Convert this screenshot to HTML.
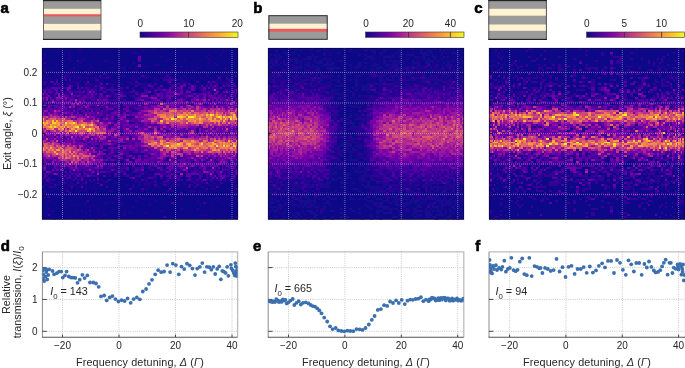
<!DOCTYPE html>
<html><head><meta charset="utf-8"><title>figure</title><style>
html,body{margin:0;padding:0;background:#fff}
body{width:685px;height:368px;overflow:hidden;position:relative}
svg.main{position:absolute;left:0;top:0;display:block;will-change:transform}
text{font-family:"Liberation Sans",sans-serif;fill:#262626}
.pl{font-size:15px;font-weight:bold;fill:#000;stroke:#000;stroke-width:0.6px}
.tk{font-size:10px}
.lb{font-size:10.8px}
</style></head><body>
<svg class="main" width="685" height="368" viewBox="0 0 685 368">
<text x="0.5" y="12.8" class="pl">a</text>
<text x="253.2" y="12.8" class="pl">b</text>
<text x="474.3" y="13.3" class="pl">c</text>
<text x="0.8" y="250.5" class="pl">d</text>
<text x="252.9" y="250.7" class="pl">e</text>
<text x="475.3" y="250.7" class="pl">f</text>
<rect x="43" y="0" width="58" height="40" fill="#9b9b9b"/><rect x="43" y="8.8" width="58" height="5.6" fill="#fff3d2"/><rect x="43" y="14.4" width="58" height="2" fill="#f2555a"/><rect x="43" y="23.9" width="58" height="6.5" fill="#fff3d2"/>
<rect x="43.5" y="-1" width="57.5" height="40.5" fill="none" stroke="#666" stroke-width="1"/>
<rect x="43" y="0" width="58" height="1.2" fill="#222"/><rect x="43" y="38.8" width="58" height="1.2" fill="#222"/>
<rect x="268.4" y="15.2" width="59.2" height="24.5" fill="#9b9b9b"/><rect x="268.4" y="23.7" width="59.2" height="5.2" fill="#fff3d2"/><rect x="268.4" y="28.9" width="59.2" height="2.7" fill="#f2555a"/>
<rect x="268.9" y="15.7" width="58.3" height="23.6" fill="none" stroke="#333" stroke-width="1"/>
<rect x="488.3" y="0" width="58.5" height="40" fill="#9b9b9b"/><rect x="488.3" y="8.8" width="58.5" height="6.9" fill="#fff3d2"/><rect x="488.3" y="24.5" width="58.5" height="6.3" fill="#fff3d2"/>
<rect x="488.8" y="-1" width="57.6" height="40.5" fill="none" stroke="#555" stroke-width="1"/>
<rect x="488.3" y="0" width="58.5" height="1.2" fill="#222"/><rect x="488.3" y="38.8" width="58.5" height="1.2" fill="#222"/>
<defs><linearGradient id="pg" x1="0" x2="1" y1="0" y2="0"><stop offset="0" stop-color="#0d0887"/><stop offset="0.1" stop-color="#41049d"/><stop offset="0.2" stop-color="#6a00a8"/><stop offset="0.3" stop-color="#8f0da4"/><stop offset="0.4" stop-color="#b12a90"/><stop offset="0.5" stop-color="#cc4778"/><stop offset="0.6" stop-color="#e16462"/><stop offset="0.7" stop-color="#f2844b"/><stop offset="0.8" stop-color="#fca636"/><stop offset="0.9" stop-color="#fcce25"/><stop offset="1" stop-color="#f0f921"/></linearGradient></defs>
<rect x="140" y="32" width="98" height="5.3" fill="url(#pg)" stroke="#333" stroke-width="0.6"/><rect x="188.2" y="32" width="0.8" height="5.3" fill="#333"/><text x="140.3" y="26.8" class="tk" text-anchor="middle">0</text><text x="188.8" y="26.8" class="tk" text-anchor="middle">10</text><text x="237.2" y="26.8" class="tk" text-anchor="middle">20</text>
<rect x="365.6" y="32" width="98.4" height="5.3" fill="url(#pg)" stroke="#333" stroke-width="0.6"/><rect x="408" y="32" width="0.8" height="5.3" fill="#333"/><rect x="449.9" y="32" width="0.8" height="5.3" fill="#333"/><text x="366" y="26.8" class="tk" text-anchor="middle">0</text><text x="408.2" y="26.8" class="tk" text-anchor="middle">20</text><text x="450.4" y="26.8" class="tk" text-anchor="middle">40</text>
<rect x="586.6" y="32" width="98" height="5.3" fill="url(#pg)" stroke="#333" stroke-width="0.6"/><rect x="623.9" y="32" width="0.8" height="5.3" fill="#333"/><rect x="661.3" y="32" width="0.8" height="5.3" fill="#333"/><text x="586.8" y="26.8" class="tk" text-anchor="middle">0</text><text x="624.3" y="26.8" class="tk" text-anchor="middle">5</text><text x="661.4" y="26.8" class="tk" text-anchor="middle">10</text>
<svg x="42" y="48" width="196" height="171.5" viewBox="0 0 196 88" preserveAspectRatio="none" shape-rendering="crispEdges">
<rect width="196" height="88" fill="#0d0887"/>
<filter id="bl11" x="-5%" y="-5%" width="110%" height="110%"><feGaussianBlur stdDeviation="0.35 0.3"/></filter>
<g transform="translate(0 .5)" fill="none" stroke-width="1" filter="url(#bl11)">
<path stroke="#270692" d="M15.6 0h2M37.1 0h1.9M108.5 0h3.1M184.4 0h1.4M37.1 1h1.9M99.3 1h3.1M181.1 1h1.7M90.1 2h6.2M132.4 2h3M2 3h1.9M21.5 3h1.9M27.3 3h2M50.7 3h2M96.3 3h3M166.1 3h2.2M178.1 3h1.5M27.3 4h2M117.7 4h2.9M163.8 4h2.3M189.6 4h1.4M194 4h2M0 5h2M25.4 5h3.9M41 5h1.9M126.6 5h2.8M140.8 5h2.8M166.1 5h2.2M185.8 5h1.9M191 5h1.6M17.6 6h1.9M21.5 6h1.9M39 6h2M60.6 6h5.6M123.6 6h3M37.1 7h1.9M69.1 7h2.8M90.1 7h3.1M166.1 7h2.2M172.2 7h2M13.7 8h1.9M111.6 8h6.1M174.2 8h2M23.4 9h2M48.8 9h1.9M93.2 9h3.1M102.4 9h3.2M108.5 9h3.1M126.6 9h5.8M149.1 9h2.6M156.6 9h2.5M2 10h1.9M31.2 10h2M46.8 10h2M69.1 10h2.8M78 10h6.1M154.2 10h2.4M2 11h1.9M7.8 11h2M27.3 11h2M31.2 11h2M35.1 11h2M44.9 11h1.9M50.7 11h2M56.6 11h1.7M81.1 11h3M93.2 11h3.1M129.4 11h3M143.6 11h2.7M149.1 11h2.6M182.8 11h1.6M189.6 11h1.4M2 12h1.9M9.8 12h1.9M13.7 12h1.9M29.3 12h1.9M48.8 12h1.9M58.3 12h2.3M74.9 12h3.1M87.1 12h3M93.2 12h3.1M99.3 12h3.1M114.7 12h3M120.6 12h3M129.4 12h3M138.2 12h2.6M151.7 12h2.5M161.4 12h2.4M172.2 12h2M181.1 12h1.7M3.9 13h2M13.7 13h3.9M23.4 13h5.9M31.2 13h2M39 13h2M46.8 13h3.9M96.3 13h3M117.7 13h2.9M123.6 13h5.8M156.6 13h2.5M163.8 13h4.5M179.6 13h3.2M189.6 13h1.4M0 14h2M11.7 14h2M23.4 14h5.9M31.2 14h2M35.1 14h3.9M52.7 14h1.9M58.3 14h2.3M63.5 14h5.6M78 14h6.1M90.1 14h3.1M102.4 14h6.1M140.8 14h2.8M163.8 14h2.3M174.2 14h3.9M184.4 14h1.4M194 14h2M2 15h1.9M5.9 15h1.9M9.8 15h1.9M17.6 15h3.9M23.4 15h2M27.3 15h2M31.2 15h9.8M42.9 15h3.9M48.8 15h5.8M58.3 15h5.2M66.2 15h2.9M74.9 15h3.1M87.1 15h3M93.2 15h6.1M102.4 15h3.2M111.6 15h3.1M117.7 15h8.9M129.4 15h3M138.2 15h2.6M149.1 15h2.6M156.6 15h4.8M168.3 15h2M178.1 15h1.5M187.7 15h1.9M0 16h2M3.9 16h2M7.8 16h2M11.7 16h2M17.6 16h1.9M21.5 16h1.9M37.1 16h1.9M44.9 16h1.9M48.8 16h1.9M69.1 16h2.8M90.1 16h6.2M111.6 16h6.1M135.4 16h5.4M146.3 16h2.8M151.7 16h2.5M161.4 16h2.4M170.3 16h1.9M174.2 16h5.4M184.4 16h1.4M187.7 16h1.9M192.6 16h1.4M0 17h2M3.9 17h2M17.6 17h1.9M25.4 17h13.6M41 17h1.9M46.8 17h2M52.7 17h7.9M71.9 17h3M84.1 17h6M111.6 17h3.1M123.6 17h3M138.2 17h8.1M163.8 17h2.3M168.3 17h2M174.2 17h5.4M181.1 17h1.7M184.4 17h3.3M189.6 17h1.4M0 18h2M5.9 18h1.9M9.8 18h1.9M13.7 18h1.9M19.5 18h2M23.4 18h7.8M33.2 18h1.9M44.9 18h3.9M50.7 18h2M54.6 18h2M66.2 18h5.7M74.9 18h6.2M87.1 18h9.2M99.3 18h6.3M123.6 18h11.8M143.6 18h2.7M151.7 18h2.5M156.6 18h2.5M163.8 18h4.5M172.2 18h2M179.6 18h3.2M185.8 18h1.9M189.6 18h1.4M0 19h2M5.9 19h5.8M13.7 19h7.8M33.2 19h1.9M39 19h2M42.9 19h7.8M54.6 19h2M58.3 19h5.2M69.1 19h2.8M84.1 19h3M99.3 19h6.3M114.7 19h3M126.6 19h2.8M146.3 19h2.8M154.2 19h2.4M166.1 19h2.2M176.2 19h1.9M182.8 19h1.6M187.7 19h3.3M194 19h2M0 20h2M5.9 20h1.9M29.3 20h1.9M37.1 20h1.9M46.8 20h2M52.7 20h1.9M56.6 20h1.7M66.2 20h2.9M81.1 20h3M90.1 20h3.1M99.3 20h6.3M117.7 20h5.9M132.4 20h3M143.6 20h2.7M159.1 20h2.3M163.8 20h2.3M168.3 20h2M172.2 20h2M176.2 20h1.9M181.1 20h3.3M187.7 20h8.3M9.8 21h1.9M19.5 21h2M23.4 21h2M29.3 21h5.8M41 21h3.9M60.6 21h2.9M78 21h3.1M105.6 21h2.9M129.4 21h3M140.8 21h2.8M146.3 21h2.8M156.6 21h2.5M163.8 21h2.3M168.3 21h2M176.2 21h1.9M179.6 21h3.2M185.8 21h5.2M3.9 22h2M11.7 22h2M19.5 22h2M25.4 22h1.9M31.2 22h2M42.9 22h2M52.7 22h1.9M54.6 22h2M56.6 22h1.7M63.5 22h2.7M81.1 22h6M96.3 22h6.1M108.5 22h3.1M120.6 22h3M135.4 22h2.8M140.8 22h2.8M159.1 22h2.3M168.3 22h2M172.2 22h2M179.6 22h1.5M187.7 22h1.9M54.6 23h2M63.5 23h8.4M81.1 23h9M96.3 23h3M60.6 24h2.9M69.1 24h2.8M74.9 24h3.1M87.1 24h3M105.6 24h2.9M66.2 25h2.9M71.9 25h3M90.1 25h3.1M84.1 26h3M74.9 27h3.1M78 28h3.1M78 29h3.1M71.9 56h3M81.1 56h3M87.1 56h3M93.2 56h3.1M74.9 57h3.1M78 57h3.1M69.1 58h2.8M81.1 58h3M78 59h6.1M63.5 60h2.7M78 60h3.1M84.1 60h6M96.3 60h3M3.9 61h2M7.8 61h2M9.8 61h1.9M60.6 61h2.9M69.1 61h5.8M90.1 61h3.1M102.4 61h3.2M108.5 61h3.1M3.9 62h2M5.9 62h1.9M7.8 62h2M23.4 62h2M52.7 62h1.9M58.3 62h2.3M60.6 62h8.5M81.1 62h3M90.1 62h3.1M105.6 62h2.9M111.6 62h3.1M114.7 62h3M123.6 62h3M135.4 62h2.8M146.3 62h2.8M0 63h2M9.8 63h1.9M11.7 63h2M15.6 63h2M17.6 63h1.9M19.5 63h2M21.5 63h1.9M33.2 63h1.9M37.1 63h1.9M39 63h2M42.9 63h2M44.9 63h1.9M46.8 63h2M52.7 63h1.9M56.6 63h1.7M69.1 63h2.8M96.3 63h9.3M111.6 63h6.1M117.7 63h2.9M120.6 63h3M138.2 63h2.6M146.3 63h2.8M154.2 63h2.4M172.2 63h2M181.1 63h1.7M182.8 63h1.6M184.4 63h1.4M187.7 63h1.9M189.6 63h1.4M0 64h2M3.9 64h2M7.8 64h2M15.6 64h2M19.5 64h5.9M27.3 64h2M31.2 64h2M46.8 64h2M50.7 64h2M56.6 64h4M63.5 64h5.6M84.1 64h6M96.3 64h3M102.4 64h6.1M123.6 64h3M132.4 64h3M140.8 64h2.8M161.4 64h2.4M172.2 64h4M181.1 64h1.7M187.7 64h1.9M191 64h1.6M7.8 65h2M13.7 65h3.9M33.2 65h1.9M39 65h2M54.6 65h3.7M66.2 65h2.9M74.9 65h9.2M87.1 65h3M105.6 65h6M120.6 65h3M129.4 65h3M151.7 65h2.5M166.1 65h2.2M170.3 65h1.9M179.6 65h1.5M3.9 66h2M11.7 66h2M17.6 66h1.9M23.4 66h2M29.3 66h3.9M37.1 66h1.9M41 66h1.9M44.9 66h1.9M56.6 66h1.7M96.3 66h3M102.4 66h3.2M111.6 66h3.1M123.6 66h3M129.4 66h3M143.6 66h2.7M149.1 66h7.5M166.1 66h4.2M172.2 66h2M176.2 66h1.9M182.8 66h3M187.7 66h3.3M192.6 66h3.4M0 67h2M7.8 67h2M11.7 67h2M15.6 67h2M21.5 67h5.8M29.3 67h1.9M37.1 67h1.9M41 67h3.9M52.7 67h1.9M58.3 67h2.3M63.5 67h2.7M78 67h3.1M90.1 67h6.2M102.4 67h3.2M111.6 67h3.1M126.6 67h5.8M149.1 67h5.1M156.6 67h2.5M166.1 67h2.2M170.3 67h5.9M185.8 67h1.9M191 67h3M0 68h3.9M15.6 68h3.9M27.3 68h2M31.2 68h2M35.1 68h2M39 68h2M44.9 68h3.9M60.6 68h2.9M71.9 68h3M93.2 68h12.4M108.5 68h3.1M129.4 68h3M151.7 68h4.9M168.3 68h2M176.2 68h3.4M181.1 68h3.3M185.8 68h1.9M189.6 68h1.4M5.9 69h5.8M15.6 69h2M23.4 69h2M27.3 69h3.9M39 69h3.9M52.7 69h1.9M56.6 69h1.7M60.6 69h2.9M71.9 69h3M96.3 69h3M102.4 69h6.1M111.6 69h3.1M117.7 69h11.7M132.4 69h3M140.8 69h2.8M154.2 69h9.6M170.3 69h5.9M179.6 69h3.2M189.6 69h4.4M2 70h5.8M13.7 70h3.9M21.5 70h1.9M25.4 70h9.7M39 70h2M42.9 70h2M50.7 70h2M84.1 70h3M90.1 70h3.1M96.3 70h3M102.4 70h6.1M123.6 70h3M129.4 70h8.8M140.8 70h2.8M149.1 70h2.6M156.6 70h2.5M166.1 70h4.2M172.2 70h2M176.2 70h1.9M191 70h1.6M194 70h2M5.9 71h1.9M9.8 71h3.9M21.5 71h1.9M27.3 71h2M35.1 71h3.9M46.8 71h2M50.7 71h2M56.6 71h1.7M90.1 71h3.1M105.6 71h2.9M111.6 71h6.1M129.4 71h3M159.1 71h4.7M170.3 71h1.9M176.2 71h1.9M19.5 72h2M23.4 72h2M29.3 72h1.9M42.9 72h2M48.8 72h1.9M52.7 72h1.9M74.9 72h3.1M102.4 72h3.2M168.3 72h5.9M185.8 72h1.9M191 72h1.6M2 73h1.9M17.6 73h1.9M21.5 73h3.9M37.1 73h1.9M41 73h3.9M66.2 73h5.7M99.3 73h3.1M123.6 73h3M129.4 73h3M146.3 73h7.9M156.6 73h2.5M161.4 73h2.4M187.7 73h3.3M192.6 73h1.4M3.9 74h2M19.5 74h2M35.1 74h2M42.9 74h2M50.7 74h3.9M87.1 74h6.1M105.6 74h2.9M120.6 74h3M149.1 74h2.6M156.6 74h4.8M168.3 74h2M191 74h5M3.9 75h3.9M13.7 75h3.9M27.3 75h2M78 75h3.1M108.5 75h3.1M126.6 75h2.8M138.2 75h2.6M143.6 75h2.7M149.1 75h2.6M159.1 75h2.3M184.4 75h1.4M37.1 76h1.9M44.9 76h1.9M48.8 76h1.9M78 76h3.1M96.3 76h3M135.4 76h2.8M174.2 76h2M187.7 76h1.9M21.5 77h1.9M56.6 77h1.7M71.9 77h6.1M99.3 77h3.1M108.5 77h3.1M138.2 77h2.6M172.2 77h2M176.2 77h1.9M184.4 77h1.4M192.6 77h1.4M5.9 78h1.9M27.3 78h2M93.2 78h3.1M111.6 78h3.1M154.2 78h2.4M176.2 78h1.9M3.9 79h2M19.5 79h2M42.9 79h2M60.6 79h5.6M69.1 79h2.8M78 79h3.1M179.6 79h1.5M189.6 79h1.4M29.3 80h1.9M33.2 80h1.9M50.7 80h2M78 80h3.1M105.6 80h2.9M156.6 80h2.5M168.3 80h2M185.8 80h5.2M21.5 81h1.9M46.8 81h2M90.1 81h3.1M5.9 82h1.9M54.6 82h2M138.2 82h2.6M154.2 82h2.4M168.3 82h2M181.1 82h1.7M7.8 83h3.9M39 83h2M46.8 83h2M117.7 83h2.9M3.9 84h2M19.5 84h2M33.2 84h1.9M42.9 84h2M56.6 84h1.7M81.1 84h3M87.1 84h3M102.4 84h3.2M46.8 85h2M60.6 85h2.9M81.1 85h3M159.1 85h7M27.3 86h2M52.7 86h1.9M156.6 86h2.5M178.1 86h1.5M11.7 87h2M41 87h1.9M52.7 87h1.9M172.2 87h2"/>
<path stroke="#6900a8" d="M96.3 4h3M96.3 5h3M96.3 8h3M126.6 17h2.8M63.5 18h2.7M27.3 19h2M138.2 19h2.6M149.1 19h2.6M172.2 19h2M9.8 20h1.9M58.3 20h2.3M138.2 20h2.6M149.1 20h2.6M161.4 20h2.4M166.1 20h2.2M120.6 21h3M126.6 21h2.8M149.1 21h2.6M2 22h1.9M13.7 22h1.9M41 22h1.9M50.7 22h2M126.6 22h2.8M129.4 22h3M138.2 22h2.6M143.6 22h2.7M146.3 22h2.8M181.1 22h1.7M191 22h1.6M48.8 23h1.9M58.3 23h2.3M114.7 23h3M151.7 23h2.5M161.4 23h2.4M172.2 23h2M78 24h3.1M96.3 26h3M81.1 29h3M108.5 29h3.1M135.4 29h2.8M151.7 29h2.5M178.1 29h1.5M182.8 29h1.6M191 29h1.6M0 32h2M7.8 32h2M9.8 32h1.9M25.4 33h1.9M27.3 33h2M35.1 34h2M37.1 34h1.9M39 34h2M29.3 36h1.9M96.3 36h3M63.5 38h2.7M69.1 38h2.8M74.9 39h3.1M81.1 39h3M90.1 39h3.1M102.4 39h3.2M69.1 40h2.8M71.9 40h3M81.1 40h3M87.1 40h3M81.1 41h3M123.6 41h3M81.1 42h3M129.4 42h3M132.4 42h3M151.7 42h2.5M166.1 42h2.2M174.2 42h2M187.7 42h1.9M192.6 42h1.4M138.2 43h2.6M172.2 43h2M174.2 43h2M179.6 43h1.5M189.6 43h1.4M81.1 44h3M9.8 45h1.9M23.4 45h2M27.3 45h2M15.6 46h2M17.6 46h1.9M21.5 46h1.9M37.1 46h1.9M39 46h2M74.9 46h3.1M81.1 46h3M23.4 47h2M25.4 47h1.9M58.3 47h2.3M63.5 47h2.7M69.1 47h2.8M74.9 47h3.1M27.3 48h2M78 48h3.1M93.2 48h3.1M35.1 49h2M93.2 49h3.1M96.3 49h3M46.8 51h2M191 54h1.6M194 54h2M56.6 55h1.7M78 56h3.1M96.3 56h3M143.6 56h2.7M159.1 56h2.3M2 57h1.9M69.1 57h2.8M176.2 57h1.9M13.7 58h1.9M58.3 58h2.3M99.3 58h3.1M19.5 59h2M21.5 59h1.9M84.1 59h3M29.3 60h1.9M0 61h2M84.1 61h3M2 62h1.9M13.7 62h1.9M19.5 62h2M69.1 62h2.8M143.6 62h2.7M161.4 62h2.4M179.6 62h1.5M194 62h2M5.9 63h1.9M48.8 63h1.9M50.7 63h2M54.6 63h2M123.6 63h3M166.1 63h2.2M170.3 63h1.9M192.6 63h1.4M194 63h2M37.1 64h1.9M114.7 64h3M149.1 64h2.6M154.2 64h2.4M21.5 65h1.9M35.1 65h2M117.7 65h2.9M132.4 65h3M143.6 65h5.5M172.2 65h2M181.1 65h1.7M191 65h1.6M90.1 66h3.1M132.4 66h3M170.3 66h1.9M174.2 66h2M161.4 67h2.4M126.6 72h2.8"/>
<path stroke="#40049d" d="M35.1 6h2M2 7h1.9M132.4 9h3M138.2 9h2.6M182.8 10h1.6M19.5 12h2M42.9 12h2M90.1 12h3.1M44.9 13h1.9M60.6 13h2.9M21.5 14h1.9M56.6 14h1.7M99.3 14h3.1M123.6 14h3M21.5 15h1.9M63.5 15h2.7M126.6 15h2.8M184.4 15h1.4M13.7 16h1.9M23.4 16h2M27.3 16h2M52.7 16h3.9M120.6 16h11.8M185.8 16h1.9M189.6 16h1.4M2 17h1.9M93.2 17h3.1M154.2 17h2.4M172.2 17h2M2 18h1.9M15.6 18h2M35.1 18h2M42.9 18h2M96.3 18h3M105.6 18h2.9M111.6 18h3.1M135.4 18h2.8M146.3 18h2.8M168.3 18h2M174.2 18h2M184.4 18h1.4M191 18h1.6M29.3 19h1.9M35.1 19h2M56.6 19h1.7M74.9 19h3.1M93.2 19h3.1M108.5 19h3.1M129.4 19h3M151.7 19h2.5M163.8 19h2.3M168.3 19h3.9M174.2 19h2M179.6 19h1.5M184.4 19h1.4M191 19h1.6M3.9 20h2M7.8 20h2M17.6 20h1.9M21.5 20h3.9M41 20h5.8M50.7 20h2M60.6 20h2.9M69.1 20h2.8M78 20h3.1M84.1 20h3M108.5 20h3.1M114.7 20h3M129.4 20h3M146.3 20h2.8M151.7 20h2.5M156.6 20h2.5M174.2 20h2M3.9 21h2M7.8 21h2M27.3 21h2M37.1 21h1.9M46.8 21h2M50.7 21h3.9M56.6 21h4M63.5 21h14.5M90.1 21h3.1M102.4 21h3.2M114.7 21h5.9M123.6 21h3M132.4 21h5.8M143.6 21h2.7M151.7 21h2.5M159.1 21h2.3M170.3 21h1.9M174.2 21h2M182.8 21h3M191 21h1.6M69.1 22h2.8M78 22h3.1M87.1 22h9.2M102.4 22h3.2M111.6 22h3.1M117.7 22h2.9M71.9 23h3M102.4 23h3.2M71.9 24h3M90.1 24h3.1M96.3 24h3M78 25h3.1M93.2 25h3.1M74.9 26h3.1M81.1 26h3M81.1 27h3M84.1 27h3M90.1 27h3.1M81.1 57h3M90.1 58h3.1M71.9 59h6.1M87.1 59h6.1M93.2 59h3.1M66.2 60h2.9M71.9 60h3M81.1 60h3M99.3 60h3.1M63.5 61h5.6M74.9 61h9.2M93.2 61h6.1M71.9 62h3M78 62h3.1M84.1 62h3M96.3 62h3M108.5 62h3.1M63.5 63h5.6M78 63h6.1M90.1 63h6.2M5.9 64h1.9M9.8 64h1.9M17.6 64h1.9M25.4 64h1.9M35.1 64h2M41 64h1.9M44.9 64h1.9M48.8 64h1.9M99.3 64h3.1M117.7 64h5.9M126.6 64h2.8M156.6 64h4.8M163.8 64h4.5M170.3 64h1.9M185.8 64h1.9M189.6 64h1.4M3.9 65h2M17.6 65h1.9M23.4 65h2M31.2 65h2M37.1 65h1.9M41 65h3.9M48.8 65h5.8M71.9 65h3M84.1 65h3M93.2 65h6.1M111.6 65h3.1M135.4 65h2.8M159.1 65h2.3M163.8 65h2.3M176.2 65h1.9M184.4 65h3.3M192.6 65h1.4M0 66h3.9M5.9 66h1.9M19.5 66h2M27.3 66h2M54.6 66h2M87.1 66h3M108.5 66h3.1M117.7 66h2.9M135.4 66h2.8M146.3 66h2.8M163.8 66h2.3M5.9 67h1.9M9.8 67h1.9M31.2 67h2M35.1 67h2M46.8 67h2M50.7 67h2M66.2 67h2.9M99.3 67h3.1M123.6 67h3M135.4 67h5.4M143.6 67h2.7M154.2 67h2.4M159.1 67h2.3M163.8 67h2.3M168.3 67h2M176.2 67h1.9M182.8 67h1.6M5.9 68h1.9M21.5 68h1.9M42.9 68h2M48.8 68h1.9M63.5 68h2.7M111.6 68h3.1M123.6 68h3M149.1 68h2.6M159.1 68h2.3M192.6 68h1.4M19.5 69h3.9M42.9 69h2M54.6 69h2M151.7 69h2.5M178.1 69h1.5M11.7 70h2M111.6 70h3.1M120.6 70h3M146.3 70h2.8M154.2 70h2.4M189.6 70h1.4M7.8 71h2M29.3 71h1.9M63.5 71h2.7M146.3 71h2.8M151.7 71h2.5M174.2 71h2M189.6 71h1.4M192.6 71h1.4M87.1 72h3M99.3 72h3.1M163.8 72h2.3M25.4 73h1.9M27.3 74h2M138.2 74h2.6M5.9 76h1.9M44.9 78h1.9M161.4 79h2.4M5.9 85h1.9M120.6 86h3M194 86h2"/>
<path stroke="#5502a2" d="M96.3 6h3M192.6 14h1.4M176.2 15h1.9M132.4 16h3M7.8 17h3.9M13.7 17h1.9M44.9 17h1.9M166.1 17h2.2M170.3 17h1.9M187.7 17h1.9M11.7 18h2M58.3 18h2.3M140.8 18h2.8M52.7 19h1.9M105.6 19h2.9M117.7 19h2.9M132.4 19h3M140.8 19h2.8M159.1 19h2.3M181.1 19h1.7M185.8 19h1.9M192.6 19h1.4M11.7 20h5.9M19.5 20h2M35.1 20h2M39 20h2M126.6 20h2.8M135.4 20h2.8M170.3 20h1.9M178.1 20h1.5M0 21h3.9M5.9 21h1.9M11.7 21h3.9M17.6 21h1.9M44.9 21h1.9M48.8 21h1.9M111.6 21h3.1M138.2 21h2.6M161.4 21h2.4M192.6 21h1.4M5.9 22h1.9M7.8 22h2M27.3 22h2M29.3 22h1.9M37.1 22h1.9M48.8 22h1.9M60.6 22h2.9M123.6 22h3M132.4 22h3M166.1 22h2.2M182.8 22h1.6M189.6 22h1.4M194 22h2M11.7 23h2M13.7 23h1.9M52.7 23h1.9M74.9 23h6.2M93.2 23h3.1M99.3 23h3.1M117.7 23h2.9M123.6 23h3M126.6 23h2.8M138.2 23h2.6M156.6 23h2.5M159.1 23h2.3M166.1 23h2.2M174.2 23h2M192.6 23h1.4M3.9 24h2M17.6 24h1.9M23.4 24h2M25.4 24h1.9M29.3 24h1.9M31.2 24h2M37.1 24h1.9M42.9 24h2M50.7 24h2M56.6 24h1.7M58.3 24h2.3M66.2 24h2.9M81.1 24h3M108.5 24h3.1M117.7 24h2.9M143.6 24h2.7M149.1 24h2.6M170.3 24h1.9M176.2 24h1.9M178.1 24h1.5M192.6 24h1.4M2 25h1.9M11.7 25h2M25.4 25h1.9M27.3 25h2M29.3 25h1.9M39 25h2M41 25h1.9M42.9 25h2M46.8 25h2M63.5 25h2.7M74.9 25h3.1M96.3 25h3M105.6 25h2.9M117.7 25h2.9M123.6 25h3M138.2 25h2.6M143.6 25h2.7M154.2 25h2.4M168.3 25h2M174.2 25h2M189.6 25h1.4M194 25h2M19.5 26h2M31.2 26h2M39 26h2M48.8 26h1.9M50.7 26h2M58.3 26h2.3M63.5 26h2.7M93.2 26h3.1M108.5 26h3.1M123.6 26h3M140.8 26h2.8M156.6 26h2.5M181.1 26h1.7M187.7 26h1.9M192.6 26h1.4M194 26h2M15.6 27h2M17.6 27h1.9M21.5 27h1.9M29.3 27h1.9M42.9 27h2M58.3 27h2.3M78 27h3.1M87.1 27h3M108.5 27h3.1M111.6 27h3.1M123.6 27h3M140.8 27h2.8M151.7 27h2.5M163.8 27h2.3M172.2 27h2M178.1 27h1.5M179.6 27h1.5M184.4 27h1.4M187.7 27h1.9M2 28h1.9M15.6 28h2M17.6 28h1.9M19.5 28h2M33.2 28h1.9M37.1 28h1.9M52.7 28h1.9M54.6 28h2M60.6 28h2.9M63.5 28h2.7M69.1 28h2.8M71.9 28h3M81.1 28h3M87.1 28h3M90.1 28h3.1M96.3 28h3M138.2 28h2.6M140.8 28h2.8M166.1 28h2.2M170.3 28h1.9M194 28h2M35.1 29h2M42.9 29h2M46.8 29h2M48.8 29h1.9M50.7 29h2M52.7 29h1.9M87.1 29h3M11.7 30h2M13.7 30h1.9M23.4 30h2M71.9 30h3M96.3 30h3M5.9 31h1.9M11.7 31h2M21.5 31h1.9M35.1 31h2M46.8 31h2M48.8 31h1.9M52.7 31h1.9M63.5 31h2.7M84.1 31h3M93.2 31h3.1M21.5 32h1.9M23.4 32h2M25.4 32h1.9M27.3 32h2M35.1 32h2M39 32h2M41 32h1.9M44.9 32h1.9M52.7 32h1.9M58.3 32h2.3M63.5 32h2.7M71.9 32h3M74.9 32h3.1M41 33h1.9M44.9 33h1.9M48.8 33h1.9M56.6 33h1.7M58.3 33h2.3M74.9 33h3.1M90.1 33h3.1M3.9 34h2M50.7 34h2M52.7 34h1.9M54.6 34h2M66.2 34h2.9M69.1 34h2.8M71.9 34h3M78 34h3.1M87.1 34h3M56.6 35h1.7M66.2 36h2.9M81.1 36h3M90.1 36h3.1M87.1 37h3M90.1 37h3.1M29.3 47h1.9M33.2 47h1.9M35.1 47h2M41 47h1.9M35.1 48h2M48.8 48h1.9M52.7 48h1.9M56.6 48h1.7M54.6 49h2M71.9 49h3M46.8 50h2M50.7 50h2M90.1 50h3.1M71.9 51h3M84.1 51h3M93.2 51h3.1M56.6 52h1.7M78 52h3.1M81.1 52h3M87.1 52h3M90.1 52h3.1M99.3 52h3.1M93.2 53h3.1M102.4 53h3.2M66.2 54h2.9M81.1 54h3M105.6 54h2.9M63.5 55h2.7M74.9 55h3.1M84.1 55h3M108.5 55h3.1M66.2 56h2.9M74.9 56h3.1M105.6 56h2.9M111.6 56h3.1M60.6 57h2.9M105.6 57h2.9M108.5 57h3.1M111.6 57h3.1M135.4 57h2.8M138.2 57h2.6M3.9 58h2M74.9 58h3.1M84.1 58h3M96.3 58h3M123.6 58h3M126.6 58h2.8M140.8 58h2.8M143.6 58h2.7M146.3 58h2.8M151.7 58h2.5M159.1 58h2.3M176.2 58h1.9M179.6 58h1.5M187.7 58h1.9M69.1 59h2.8M96.3 59h3M102.4 59h3.2M105.6 59h2.9M120.6 59h3M138.2 59h2.6M146.3 59h2.8M149.1 59h2.6M161.4 59h2.4M170.3 59h1.9M174.2 59h2M181.1 59h1.7M191 59h1.6M192.6 59h1.4M0 60h2M13.7 60h1.9M19.5 60h2M23.4 60h2M69.1 60h2.8M90.1 60h3.1M143.6 60h2.7M146.3 60h2.8M151.7 60h2.5M156.6 60h2.5M170.3 60h1.9M179.6 60h1.5M185.8 60h1.9M191 60h1.6M11.7 61h2M21.5 61h1.9M31.2 61h2M50.7 61h2M56.6 61h1.7M99.3 61h3.1M117.7 61h2.9M138.2 61h2.6M156.6 61h2.5M179.6 61h1.5M182.8 61h1.6M185.8 61h1.9M187.7 61h1.9M0 62h2M29.3 62h1.9M48.8 62h1.9M54.6 62h2M93.2 62h3.1M117.7 62h2.9M132.4 62h3M168.3 62h2M172.2 62h2M182.8 62h1.6M189.6 62h1.4M7.8 63h2M23.4 63h2M27.3 63h2M58.3 63h5.2M74.9 63h3.1M132.4 63h3M135.4 63h2.8M143.6 63h2.7M151.7 63h2.5M174.2 63h2M179.6 63h1.5M2 64h1.9M29.3 64h1.9M33.2 64h1.9M42.9 64h2M71.9 64h3M81.1 64h3M111.6 64h3.1M129.4 64h3M143.6 64h5.5M151.7 64h2.5M176.2 64h3.4M182.8 64h1.6M192.6 64h1.4M2 65h1.9M27.3 65h2M46.8 65h2M60.6 65h2.9M123.6 65h5.8M138.2 65h2.6M156.6 65h2.5M168.3 65h2M182.8 65h1.6M25.4 66h1.9M33.2 66h1.9M39 66h2M105.6 66h2.9M126.6 66h2.8M156.6 66h2.5M178.1 66h1.5M181.1 66h1.7M191 66h1.6M3.9 67h2M19.5 67h2M39 67h2M54.6 67h2M146.3 67h2.8M178.1 67h1.5M187.7 67h1.9M3.9 68h2M120.6 68h3M132.4 68h3M35.1 69h2M163.8 69h2.3M58.3 70h2.3M0 71h2M39 71h2M194 72h2M129.4 79h3"/>
<path stroke="#8e0da4" d="M96.3 9h3M99.3 24h3.1M102.4 24h3.2M13.7 34h1.9M42.9 36h2M9.8 43h1.9M154.2 45h2.4M111.6 46h3.1M23.4 49h2M120.6 52h3M84.1 57h3M11.7 64h2M179.6 66h1.5"/>
<path stroke="#7c06a6" d="M25.4 20h3.9M25.4 21h1.9M194 21h2M105.6 22h2.9M108.5 30h3.1M102.4 31h3.2M123.6 40h3M96.3 42h3M99.3 42h3.1M42.9 44h2M93.2 44h3.1M63.5 45h2.7M56.6 46h1.7M11.7 47h2M108.5 52h3.1M48.8 53h1.9M174.2 55h2M52.7 58h1.9M87.1 58h3M99.3 62h3.1M13.7 64h1.9M194 64h2M44.9 65h1.9M178.1 65h1.5"/>
<path stroke="#bd3785" d="M172.2 21h2M140.8 32h2.8M149.1 33h2.6M2 35h1.9M189.6 49h1.4M172.2 53h2M31.2 54h2"/>
<path stroke="#41049d" d="M0 22h2M9.8 22h1.9M17.6 22h1.9M23.4 22h2M33.2 22h1.9M35.1 22h2M39 22h2M44.9 22h1.9M161.4 22h2.4M163.8 22h2.3M176.2 22h1.9M185.8 22h1.9M2 23h1.9M7.8 23h2M21.5 23h1.9M23.4 23h2M27.3 23h2M33.2 23h1.9M37.1 23h1.9M39 23h2M46.8 23h2M50.7 23h2M56.6 23h1.7M111.6 23h3.1M120.6 23h3M129.4 23h3M140.8 23h2.8M143.6 23h2.7M149.1 23h2.6M154.2 23h2.4M163.8 23h2.3M168.3 23h2M178.1 23h1.5M179.6 23h1.5M184.4 23h1.4M187.7 23h1.9M189.6 23h1.4M194 23h2M0 24h2M2 24h1.9M9.8 24h1.9M11.7 24h2M33.2 24h1.9M44.9 24h1.9M46.8 24h2M111.6 24h3.1M120.6 24h3M135.4 24h2.8M140.8 24h2.8M156.6 24h2.5M163.8 24h2.3M172.2 24h2M181.1 24h1.7M191 24h1.6M31.2 25h2M35.1 25h2M37.1 25h1.9M44.9 25h1.9M48.8 25h1.9M50.7 25h2M52.7 25h1.9M58.3 25h2.3M60.6 25h2.9M99.3 25h3.1M102.4 25h3.2M120.6 25h3M132.4 25h3M149.1 25h2.6M156.6 25h2.5M159.1 25h2.3M166.1 25h2.2M178.1 25h1.5M181.1 25h1.7M182.8 25h1.6M56.6 26h1.7M66.2 26h2.9M69.1 26h2.8M71.9 26h3M102.4 26h3.2M126.6 26h2.8M163.8 26h2.3M168.3 26h2M176.2 26h1.9M60.6 27h2.9M66.2 27h2.9M71.9 27h3M93.2 27h3.1M99.3 27h3.1M84.1 28h3M93.2 28h3.1M99.3 28h3.1M63.5 29h2.7M66.2 29h2.9M71.9 29h3M84.1 29h3M90.1 29h3.1M58.3 30h2.3M60.6 30h2.9M66.2 30h2.9M69.1 30h2.8M74.9 30h3.1M90.1 30h3.1M93.2 30h3.1M42.9 31h2M50.7 31h2M54.6 31h2M60.6 31h2.9M74.9 31h3.1M54.6 32h2M56.6 32h1.7M60.6 32h2.9M78 32h3.1M81.1 32h3M87.1 32h3M52.7 33h1.9M60.6 33h2.9M63.5 33h2.7M50.7 49h2M56.6 51h1.7M58.3 52h2.3M63.5 52h2.7M66.2 52h2.9M71.9 52h3M84.1 52h3M96.3 52h3M66.2 53h2.9M71.9 53h3M74.9 53h3.1M81.1 53h3M84.1 53h3M90.1 53h3.1M96.3 53h3M69.1 54h2.8M84.1 54h3M102.4 54h3.2M66.2 55h2.9M69.1 55h2.8M78 55h3.1M90.1 55h3.1M99.3 55h3.1M63.5 56h2.7M84.1 56h3M102.4 56h3.2M66.2 57h2.9M71.9 57h3M99.3 57h3.1M0 58h2M105.6 58h2.9M111.6 58h3.1M2 59h1.9M7.8 59h2M66.2 59h2.9M99.3 59h3.1M108.5 59h3.1M111.6 59h3.1M114.7 59h3M5.9 60h1.9M15.6 60h2M60.6 60h2.9M105.6 60h2.9M108.5 60h3.1M114.7 60h3M117.7 60h2.9M123.6 60h3M132.4 60h3M154.2 60h2.4M163.8 60h2.3M166.1 60h2.2M176.2 60h1.9M182.8 60h1.6M189.6 60h1.4M5.9 61h1.9M13.7 61h1.9M15.6 61h2M17.6 61h1.9M23.4 61h2M105.6 61h2.9M132.4 61h3M135.4 61h2.8M140.8 61h2.8M146.3 61h2.8M151.7 61h2.5M159.1 61h2.3M163.8 61h2.3M172.2 61h2M189.6 61h1.4M192.6 61h1.4M11.7 62h2M15.6 62h2M27.3 62h2M33.2 62h1.9M37.1 62h1.9M39 62h2M41 62h1.9M42.9 62h2M50.7 62h2M120.6 62h3M129.4 62h3M138.2 62h2.6M151.7 62h2.5M154.2 62h2.4M159.1 62h2.3M166.1 62h2.2M170.3 62h1.9M174.2 62h2M176.2 62h1.9M181.1 62h1.7M184.4 62h1.4M185.8 62h1.9M192.6 62h1.4M31.2 63h2M35.1 63h2M41 63h1.9M126.6 63h2.8M149.1 63h2.6M156.6 63h2.5M168.3 63h2M176.2 63h1.9M185.8 63h1.9M191 63h1.6"/>
<path stroke="#0e0887" d="M15.6 22h2M21.5 22h1.9M170.3 22h1.9M178.1 22h1.5M192.6 22h1.4M96.3 27h3M74.9 28h3.1M81.1 55h3M69.1 56h2.8M102.4 60h3.2M111.6 61h3.1M21.5 62h1.9"/>
<path stroke="#8d0ca4" d="M46.8 22h2M17.6 34h1.9M105.6 37h2.9M3.9 43h2M44.9 43h1.9M166.1 45h2.2M174.2 45h2M187.7 45h1.9M7.8 47h2M25.4 49h1.9M7.8 56h2M42.9 59h2M46.8 59h2M2 61h1.9M17.6 62h1.9M140.8 62h2.8M161.4 63h2.4M163.8 63h2.3M178.1 63h1.5"/>
<path stroke="#7b06a6" d="M174.2 22h2M184.4 22h1.4M135.4 23h2.8M63.5 24h2.7M99.3 26h3.1M159.1 30h2.3M161.4 30h2.4M166.1 30h2.2M178.1 30h1.5M189.6 30h1.4M99.3 33h3.1M99.3 34h3.1M41 35h1.9M117.7 40h2.9M149.1 44h2.6M29.3 49h1.9M31.2 49h2M54.6 55h2M71.9 55h3M87.1 55h3M132.4 55h3M90.1 56h3.1M46.8 57h2M93.2 57h3.1M96.3 57h3M54.6 58h2M93.2 58h3.1M29.3 59h1.9M52.7 59h1.9M42.9 60h2M44.9 60h1.9M114.7 61h3M9.8 62h1.9M126.6 62h2.8M3.9 63h2"/>
<path stroke="#9d199c" d="M0 23h2M29.3 23h1.9M132.4 23h3M156.6 31h2.5M181.1 31h1.7M189.6 31h1.4M192.6 31h1.4M27.3 35h2M114.7 36h3M58.3 39h2.3M114.7 51h3M2 55h1.9M13.7 55h1.9M31.2 62h2"/>
<path stroke="#6800a8" d="M3.9 23h2M19.5 23h2M44.9 23h1.9M19.5 24h2M21.5 24h1.9M35.1 24h2M41 24h1.9M48.8 24h1.9M114.7 24h3M123.6 24h3M126.6 24h2.8M129.4 24h3M154.2 24h2.4M161.4 24h2.4M166.1 24h2.2M187.7 24h1.9M7.8 25h2M19.5 25h2M21.5 25h1.9M56.6 25h1.7M170.3 25h1.9M176.2 25h1.9M179.6 25h1.5M185.8 25h1.9M7.8 26h2M13.7 26h1.9M15.6 26h2M23.4 26h2M27.3 26h2M29.3 26h1.9M37.1 26h1.9M41 26h1.9M111.6 26h3.1M149.1 26h2.6M151.7 26h2.5M170.3 26h1.9M178.1 26h1.5M179.6 26h1.5M182.8 26h1.6M185.8 26h1.9M0 27h2M5.9 27h1.9M11.7 27h2M23.4 27h2M46.8 27h2M56.6 27h1.7M102.4 27h3.2M105.6 27h2.9M129.4 27h3M135.4 27h2.8M156.6 27h2.5M182.8 27h1.6M25.4 28h1.9M39 28h2M123.6 28h3M126.6 28h2.8M132.4 28h3M184.4 28h1.4M185.8 28h1.9M189.6 28h1.4M5.9 29h1.9M13.7 29h1.9M29.3 29h1.9M58.3 29h2.3M60.6 29h2.9M74.9 29h3.1M15.6 30h2M17.6 30h1.9M19.5 30h2M29.3 30h1.9M39 30h2M84.1 30h3M3.9 31h2M7.8 31h2M15.6 31h2M17.6 31h1.9M19.5 31h2M23.4 31h2M37.1 31h1.9M44.9 31h1.9M56.6 31h1.7M66.2 31h2.9M69.1 31h2.8M81.1 31h3M42.9 33h2M50.7 33h2M69.1 33h2.8M81.1 33h3M56.6 34h1.7M58.3 34h2.3M63.5 34h2.7M90.1 34h3.1M93.2 34h3.1M63.5 35h2.7M69.1 36h2.8M81.1 37h3M96.3 37h3M84.1 38h3M33.2 46h1.9M42.9 47h2M46.8 47h2M37.1 48h1.9M46.8 48h2M63.5 48h2.7M41 49h1.9M52.7 49h1.9M58.3 49h2.3M60.6 49h2.9M69.1 49h2.8M58.3 50h2.3M74.9 50h3.1M78 50h3.1M84.1 50h3M50.7 51h2M52.7 51h1.9M66.2 51h2.9M69.1 51h2.8M74.9 51h3.1M60.6 52h2.9M69.1 52h2.8M93.2 52h3.1M69.1 53h2.8M78 53h3.1M99.3 53h3.1M96.3 55h3M102.4 55h3.2M111.6 55h3.1M108.5 56h3.1M120.6 56h3M63.5 57h2.7M102.4 57h3.2M140.8 57h2.8M2 58h1.9M102.4 58h3.2M108.5 58h3.1M117.7 58h2.9M129.4 58h3M138.2 58h2.6M154.2 58h2.4M163.8 58h2.3M168.3 58h2M170.3 58h1.9M182.8 58h1.6M191 58h1.6M3.9 59h2M9.8 59h1.9M117.7 59h2.9M129.4 59h3M135.4 59h2.8M163.8 59h2.3M166.1 59h2.2M2 60h1.9M11.7 60h2M111.6 60h3.1M129.4 60h3M135.4 60h2.8M140.8 60h2.8M161.4 60h2.4M168.3 60h2M174.2 60h2M184.4 60h1.4M187.7 60h1.9M192.6 60h1.4M27.3 61h2M29.3 61h1.9M35.1 61h2M58.3 61h2.3M123.6 61h3M126.6 61h2.8M129.4 61h3M161.4 61h2.4M176.2 61h1.9M191 61h1.6M35.1 62h2M44.9 62h1.9"/>
<path stroke="#280692" d="M5.9 23h1.9M25.4 23h1.9M35.1 23h2M41 23h1.9M42.9 23h2M146.3 23h2.8M176.2 23h1.9M181.1 23h1.7M185.8 23h1.9M191 23h1.6M52.7 24h1.9M54.6 24h2M132.4 24h3M138.2 24h2.6M151.7 24h2.5M159.1 24h2.3M174.2 24h2M184.4 24h1.4M185.8 24h1.9M189.6 24h1.4M114.7 25h3M105.6 26h2.9M69.1 27h2.8M66.2 28h2.9M69.1 29h2.8M93.2 29h3.1M78 30h3.1M81.1 30h3M87.1 30h3M87.1 53h3M74.9 54h3.1M87.1 54h3M93.2 54h3.1M96.3 54h3M93.2 55h3.1M99.3 56h3.1M66.2 58h2.9M0 59h2M63.5 59h2.7M7.8 60h2M9.8 60h1.9M19.5 61h2M154.2 61h2.4M166.1 61h2.2M168.3 61h2M181.1 61h1.7M184.4 61h1.4M194 61h2M149.1 62h2.6M163.8 62h2.3M178.1 62h1.5M187.7 62h1.9M191 62h1.6"/>
<path stroke="#0f0888" d="M9.8 23h1.9M17.6 23h1.9M31.2 23h2M179.6 24h1.5M194 24h2M54.6 25h2M78 31h3.1M71.9 54h3M90.1 54h3.1M99.3 54h3.1M3.9 60h2M120.6 61h3M149.1 61h2.6M174.2 61h2M178.1 61h1.5"/>
<path stroke="#8c0ca4" d="M15.6 23h2M15.6 24h2M108.5 25h3.1M111.6 25h3.1M111.6 30h3.1M37.1 35h1.9M60.6 39h2.9M27.3 44h2M138.2 52h2.6M78 54h3.1M166.1 55h2.2M5.9 56h1.9M23.4 58h2M138.2 60h2.6M46.8 62h2"/>
<path stroke="#0e0888" d="M170.3 23h1.9M182.8 23h1.6M25.4 62h1.9M156.6 62h2.5"/>
<path stroke="#7a06a6" d="M5.9 24h1.9M146.3 24h2.8M168.3 24h2M182.8 24h1.6M126.6 25h2.8M151.7 25h2.5M161.4 25h2.4M172.2 25h2M0 26h2M9.8 26h1.9M60.6 26h2.9M114.7 26h3M135.4 26h2.8M138.2 26h2.6M159.1 26h2.3M174.2 26h2M189.6 26h1.4M41 27h1.9M63.5 27h2.7M117.7 27h2.9M132.4 27h3M138.2 27h2.6M149.1 27h2.6M161.4 27h2.4M170.3 27h1.9M176.2 27h1.9M189.6 27h1.4M44.9 28h1.9M46.8 28h2M56.6 28h1.7M19.5 29h2M37.1 29h1.9M126.6 29h2.8M129.4 29h3M170.3 29h1.9M184.4 29h1.4M44.9 30h1.9M102.4 30h3.2M48.8 32h1.9M84.1 32h3M13.7 33h1.9M21.5 33h1.9M46.8 33h2M71.9 33h3M74.9 34h3.1M81.1 34h3M84.1 34h3M96.3 34h3M42.9 35h2M46.8 35h2M60.6 38h2.9M102.4 38h3.2M108.5 40h3.1M96.3 41h3M151.7 41h2.5M166.1 41h2.2M176.2 41h1.9M182.8 41h1.6M192.6 41h1.4M84.1 42h3M114.7 42h3M84.1 43h3M154.2 44h2.4M181.1 44h1.7M185.8 44h1.9M7.8 45h2M69.1 45h2.8M78 45h3.1M81.1 45h3M84.1 45h3M42.9 46h2M17.6 47h1.9M7.8 48h2M25.4 48h1.9M44.9 48h1.9M50.7 48h2M48.8 49h1.9M63.5 49h2.7M41 50h1.9M58.3 51h2.3M87.1 51h3M90.1 51h3.1M52.7 53h1.9M60.6 54h2.9M146.3 56h2.8M156.6 56h2.5M184.4 56h1.4M191 56h1.6M117.7 57h2.9M15.6 58h2M5.9 59h1.9M60.6 59h2.9M123.6 59h3M154.2 59h2.4M159.1 59h2.3M176.2 59h1.9M178.1 59h1.5M17.6 60h1.9M126.6 60h2.8M172.2 60h2M52.7 61h1.9M54.6 61h2"/>
<path stroke="#280693" d="M7.8 24h2M27.3 24h2M39 24h2M129.4 25h3M87.1 31h3M63.5 53h2.7"/>
<path stroke="#100888" d="M13.7 24h1.9M33.2 25h1.9M184.4 25h1.4M52.7 26h1.9M132.4 26h3M58.3 31h2.3M71.9 31h3M46.8 32h2M54.6 50h2M60.6 51h2.9M63.5 51h2.7M74.9 52h3.1M60.6 53h2.9M63.5 54h2.7M63.5 58h2.7M120.6 60h3M194 60h2"/>
<path stroke="#9c189d" d="M0 25h2M154.2 26h2.4M161.4 26h2.4M184.4 26h1.4M182.8 32h1.6M184.4 32h1.4M187.7 32h1.9M54.6 33h2M11.7 34h2M96.3 45h3M149.1 45h2.6M99.3 48h3.1M0 55h2"/>
<path stroke="#8b0ca4" d="M3.9 25h2M13.7 25h1.9M15.6 25h2M17.6 25h1.9M23.4 25h2M3.9 26h2M54.6 26h2M166.1 26h2.2M19.5 27h2M21.5 28h1.9M29.3 28h1.9M31.2 28h2M0 29h2M2 29h1.9M31.2 29h2M41 29h1.9M44.9 29h1.9M96.3 29h3M21.5 30h1.9M31.2 30h2M63.5 30h2.7M143.6 30h2.7M170.3 30h1.9M0 33h2M5.9 33h1.9M39 35h2M81.1 35h3M63.5 36h2.7M56.6 44h1.7M132.4 44h3M0 45h2M37.1 45h1.9M81.1 51h3M0 54h2M114.7 56h3M11.7 57h2M54.6 57h2M114.7 58h3M31.2 59h2M58.3 60h2.3M149.1 60h2.6M159.1 60h2.3M33.2 61h1.9"/>
<path stroke="#42049d" d="M5.9 25h1.9M2 26h1.9M17.6 26h1.9M21.5 26h1.9M35.1 26h2M44.9 26h1.9M2 27h1.9M7.8 27h2M13.7 27h1.9M35.1 27h2M39 27h2M50.7 27h2M52.7 27h1.9M54.6 27h2M114.7 27h3M146.3 27h2.8M154.2 27h2.4M159.1 27h2.3M166.1 27h2.2M174.2 27h2M185.8 27h1.9M192.6 27h1.4M0 28h2M5.9 28h1.9M13.7 28h1.9M23.4 28h2M48.8 28h1.9M50.7 28h2M105.6 28h2.9M108.5 28h3.1M192.6 28h1.4M3.9 29h2M9.8 29h1.9M17.6 29h1.9M21.5 29h1.9M25.4 29h1.9M33.2 29h1.9M39 29h2M3.9 30h2M7.8 30h2M25.4 30h1.9M35.1 30h2M37.1 30h1.9M41 30h1.9M46.8 30h2M52.7 30h1.9M54.6 30h2M9.8 31h1.9M13.7 31h1.9M27.3 31h2M29.3 31h1.9M31.2 31h2M39 31h2M33.2 32h1.9M87.1 33h3M48.8 34h1.9M54.6 35h2M60.6 35h2.9M66.2 35h2.9M74.9 35h3.1M71.9 36h3M84.1 36h3M37.1 47h1.9M42.9 48h2M54.6 48h2M69.1 50h2.8M54.6 51h2M96.3 51h3M54.6 52h2M114.7 57h3M120.6 57h3M129.4 57h3M132.4 57h3M60.6 58h2.9M120.6 58h3M156.6 58h2.5M172.2 58h2M194 58h2M11.7 59h2M151.7 59h2.5M156.6 59h2.5M168.3 59h2M179.6 59h1.5M182.8 59h1.6M187.7 59h1.9M194 59h2M37.1 61h1.9M48.8 61h1.9"/>
<path stroke="#110889" d="M9.8 25h1.9M5.9 26h1.9M25.4 26h1.9M42.9 26h2M191 26h1.6M48.8 27h1.9M120.6 27h3M27.3 29h2M41 48h1.9M56.6 49h1.7M78 51h3.1M185.8 59h1.9M189.6 59h1.4"/>
<path stroke="#290693" d="M135.4 25h2.8M140.8 25h2.8M146.3 25h2.8M163.8 25h2.3M187.7 25h1.9M191 25h1.6M192.6 25h1.4M46.8 26h2M117.7 26h2.9M120.6 26h3M129.4 26h3M146.3 26h2.8M172.2 26h2M58.3 28h2.3M56.6 29h1.7M33.2 30h1.9M48.8 30h1.9M50.7 30h2M56.6 30h1.7M33.2 31h1.9M41 31h1.9M90.1 31h3.1M37.1 32h1.9M42.9 32h2M50.7 32h2M66.2 32h2.9M69.1 32h2.8M90.1 32h3.1M66.2 33h2.9M78 33h3.1M84.1 33h3M60.6 34h2.9M46.8 49h2M52.7 50h1.9M56.6 50h1.7M60.6 50h2.9M63.5 50h2.7M66.2 50h2.9M105.6 55h2.9M126.6 59h2.8M132.4 59h3M143.6 59h2.7M172.2 59h2M184.4 59h1.4M178.1 60h1.5M181.1 60h1.7M25.4 61h1.9"/>
<path stroke="#2a0693" d="M11.7 26h2M31.2 27h2M44.9 27h1.9M126.6 27h2.8M168.3 27h2M181.1 27h1.7M194 27h2M3.9 28h2M9.8 28h1.9M11.7 28h2M27.3 28h2M41 28h1.9M42.9 28h2M15.6 29h2M23.4 29h2M99.3 29h3.1M0 30h2M9.8 30h1.9M25.4 31h1.9M29.3 32h1.9M39 33h2M71.9 35h3M87.1 35h3M39 47h2M44.9 49h1.9M48.8 50h1.9M71.9 50h3M60.6 55h2.9M135.4 58h2.8M174.2 58h2M192.6 58h1.4M56.6 60h1.7"/>
<path stroke="#ab2593" d="M33.2 26h1.9M54.6 29h2M27.3 30h2M23.4 36h2M111.6 44h3.1M2 47h1.9"/>
<path stroke="#110888" d="M143.6 26h2.7"/>
<path stroke="#120889" d="M3.9 27h2M7.8 28h2M2 30h1.9M58.3 35h2.3M84.1 35h3M60.6 56h2.9M123.6 57h3M149.1 58h2.6M161.4 58h2.4M185.8 58h1.9"/>
<path stroke="#ab2594" d="M9.8 27h1.9M35.1 28h2M120.6 32h3M170.3 54h1.9M3.9 55h2M48.8 55h1.9M21.5 60h1.9"/>
<path stroke="#7a05a6" d="M25.4 27h1.9M27.3 27h2M129.4 28h3M143.6 28h2.7M151.7 28h2.5M154.2 28h2.4M168.3 28h2M191 28h1.6M7.8 29h2M11.7 29h2M5.9 30h1.9M0 31h2M17.6 32h1.9M31.2 32h2M29.3 33h1.9M35.1 33h2M46.8 34h2M50.7 35h2M69.1 35h2.8M78 35h3.1M96.3 35h3M60.6 36h2.9M84.1 39h3M146.3 42h2.8M156.6 42h2.5M161.4 42h2.4M176.2 42h1.9M181.1 42h1.7M159.1 43h2.3M166.1 43h2.2M194 43h2M35.1 46h2M27.3 47h2M52.7 47h1.9M71.9 47h3M33.2 48h1.9M39 48h2M60.6 48h2.9M81.1 48h3M37.1 49h1.9M39 49h2M42.9 49h2M81.1 50h3M87.1 50h3M93.2 50h3.1M58.3 53h2.3M58.3 54h2.3M111.6 54h3.1M129.4 56h3M178.1 57h1.5M181.1 57h1.7M166.1 58h2.2M184.4 58h1.4M13.7 59h1.9M25.4 60h1.9"/>
<path stroke="#9b179d" d="M33.2 27h1.9M37.1 27h1.9M143.6 27h2.7M191 27h1.6M172.2 28h2M102.4 32h3.2M33.2 35h1.9M84.1 37h3M140.8 40h2.8M143.6 40h2.7M0 43h2M2 43h1.9M161.4 45h2.4M172.2 45h2M181.1 45h1.7M182.8 45h1.6M191 45h1.6M194 45h2M66.2 49h2.9M42.9 52h2M56.6 53h1.7M117.7 53h2.9M117.7 56h2.9M132.4 58h3M178.1 58h1.5M181.1 58h1.7M189.6 58h1.4M41 59h1.9"/>
<path stroke="#9b189d" d="M102.4 28h3.2M42.9 30h2M41 57h1.9M140.8 59h2.8"/>
<path stroke="#43049d" d="M111.6 28h3.1M178.1 28h1.5M179.6 28h1.5M181.1 28h1.7M182.8 28h1.6M19.5 32h2M44.9 34h1.9M69.1 37h2.8M93.2 37h3.1M27.3 46h2M84.1 49h3M39 61h2"/>
<path stroke="#5602a3" d="M114.7 28h3M135.4 28h2.8M105.6 29h2.9M99.3 30h3.1M96.3 31h3M31.2 33h2M93.2 33h3.1M52.7 35h1.9M56.6 36h1.7M93.2 36h3.1M60.6 37h2.9M66.2 37h2.9M74.9 37h3.1M78 37h3.1M71.9 38h3M78 38h3.1M81.1 38h3M93.2 38h3.1M99.3 38h3.1M78 39h3.1M87.1 39h3M93.2 39h3.1M96.3 39h3M90.1 40h3.1M99.3 40h3.1M102.4 40h3.2M138.2 42h2.6M140.8 42h2.8M168.3 42h2M178.1 42h1.5M179.6 42h1.5M185.8 42h1.9M191 42h1.6M151.7 43h2.5M161.4 43h2.4M176.2 43h1.9M178.1 43h1.5M184.4 43h1.4M192.6 43h1.4M19.5 46h2M48.8 47h1.9M50.7 47h2M84.1 47h3M66.2 48h2.9M74.9 48h3.1M87.1 49h3M44.9 50h1.9M96.3 50h3M99.3 51h3.1M105.6 53h2.9M58.3 55h2.3M114.7 55h3M11.7 56h2M126.6 56h2.8M146.3 57h2.8M154.2 57h2.4M161.4 57h2.4M170.3 57h1.9M174.2 57h2M182.8 57h1.6M184.4 57h1.4M189.6 57h1.4M191 57h1.6M17.6 59h1.9M58.3 59h2.3M27.3 60h2M41 61h1.9M46.8 61h2"/>
<path stroke="#d9596a" d="M117.7 28h2.9M138.2 37h2.6M138.2 38h2.6M5.9 39h1.9M23.4 41h2M39 56h2"/>
<path stroke="#8a0ba4" d="M120.6 28h3M13.7 32h1.9M11.7 33h2M74.9 38h3.1M151.7 44h2.5M159.1 44h2.3M170.3 44h1.9M33.2 45h1.9M25.4 46h1.9M29.3 46h1.9M31.2 46h2M151.7 57h2.5M159.1 57h2.3M187.7 57h1.9M194 57h2"/>
<path stroke="#13088a" d="M146.3 28h2.8M149.1 28h2.6M15.6 59h2"/>
<path stroke="#aa2494" d="M156.6 28h2.5M187.7 28h1.9M170.3 31h1.9M172.2 31h2M174.2 31h2M187.7 31h1.9M114.7 32h3M102.4 34h3.2M25.4 36h1.9M41 36h1.9M168.3 43h2M99.3 44h3.1M135.4 45h2.8M11.7 48h2M48.8 51h1.9M120.6 53h3M146.3 54h2.8M15.6 55h2M19.5 57h2M168.3 57h2"/>
<path stroke="#8b0ba4" d="M159.1 28h2.3M99.3 32h3.1M29.3 34h1.9M99.3 35h3.1M78 36h3.1M44.9 37h1.9M63.5 39h2.7M187.7 39h1.9M192.6 39h1.4M93.2 42h3.1M3.9 44h2M5.9 44h1.9M146.3 44h2.8M60.6 46h2.9M31.2 47h2M50.7 53h2M108.5 54h3.1M117.7 54h2.9"/>
<path stroke="#2b0694" d="M161.4 28h2.4M163.8 28h2.3M174.2 28h2M176.2 28h1.9M2 31h1.9M33.2 33h1.9M74.9 36h3.1M87.1 36h3M71.9 37h3M90.1 38h3.1M44.9 47h1.9M58.3 48h2.3M74.9 49h3.1M78 49h3.1M81.1 49h3M143.6 57h2.7M5.9 58h1.9"/>
<path stroke="#2c0694" d="M102.4 29h3.2M96.3 38h3M23.4 46h2M69.1 48h2.8M52.7 52h1.9M123.6 56h3M163.8 57h2.3M172.2 57h2"/>
<path stroke="#5702a3" d="M111.6 29h3.1M132.4 29h3M138.2 29h2.6M156.6 29h2.5M159.1 29h2.3M176.2 29h1.9M179.6 29h1.5M181.1 29h1.7M96.3 32h3M66.2 39h2.9M96.3 40h3M108.5 41h3.1M117.7 42h2.9M135.4 43h2.8M140.8 43h2.8M15.6 45h2M13.7 46h1.9M69.1 46h2.8M87.1 47h3M90.1 47h3.1M108.5 53h3.1M58.3 56h2.3M140.8 56h2.8M151.7 56h2.5M154.2 56h2.4M161.4 56h2.4M11.7 58h2"/>
<path stroke="#a92395" d="M114.7 29h3M143.6 29h2.7M99.3 37h3.1M105.6 40h2.9M182.8 40h1.6M84.1 41h3M111.6 41h3.1M19.5 42h2M120.6 44h3M159.1 45h2.3M176.2 45h1.9M41 46h1.9M96.3 46h3M66.2 47h2.9M187.7 53h1.9M132.4 54h3M182.8 56h1.6M185.8 56h1.9M17.6 57h1.9M25.4 58h1.9"/>
<path stroke="#46049e" d="M117.7 29h2.9M99.3 31h3.1M17.6 33h1.9M52.7 36h1.9M58.3 37h2.3M140.8 41h2.8M146.3 41h2.8M161.4 41h2.4M90.1 42h3.1M31.2 45h2M66.2 46h2.9M194 56h2"/>
<path stroke="#5802a3" d="M120.6 29h3M15.6 33h2M31.2 34h2M99.3 41h3.1M129.4 41h3M149.1 41h2.6M159.1 41h2.3M163.8 41h2.3M178.1 41h1.5M181.1 41h1.7M189.6 41h1.4M71.9 42h3M71.9 43h3M123.6 43h3M87.1 44h3M166.1 44h2.2M172.2 44h2M189.6 44h1.4M192.6 44h1.4M194 44h2M44.9 46h1.9M33.2 49h1.9M114.7 54h3M181.1 56h1.7M189.6 56h1.4M37.1 60h1.9M46.8 60h2M48.8 60h1.9"/>
<path stroke="#b6308b" d="M123.6 29h3M111.6 31h3.1M105.6 32h2.9M39 36h2M105.6 48h2.9M176.2 54h1.9M192.6 54h1.4M21.5 57h1.9"/>
<path stroke="#45049e" d="M140.8 29h2.8M149.1 29h2.6M105.6 39h2.9M74.9 41h3.1M90.1 41h3.1M105.6 41h2.9M120.6 41h3M78 43h3.1M81.1 43h3M84.1 44h3M11.7 45h2M25.4 45h1.9M74.9 45h3.1M71.9 46h3M3.9 57h2"/>
<path stroke="#b7308b" d="M146.3 29h2.8M114.7 31h3M129.4 31h3M129.4 39h3M39 44h2M84.1 46h3M105.6 46h2.9M5.9 49h1.9M35.1 53h2M23.4 57h2"/>
<path stroke="#8a0ba5" d="M154.2 29h2.4M174.2 29h2M192.6 29h1.4M3.9 32h2M19.5 33h2M23.4 33h2M96.3 33h3M17.6 35h1.9M48.8 35h1.9M54.6 36h2M71.9 39h3M93.2 40h3.1M111.6 40h3.1M71.9 41h3M102.4 41h3.2M126.6 41h2.8M135.4 41h2.8M156.6 41h2.5M174.2 41h2M74.9 42h3.1M172.2 42h2M182.8 42h1.6M194 42h2M74.9 43h3.1M129.4 43h3M156.6 43h2.5M181.1 43h1.7M191 43h1.6M178.1 44h1.5M191 44h1.6M13.7 45h1.9M17.6 45h1.9M71.9 45h3M166.1 46h2.2M174.2 46h2M23.4 50h2M102.4 52h3.2M54.6 54h2M117.7 55h2.9M123.6 55h3M132.4 56h3M163.8 56h2.3M187.7 56h1.9M23.4 59h2"/>
<path stroke="#44049e" d="M161.4 29h2.4M163.8 29h2.3M166.1 29h2.2M168.3 29h2M187.7 29h1.9M189.6 29h1.4M5.9 32h1.9M78 40h3.1M84.1 40h3M78 41h3.1M87.1 41h3M126.6 42h2.8M135.4 42h2.8M143.6 43h2.7M163.8 43h2.3M170.3 43h1.9M19.5 45h2M21.5 47h1.9M60.6 47h2.9M81.1 47h3M29.3 48h1.9M87.1 48h3M90.1 48h3.1M42.9 50h2M138.2 56h2.6M52.7 60h1.9"/>
<path stroke="#2e0595" d="M172.2 29h2M185.8 29h1.9M123.6 42h3M21.5 45h1.9M54.6 47h2"/>
<path stroke="#9a169e" d="M194 29h2M138.2 30h2.6M146.3 30h2.8M156.6 30h2.5M179.6 30h1.5M185.8 30h1.9M2 32h1.9M50.7 36h2M102.4 37h3.2M74.9 40h3.1M69.1 41h2.8M117.7 41h2.9M143.6 41h2.7M179.6 41h1.5M66.2 42h2.9M69.1 42h2.8M87.1 42h3M120.6 42h3M146.3 43h2.8M17.6 44h1.9M66.2 44h2.9M74.9 44h3.1M163.8 44h2.3M174.2 44h2M11.7 46h2M52.7 46h1.9M78 46h3.1M56.6 47h1.7M78 47h3.1M99.3 50h3.1M50.7 52h2M35.1 54h2M120.6 55h3M156.6 55h2.5M172.2 55h2M3.9 56h2M149.1 56h2.6M58.3 57h2.3M56.6 58h1.7M33.2 60h1.9"/>
<path stroke="#48039f" d="M105.6 30h2.9M7.8 33h2M27.3 34h2M15.6 44h2M69.1 44h2.8M35.1 45h2M66.2 45h2.9M96.3 48h3M135.4 55h2.8"/>
<path stroke="#7d07a6" d="M114.7 30h3M41 45h1.9M105.6 51h2.9M52.7 55h1.9M192.6 55h1.4M35.1 59h2M48.8 59h1.9"/>
<path stroke="#9a179d" d="M117.7 30h2.9M15.6 32h2M42.9 34h2M93.2 35h3.1M102.4 36h3.2M135.4 40h2.8M138.2 40h2.6M170.3 42h1.9M184.4 42h1.4M187.7 43h1.9M126.6 44h2.8M138.2 47h2.6M33.2 50h1.9M179.6 57h1.5M33.2 59h1.9M54.6 60h2"/>
<path stroke="#6e01a8" d="M120.6 30h3M132.4 40h3M2 46h1.9M17.6 48h1.9M126.6 54h2.8"/>
<path stroke="#b52e8c" d="M123.6 30h3M58.3 38h2.3M161.4 40h2.4M163.8 40h2.3M170.3 40h1.9M44.9 45h1.9M60.6 45h2.9M7.8 49h2M102.4 50h3.2M129.4 54h3"/>
<path stroke="#39059a" d="M126.6 30h2.8M21.5 34h1.9"/>
<path stroke="#6d01a8" d="M129.4 30h3M132.4 30h3M46.8 36h2M63.5 40h2.7M129.4 44h3M19.5 48h2M35.1 50h2M41 51h1.9M123.6 54h3M161.4 55h2.4M168.3 55h2M170.3 55h1.9M176.2 55h1.9M179.6 55h1.5M185.8 55h1.9M13.7 57h1.9"/>
<path stroke="#4b03a0" d="M135.4 30h2.8M163.8 55h2.3"/>
<path stroke="#5b01a4" d="M140.8 30h2.8M151.7 30h2.5M163.8 30h2.3M176.2 30h1.9M48.8 36h1.9M93.2 46h3.1M146.3 55h2.8M151.7 55h2.5"/>
<path stroke="#a82295" d="M149.1 30h2.6M174.2 30h2M151.7 32h2.5M156.6 32h2.5M192.6 33h1.4M120.6 40h3M129.4 40h3M58.3 41h2.3M114.7 43h3M0 44h2M23.4 44h2M138.2 44h2.6M48.8 46h1.9M58.3 46h2.3M21.5 48h1.9M27.3 49h2M178.1 55h1.5M191 55h1.6"/>
<path stroke="#c13b82" d="M154.2 30h2.4M126.6 31h2.8M132.4 31h3M23.4 35h2M140.8 38h2.8M9.8 48h1.9M172.2 48h2M174.2 48h2M111.6 50h3.1M46.8 54h2M48.8 56h1.9M44.9 58h1.9"/>
<path stroke="#6c01a8" d="M168.3 30h2M181.1 30h1.7M184.4 30h1.4M192.6 30h1.4M2 33h1.9M102.4 42h3.2M93.2 43h3.1M19.5 44h2M21.5 44h1.9M39 45h2M5.9 46h1.9M54.6 46h2M99.3 49h3.1M149.1 55h2.6M19.5 58h2"/>
<path stroke="#360598" d="M172.2 30h2"/>
<path stroke="#49039f" d="M182.8 30h1.6M187.7 30h1.9M194 30h2M25.4 34h1.9M135.4 44h2.8M140.8 55h2.8"/>
<path stroke="#5b02a4" d="M191 30h1.6M66.2 41h2.9M143.6 55h2.7"/>
<path stroke="#6f02a7" d="M105.6 31h2.9M44.9 36h1.9M149.1 40h2.6M154.2 40h2.4M166.1 40h2.2M174.2 40h2M178.1 40h1.5M185.8 40h1.9M191 40h1.6M29.3 44h1.9M178.1 45h1.5M189.6 45h1.4M189.6 46h1.4M39 51h2"/>
<path stroke="#7303a7" d="M108.5 31h3.1M138.2 53h2.6"/>
<path stroke="#7905a6" d="M117.7 31h2.9M37.1 58h1.9"/>
<path stroke="#cb4679" d="M120.6 31h3M114.7 35h3M21.5 37h1.9M114.7 38h3M60.6 41h2.9M102.4 44h3.2M163.8 45h2.3M181.1 46h1.7M135.4 52h2.8M135.4 54h2.8M31.2 56h2M33.2 58h1.9"/>
<path stroke="#ac2693" d="M123.6 31h3M37.1 36h1.9M132.4 38h3M33.2 51h1.9M42.9 53h2M35.1 58h2"/>
<path stroke="#910fa3" d="M135.4 31h2.8M0 34h2M19.5 49h2M102.4 49h3.2M191 53h1.6M161.4 54h2.4"/>
<path stroke="#9e1a9b" d="M138.2 31h2.6M3.9 36h2M37.1 44h1.9M99.3 47h3.1M27.3 50h2M37.1 53h1.9M178.1 54h1.5"/>
<path stroke="#c03a82" d="M140.8 31h2.8M154.2 31h2.4M48.8 37h1.9M44.9 52h1.9"/>
<path stroke="#8309a5" d="M143.6 31h2.7M25.4 35h1.9M111.6 38h3.1M2 48h1.9M156.6 54h2.5M159.1 54h2.3M163.8 54h2.3"/>
<path stroke="#b62f8c" d="M146.3 31h2.8M161.4 31h2.4M168.3 31h2M7.8 34h2M52.7 41h1.9M111.6 42h3.1M19.5 43h2M39 50h2"/>
<path stroke="#910ea3" d="M149.1 31h2.6M154.2 54h2.4"/>
<path stroke="#8209a5" d="M151.7 31h2.5M159.1 31h2.3M149.1 53h2.6"/>
<path stroke="#900ea3" d="M163.8 31h2.3M178.1 31h1.5M185.8 31h1.9M163.8 32h2.3M41 37h1.9M54.6 38h2M120.6 39h3M151.7 54h2.5"/>
<path stroke="#7403a7" d="M166.1 31h2.2M184.4 31h1.4M191 31h1.6M114.7 44h3M52.7 45h1.9M149.1 54h2.6"/>
<path stroke="#ca4579" d="M176.2 31h1.9M194 31h2"/>
<path stroke="#c03a83" d="M179.6 31h1.5M37.1 37h1.9M46.8 38h2M129.4 38h3M15.6 43h2M56.6 45h1.7M31.2 50h2M138.2 54h2.6M50.7 57h2"/>
<path stroke="#6500a7" d="M182.8 31h1.6M60.6 44h2.9M41 52h1.9"/>
<path stroke="#b7318a" d="M11.7 32h2M135.4 38h2.8M60.6 42h2.9M149.1 42h2.6M105.6 44h2.9M0 47h2M29.3 52h1.9M29.3 56h1.9"/>
<path stroke="#130889" d="M93.2 32h3.1"/>
<path stroke="#af2891" d="M108.5 32h3.1M105.6 34h2.9M15.6 35h2M35.1 37h2M170.3 38h1.9M174.2 38h2M174.2 39h2M58.3 40h2.3M2 53h1.9M33.2 56h1.9"/>
<path stroke="#ce4a76" d="M111.6 32h3.1M174.2 32h2M185.8 32h1.9M182.8 33h1.6M33.2 41h1.9M135.4 47h2.8M120.6 48h3M123.6 51h3M161.4 52h2.4M7.8 53h2"/>
<path stroke="#bf3984" d="M117.7 32h2.9M185.8 36h1.9M52.7 39h1.9M3.9 52h2"/>
<path stroke="#870aa5" d="M123.6 32h3M52.7 38h1.9M41 44h1.9"/>
<path stroke="#e56b5d" d="M126.6 32h2.8M132.4 32h3M126.6 33h2.8M123.6 35h3M111.6 43h3.1M154.2 50h2.4M161.4 50h2.4M2 52h1.9M23.4 54h2M29.3 54h1.9"/>
<path stroke="#eb7655" d="M129.4 32h3M27.3 37h2M19.5 40h2M151.7 50h2.5M159.1 50h2.3M176.2 50h1.9"/>
<path stroke="#be3785" d="M135.4 32h2.8M138.2 33h2.6"/>
<path stroke="#cf4b75" d="M138.2 32h2.6M3.9 35h2M5.9 50h1.9M123.6 52h3M181.1 52h1.7M174.2 53h2"/>
<path stroke="#d6556d" d="M143.6 32h2.7M143.6 33h2.7M108.5 45h3.1M129.4 47h3M161.4 49h2.4M189.6 52h1.4M192.6 52h1.4M9.8 53h1.9M185.8 53h1.9M189.6 53h1.4M192.6 53h1.4"/>
<path stroke="#b32d8e" d="M146.3 32h2.8M185.8 52h1.9"/>
<path stroke="#ea7456" d="M149.1 32h2.6M174.2 33h2M29.3 37h1.9M174.2 52h2M159.1 53h2.3"/>
<path stroke="#b32c8e" d="M154.2 32h2.4M176.2 32h1.9M178.1 32h1.5M179.6 32h1.5M181.1 32h1.7M184.4 33h1.4M194 33h2M120.6 38h3M111.6 45h3.1M163.8 52h2.3M166.1 52h2.2M163.8 53h2.3"/>
<path stroke="#bc3686" d="M159.1 32h2.3M161.4 32h2.4M168.3 32h2M194 32h2M166.1 33h2.2M172.2 33h2M105.6 45h2.9M151.7 53h2.5M154.2 53h2.4M3.9 54h2"/>
<path stroke="#c6407e" d="M166.1 32h2.2M178.1 33h1.5M185.8 33h1.9M132.4 34h3M168.3 52h2M29.3 55h1.9"/>
<path stroke="#d6546e" d="M170.3 32h1.9M170.3 33h1.9M176.2 33h1.9M46.8 40h2M33.2 54h1.9"/>
<path stroke="#a72296" d="M172.2 32h2M191 32h1.6M13.7 41h1.9"/>
<path stroke="#900ea4" d="M189.6 32h1.4"/>
<path stroke="#d5546e" d="M192.6 32h1.4M123.6 34h3M11.7 37h2M27.3 51h2M156.6 52h2.5M33.2 55h1.9"/>
<path stroke="#5a02a4" d="M3.9 33h2M69.1 43h2.8M50.7 46h2M2 56h1.9"/>
<path stroke="#6b00a8" d="M9.8 33h1.9M21.5 35h1.9M105.6 38h2.9M105.6 42h2.9M117.7 43h2.9M7.8 44h2M9.8 44h1.9M140.8 44h2.8M143.6 44h2.7M2 45h1.9M7.8 46h2M17.6 49h1.9M42.9 51h2M46.8 52h2M111.6 53h3.1M126.6 53h2.8M179.6 53h1.5M0 56h2M9.8 57h1.9"/>
<path stroke="#2b0693" d="M37.1 33h1.9M90.1 35h3.1"/>
<path stroke="#6301a6" d="M102.4 33h3.2M140.8 54h2.8"/>
<path stroke="#9613a0" d="M105.6 33h2.9M105.6 35h2.9M146.3 39h2.8M151.7 39h2.5M3.9 42h2M178.1 46h1.5M179.6 46h1.5M184.4 46h1.4M194 46h2M182.8 47h1.6M192.6 47h1.4M21.5 51h1.9"/>
<path stroke="#b42d8d" d="M108.5 33h3.1M58.3 42h2.3M17.6 50h1.9M182.8 53h1.6M184.4 53h1.4M42.9 56h2"/>
<path stroke="#e16561" d="M111.6 33h3.1M172.2 38h2M182.8 38h1.6M192.6 38h1.4M3.9 41h2"/>
<path stroke="#c5407e" d="M114.7 33h3M120.6 37h3M102.4 46h3.2M159.1 52h2.3"/>
<path stroke="#c7427c" d="M117.7 33h2.9M0 35h2M2 37h1.9M21.5 54h1.9"/>
<path stroke="#d7566c" d="M120.6 33h3M140.8 36h2.8M163.8 50h2.3"/>
<path stroke="#d04d74" d="M123.6 33h3M163.8 36h2.3M25.4 54h1.9"/>
<path stroke="#d04c74" d="M129.4 33h3M126.6 47h2.8M140.8 49h2.8M172.2 50h2M189.6 50h1.4M194 50h2M11.7 51h2"/>
<path stroke="#be3884" d="M132.4 33h3M2 36h1.9M21.5 42h1.9M25.4 53h1.9M27.3 54h2"/>
<path stroke="#d7566d" d="M135.4 33h2.8M135.4 36h2.8M37.1 43h1.9M56.6 43h1.7M151.7 49h2.5M3.9 50h2"/>
<path stroke="#f0804e" d="M140.8 33h2.8M156.6 49h2.5M178.1 49h1.5M184.4 49h1.4"/>
<path stroke="#ea7556" d="M146.3 33h2.8M5.9 37h1.9M41 38h1.9M48.8 38h1.9M163.8 49h2.3M166.1 49h2.2M174.2 49h2M182.8 49h1.6M185.8 49h1.9M23.4 56h2"/>
<path stroke="#dd5f66" d="M151.7 33h2.5M154.2 33h2.4M7.8 36h2M126.6 36h2.8M17.6 42h1.9M176.2 49h1.9M179.6 49h1.5M192.6 49h1.4M194 49h2M166.1 53h2.2M168.3 53h2M17.6 54h1.9"/>
<path stroke="#c6417d" d="M156.6 33h2.5M132.4 46h3M21.5 52h1.9M179.6 52h1.5M182.8 52h1.6M170.3 53h1.9M178.1 53h1.5"/>
<path stroke="#c6407d" d="M159.1 33h2.3M132.4 47h3"/>
<path stroke="#d6556e" d="M161.4 33h2.4M108.5 47h3.1M9.8 49h1.9"/>
<path stroke="#e4695e" d="M163.8 33h2.3M129.4 34h3M7.8 37h2M15.6 40h2M184.4 52h1.4M187.7 52h1.9M191 52h1.6"/>
<path stroke="#dd5e66" d="M168.3 33h2M9.8 36h1.9"/>
<path stroke="#e97457" d="M179.6 33h1.5M187.7 33h1.9M189.6 33h1.4M114.7 50h3"/>
<path stroke="#9c189c" d="M181.1 33h1.7M111.6 34h3.1M5.9 35h1.9M50.7 37h2M60.6 40h2.9M35.1 43h2M33.2 44h1.9M156.6 53h2.5M161.4 53h2.4"/>
<path stroke="#e4695f" d="M191 33h1.6M126.6 34h2.8M108.5 48h3.1M120.6 49h3"/>
<path stroke="#7404a7" d="M2 34h1.9M54.6 39h2"/>
<path stroke="#8108a5" d="M5.9 34h1.9M17.6 43h1.9M35.1 44h2"/>
<path stroke="#8008a6" d="M9.8 34h1.9M117.7 39h2.9M63.5 42h2.7M117.7 44h2.9M146.3 45h2.8M9.8 56h1.9"/>
<path stroke="#6001a5" d="M15.6 34h2M114.7 39h3M27.3 43h2M0 46h2M39 59h2"/>
<path stroke="#5d01a5" d="M19.5 34h2"/>
<path stroke="#4a03a0" d="M23.4 34h2"/>
<path stroke="#6a00a8" d="M33.2 34h1.9M99.3 36h3.1M132.4 41h3M138.2 41h2.6M185.8 41h1.9M87.1 43h3M90.1 43h3.1M126.6 43h2.8M182.8 44h1.6M187.7 44h1.9M5.9 45h1.9M9.8 46h1.9M48.8 52h1.9M126.6 55h2.8M56.6 56h1.7M170.3 56h1.9M172.2 56h2M176.2 56h1.9M178.1 56h1.5M179.6 56h1.5M192.6 56h1.4M5.9 57h1.9M56.6 57h1.7"/>
<path stroke="#2d0694" d="M41 34h1.9M143.6 42h2.7M154.2 42h2.4M159.1 42h2.3M182.8 43h1.6"/>
<path stroke="#9412a1" d="M108.5 34h3.1"/>
<path stroke="#e66e5b" d="M114.7 34h3M17.6 38h1.9M3.9 39h2M54.6 43h2M184.4 48h1.4M191 48h1.6"/>
<path stroke="#ee7c51" d="M117.7 34h2.9M3.9 40h2M7.8 41h2"/>
<path stroke="#ef7e4f" d="M120.6 34h3M166.1 34h2.2M178.1 34h1.5M192.6 34h1.4"/>
<path stroke="#ef7f4f" d="M135.4 34h2.8"/>
<path stroke="#f79640" d="M138.2 34h2.6M13.7 40h1.9M48.8 41h1.9M31.2 55h2"/>
<path stroke="#e97357" d="M140.8 34h2.8M149.1 34h2.6M182.8 34h1.6M126.6 48h2.8"/>
<path stroke="#fcae32" d="M143.6 34h2.7"/>
<path stroke="#e3685f" d="M146.3 34h2.8M154.2 34h2.4M156.6 34h2.5M161.4 34h2.4M176.2 34h1.9M11.7 36h2M54.6 41h2M58.3 43h2.3M7.8 50h2M108.5 50h3.1M35.1 55h2"/>
<path stroke="#fcae33" d="M151.7 34h2.5"/>
<path stroke="#f48948" d="M159.1 34h2.3M117.7 35h2.9M117.7 48h2.9"/>
<path stroke="#fcbc2d" d="M163.8 34h2.3M191 34h1.6M123.6 48h3"/>
<path stroke="#f0f921" d="M168.3 34h2M149.1 35h2.6M129.4 36h3M187.7 36h1.9M35.1 40h2M41 40h1.9M46.8 41h2M123.6 50h3"/>
<path stroke="#fcc927" d="M170.3 34h1.9"/>
<path stroke="#dc5d67" d="M172.2 34h2M42.9 38h2M126.6 50h2.8M5.9 53h1.9"/>
<path stroke="#f79541" d="M174.2 34h2M9.8 40h1.9"/>
<path stroke="#b22b8f" d="M179.6 34h1.5M184.4 34h1.4M7.8 35h2M9.8 35h1.9M31.2 37h2M15.6 42h2M11.7 49h2M21.5 56h1.9"/>
<path stroke="#ce4976" d="M181.1 34h1.7M189.6 34h1.4M138.2 46h2.6"/>
<path stroke="#bb3587" d="M185.8 34h1.9M111.6 37h3.1M33.2 43h1.9M48.8 43h1.9M48.8 44h1.9M50.7 44h2M11.7 55h2M44.9 56h1.9"/>
<path stroke="#d5536f" d="M187.7 34h1.9M54.6 37h2M31.2 42h2M114.7 45h3M19.5 50h2M149.1 52h2.6M15.6 54h2M31.2 57h2"/>
<path stroke="#a62196" d="M194 34h2M11.7 41h2M146.3 53h2.8"/>
<path stroke="#c43e7f" d="M11.7 35h2M174.2 51h2M143.6 52h2.7"/>
<path stroke="#b02990" d="M13.7 35h1.9M29.3 57h1.9"/>
<path stroke="#ad2792" d="M19.5 35h2M135.4 39h2.8M58.3 44h2.3M117.7 51h2.9"/>
<path stroke="#b52f8c" d="M29.3 35h1.9M31.2 35h2M126.6 38h2.8M13.7 43h1.9M37.1 50h1.9M37.1 51h1.9M31.2 52h2M120.6 54h3M138.2 55h2.6"/>
<path stroke="#5e01a5" d="M35.1 35h2"/>
<path stroke="#b62f8b" d="M44.9 35h1.9"/>
<path stroke="#7f07a6" d="M102.4 35h3.2M56.6 38h1.7M7.8 43h2M102.4 43h3.2M105.6 43h2.9M31.2 44h2M96.3 44h3M156.6 45h2.5M46.8 53h2"/>
<path stroke="#9f1b9b" d="M108.5 35h3.1M126.6 46h2.8"/>
<path stroke="#ce4a75" d="M111.6 35h3.1M35.1 57h2"/>
<path stroke="#f48c46" d="M120.6 35h3M3.9 37h2M138.2 50h2.6M126.6 51h2.8M27.3 53h2"/>
<path stroke="#f1824c" d="M126.6 35h2.8"/>
<path stroke="#f58e45" d="M129.4 35h3M192.6 36h1.4"/>
<path stroke="#a01c9a" d="M132.4 35h3M114.7 37h3M56.6 39h1.7M129.4 52h3M41 58h1.9"/>
<path stroke="#f7df23" d="M135.4 35h2.8"/>
<path stroke="#fbd025" d="M138.2 35h2.6M181.1 35h1.7"/>
<path stroke="#f99b3d" d="M140.8 35h2.8M192.6 35h1.4M25.4 40h1.9M132.4 51h3M13.7 52h1.9"/>
<path stroke="#d8586b" d="M143.6 35h2.7M159.1 35h2.3M170.3 35h1.9M194 35h2M5.9 51h1.9M27.3 56h2"/>
<path stroke="#f3ee22" d="M146.3 35h2.8M176.2 35h1.9"/>
<path stroke="#fca636" d="M151.7 35h2.5M168.3 35h2M174.2 35h2M7.8 51h2"/>
<path stroke="#e66d5c" d="M154.2 35h2.4M189.6 35h1.4M21.5 53h1.9"/>
<path stroke="#f58f44" d="M156.6 35h2.5M163.8 35h2.3M184.4 35h1.4M0 51h2"/>
<path stroke="#d14e73" d="M161.4 35h2.4M42.9 40h2M17.6 53h1.9"/>
<path stroke="#ec7854" d="M166.1 35h2.2M182.8 35h1.6"/>
<path stroke="#e06264" d="M172.2 35h2M179.6 35h1.5"/>
<path stroke="#fcc22a" d="M178.1 35h1.5"/>
<path stroke="#fcb430" d="M185.8 35h1.9M187.7 35h1.9M191 35h1.6"/>
<path stroke="#fca537" d="M0 36h2M168.3 36h2M172.2 36h2M19.5 41h2"/>
<path stroke="#c7417d" d="M5.9 36h1.9M154.2 49h2.4M194 53h2"/>
<path stroke="#bb3487" d="M13.7 36h1.9M146.3 52h2.8M143.6 61h2.7"/>
<path stroke="#cc4877" d="M15.6 36h2"/>
<path stroke="#c23d81" d="M17.6 36h1.9M191 38h1.6M33.2 53h1.9"/>
<path stroke="#da5a6a" d="M19.5 36h2M149.1 38h2.6M163.8 47h2.3M3.9 49h2"/>
<path stroke="#f2844b" d="M21.5 36h1.9M33.2 39h1.9M27.3 40h2M166.1 48h2.2M185.8 48h1.9M192.6 48h1.4"/>
<path stroke="#a82395" d="M27.3 36h2M52.7 37h1.9M108.5 38h3.1M168.3 41h2M96.3 43h3M11.7 44h2M42.9 45h2M185.8 45h1.9M90.1 46h3.1M9.8 47h1.9"/>
<path stroke="#8108a6" d="M31.2 36h2M42.9 37h2M21.5 49h1.9M48.8 58h1.9"/>
<path stroke="#6401a6" d="M33.2 36h1.9M138.2 45h2.6"/>
<path stroke="#ae2792" d="M35.1 36h2M117.7 36h2.9M140.8 39h2.8M184.4 47h1.4M15.6 49h2M31.2 51h2"/>
<path stroke="#43049e" d="M58.3 36h2.3M63.5 37h2.7M99.3 39h3.1M189.6 42h1.4M71.9 48h3M84.1 48h3M90.1 49h3.1M54.6 53h2M0 57h2M149.1 57h2.6M156.6 57h2.5M166.1 57h2.2M185.8 57h1.9M192.6 57h1.4M7.8 58h2M42.9 61h2M44.9 61h1.9"/>
<path stroke="#cb4579" d="M105.6 36h2.9M140.8 37h2.8M179.6 47h1.5"/>
<path stroke="#cd4977" d="M108.5 36h3.1M184.4 41h1.4M71.9 44h3M191 51h1.6"/>
<path stroke="#da5a69" d="M111.6 36h3.1M161.4 37h2.4M163.8 37h2.3M7.8 38h2"/>
<path stroke="#e87159" d="M120.6 36h3M29.3 42h1.9"/>
<path stroke="#fba139" d="M123.6 36h3"/>
<path stroke="#fba437" d="M132.4 36h3M146.3 50h2.8"/>
<path stroke="#f58d46" d="M138.2 36h2.6M149.1 50h2.6M156.6 50h2.5"/>
<path stroke="#fcb231" d="M143.6 36h2.7M184.4 50h1.4"/>
<path stroke="#f58d45" d="M146.3 36h2.8M149.1 36h2.6M159.1 36h2.3M170.3 50h1.9M185.8 50h1.9"/>
<path stroke="#eb7755" d="M151.7 36h2.5M161.4 36h2.4"/>
<path stroke="#f1824d" d="M154.2 36h2.4"/>
<path stroke="#fcc12b" d="M156.6 36h2.5M194 36h2"/>
<path stroke="#f8993e" d="M166.1 36h2.2M191 36h1.6M44.9 41h1.9"/>
<path stroke="#d8576c" d="M170.3 36h1.9M174.2 36h2M176.2 36h1.9M179.6 36h1.5"/>
<path stroke="#fcb331" d="M178.1 36h1.5"/>
<path stroke="#e56c5c" d="M181.1 36h1.7M189.6 36h1.4M25.4 37h1.9"/>
<path stroke="#f8de24" d="M182.8 36h1.6"/>
<path stroke="#eb7754" d="M184.4 36h1.4M37.1 39h1.9M129.4 51h3"/>
<path stroke="#f0814d" d="M0 37h2M123.6 38h3M37.1 41h1.9M129.4 49h3M132.4 49h3M19.5 52h2"/>
<path stroke="#fccb26" d="M9.8 37h1.9M48.8 39h1.9"/>
<path stroke="#fcbb2d" d="M13.7 37h1.9"/>
<path stroke="#db5c68" d="M15.6 37h2M11.7 42h2M146.3 47h2.8M120.6 51h3M151.7 51h2.5M35.1 52h2M23.4 55h2M29.3 58h1.9"/>
<path stroke="#cc4778" d="M17.6 37h1.9M163.8 39h2.3M42.9 42h2M3.9 46h2M117.7 46h2.9M156.6 46h2.5M13.7 47h1.9M102.4 48h3.2M29.3 51h1.9M154.2 55h2.4"/>
<path stroke="#e77059" d="M19.5 37h2M176.2 38h1.9M143.6 48h2.7"/>
<path stroke="#d14f72" d="M23.4 37h2M0 53h2"/>
<path stroke="#ba3488" d="M33.2 37h1.9M50.7 43h2M143.6 46h2.7M166.1 51h2.2M37.1 55h1.9"/>
<path stroke="#df6165" d="M39 37h2M25.4 56h1.9"/>
<path stroke="#9411a1" d="M46.8 37h2M132.4 39h3M21.5 41h1.9"/>
<path stroke="#5902a3" d="M56.6 37h1.7M108.5 39h3.1M114.7 40h3M108.5 42h3.1M3.9 45h2M15.6 47h2M23.4 48h2M174.2 54h2M39 60h2"/>
<path stroke="#db5b69" d="M108.5 37h3.1M27.3 41h2M182.8 54h1.6"/>
<path stroke="#fcb92e" d="M117.7 37h2.9M44.9 42h1.9"/>
<path stroke="#de6065" d="M123.6 37h3M35.1 42h2M140.8 50h2.8M143.6 50h2.7M179.6 50h1.5M182.8 50h1.6M42.9 55h2"/>
<path stroke="#df6164" d="M126.6 37h2.8M41 41h1.9M9.8 51h1.9M23.4 53h2"/>
<path stroke="#df6264" d="M129.4 37h3M23.4 42h2M39 43h2"/>
<path stroke="#d9586b" d="M132.4 37h3"/>
<path stroke="#ec7953" d="M135.4 37h2.8M29.3 40h1.9M168.3 48h2M176.2 48h1.9M182.8 48h1.6M3.9 51h2"/>
<path stroke="#c13c81" d="M143.6 37h2.7M170.3 47h1.9M138.2 51h2.6"/>
<path stroke="#f2854a" d="M146.3 37h2.8M9.8 39h1.9M13.7 39h1.9M172.2 47h2M151.7 48h2.5M120.6 50h3"/>
<path stroke="#ed7a52" d="M149.1 37h2.6M151.7 38h2.5M31.2 39h2M176.2 47h1.9M108.5 49h3.1"/>
<path stroke="#f99d3b" d="M151.7 37h2.5M27.3 42h2"/>
<path stroke="#e16462" d="M154.2 37h2.4M154.2 38h2.4M174.2 47h2M154.2 48h2.4"/>
<path stroke="#f69143" d="M156.6 37h2.5M143.6 38h2.7M11.7 39h2M29.3 39h1.9M159.1 48h2.3"/>
<path stroke="#ed7b52" d="M159.1 37h2.3M5.9 38h1.9M159.1 38h2.3M19.5 39h2"/>
<path stroke="#e16562" d="M166.1 37h2.2"/>
<path stroke="#f69243" d="M168.3 37h2M172.2 37h2M2 38h1.9M156.6 38h2.5"/>
<path stroke="#fa9e3b" d="M170.3 37h1.9M176.2 37h1.9M23.4 39h2"/>
<path stroke="#f3864a" d="M174.2 37h2M0 40h2M140.8 51h2.8"/>
<path stroke="#da5b69" d="M178.1 37h1.5M50.7 39h2M60.6 43h2.9M27.3 52h2M117.7 52h2.9M5.9 55h1.9"/>
<path stroke="#b93289" d="M179.6 37h1.5M194 37h2M161.4 38h2.4M163.8 38h2.3M168.3 38h2M178.1 39h1.5M184.4 39h1.4M194 39h2M159.1 46h2.3M161.4 46h2.4M17.6 56h1.9"/>
<path stroke="#fcaa34" d="M181.1 37h1.7M3.9 38h2M143.6 51h2.7"/>
<path stroke="#d35071" d="M182.8 37h1.6M48.8 42h1.9M25.4 50h1.9M129.4 53h3M15.6 56h2"/>
<path stroke="#cb4678" d="M184.4 37h1.4M189.6 37h1.4"/>
<path stroke="#a31e98" d="M185.8 37h1.9M192.6 37h1.4M178.1 38h1.5M184.4 38h1.4M189.6 38h1.4M170.3 39h1.9M172.2 39h2M181.1 39h1.7M189.6 39h1.4M191 39h1.6M42.9 43h2M156.6 47h2.5M159.1 47h2.3M11.7 50h2M41 53h1.9M27.3 57h2"/>
<path stroke="#c23c81" d="M187.7 37h1.9M17.6 39h1.9M154.2 39h2.4M2 42h1.9M29.3 43h1.9M29.3 45h1.9M163.8 46h2.3M176.2 46h1.9M182.8 46h1.6M185.8 46h1.9M5.9 48h1.9M37.1 52h1.9M39 55h2M46.8 55h2M129.4 55h3"/>
<path stroke="#d35171" d="M191 37h1.6M181.1 38h1.7M168.3 39h2M176.2 39h1.9M172.2 46h2M154.2 47h2.4M11.7 54h2M37.1 54h1.9"/>
<path stroke="#f6e323" d="M0 38h2"/>
<path stroke="#fbd325" d="M9.8 38h1.9M11.7 38h2M33.2 40h1.9"/>
<path stroke="#f99c3c" d="M13.7 38h1.9M15.6 38h2M31.2 40h2M117.7 47h2.9M185.8 47h1.9M178.1 48h1.5"/>
<path stroke="#e06263" d="M19.5 38h2M120.6 47h3M7.8 52h2M41 55h1.9"/>
<path stroke="#c9447b" d="M21.5 38h1.9M111.6 47h3.1"/>
<path stroke="#f3ed22" d="M23.4 38h2"/>
<path stroke="#f1814d" d="M25.4 38h1.9M166.1 50h2.2M178.1 50h1.5"/>
<path stroke="#f8983f" d="M27.3 38h2M17.6 40h1.9M143.6 49h2.7"/>
<path stroke="#fba238" d="M29.3 38h1.9M41 39h1.9"/>
<path stroke="#f1f621" d="M31.2 38h2"/>
<path stroke="#f38848" d="M33.2 38h1.9M179.6 51h1.5"/>
<path stroke="#af2991" d="M35.1 38h2M7.8 42h2M19.5 51h2"/>
<path stroke="#d24f72" d="M37.1 38h1.9M56.6 42h1.7M181.1 47h1.7M187.7 47h1.9"/>
<path stroke="#d14d73" d="M39 38h2M23.4 40h2"/>
<path stroke="#c23d80" d="M44.9 38h1.9"/>
<path stroke="#b12a90" d="M50.7 38h2M54.6 44h2M135.4 48h2.8M143.6 53h2.7M2 54h1.9"/>
<path stroke="#a92494" d="M66.2 38h2.9"/>
<path stroke="#14078a" d="M87.1 38h3"/>
<path stroke="#e26660" d="M117.7 38h2.9M159.1 51h2.3"/>
<path stroke="#b8328a" d="M146.3 38h2.8M0 41h2M191 46h1.6M192.6 46h1.4M168.3 47h2"/>
<path stroke="#cc4678" d="M166.1 38h2.2M168.3 46h2"/>
<path stroke="#ed7b51" d="M179.6 38h1.5M185.8 38h1.9"/>
<path stroke="#b93389" d="M187.7 38h1.9M194 38h2"/>
<path stroke="#e66d5b" d="M0 39h2"/>
<path stroke="#fca735" d="M2 39h1.9"/>
<path stroke="#fca835" d="M7.8 39h2M111.6 48h3.1"/>
<path stroke="#fca935" d="M15.6 39h2"/>
<path stroke="#e7705a" d="M21.5 39h1.9M25.4 39h1.9M27.3 39h2M44.9 39h1.9M146.3 48h2.8"/>
<path stroke="#ec7853" d="M35.1 39h2"/>
<path stroke="#fcce25" d="M39 39h2"/>
<path stroke="#f38948" d="M42.9 39h2M105.6 49h2.9"/>
<path stroke="#f99a3d" d="M46.8 39h2M15.6 52h2"/>
<path stroke="#2d0695" d="M69.1 39h2.8M56.6 59h1.7"/>
<path stroke="#380599" d="M111.6 39h3.1"/>
<path stroke="#6800a7" d="M123.6 39h3"/>
<path stroke="#850aa5" d="M126.6 39h2.8"/>
<path stroke="#b8318a" d="M138.2 39h2.6M189.6 47h1.4M163.8 48h2.3"/>
<path stroke="#a21d99" d="M143.6 39h2.7M0 42h2M120.6 46h3M187.7 46h1.9M191 47h1.6M132.4 52h3"/>
<path stroke="#ae2892" d="M149.1 39h2.6"/>
<path stroke="#7002a7" d="M156.6 39h2.5M63.5 41h2.7M5.9 43h1.9M63.5 44h2.7M120.6 45h3M151.7 45h2.5"/>
<path stroke="#a21e99" d="M159.1 39h2.3M161.4 39h2.4M37.1 56h1.9"/>
<path stroke="#9713a0" d="M166.1 39h2.2"/>
<path stroke="#97149f" d="M179.6 39h1.5M182.8 39h1.6M185.8 39h1.9M2 41h1.9M25.4 41h1.9M166.1 47h2.2"/>
<path stroke="#e26561" d="M2 40h1.9M5.9 41h1.9M151.7 47h2.5M140.8 48h2.8"/>
<path stroke="#fa9f3a" d="M5.9 40h1.9"/>
<path stroke="#fad724" d="M7.8 40h2"/>
<path stroke="#f9d824" d="M11.7 40h2"/>
<path stroke="#fcc02b" d="M21.5 40h1.9M192.6 50h1.4"/>
<path stroke="#d25071" d="M37.1 40h1.9M41 42h1.9M105.6 47h2.9M114.7 49h3"/>
<path stroke="#e76f5a" d="M39 40h2M161.4 47h2.4M35.1 56h2"/>
<path stroke="#c8427c" d="M44.9 40h1.9M52.7 42h1.9M187.7 50h1.9"/>
<path stroke="#e26661" d="M48.8 40h1.9M25.4 43h1.9M117.7 45h2.9M3.9 53h2"/>
<path stroke="#c9447a" d="M50.7 40h2M56.6 41h1.7M123.6 46h3M11.7 52h2M17.6 55h1.9"/>
<path stroke="#e3695f" d="M52.7 40h1.9"/>
<path stroke="#e76e5b" d="M54.6 40h2"/>
<path stroke="#7704a7" d="M56.6 40h1.7"/>
<path stroke="#320597" d="M66.2 40h2.9M156.6 44h2.5"/>
<path stroke="#5c01a4" d="M126.6 40h2.8M93.2 45h3.1M21.5 58h1.9M42.9 58h2"/>
<path stroke="#7e07a6" d="M146.3 40h2.8M151.7 40h2.5M168.3 40h2M176.2 40h1.9M179.6 40h1.5M187.7 40h1.9M192.6 40h1.4M108.5 43h3.1M123.6 44h3M168.3 45h2M192.6 45h1.4M46.8 56h2M15.6 57h2M52.7 57h1.9M50.7 58h2M37.1 59h1.9M44.9 59h1.9"/>
<path stroke="#3d049b" d="M156.6 40h2.5"/>
<path stroke="#5f01a5" d="M159.1 40h2.3M181.1 40h1.7M189.6 40h1.4M194 40h2M170.3 45h1.9M179.6 45h1.5M184.4 45h1.4M52.7 56h1.9"/>
<path stroke="#4f03a1" d="M172.2 40h2M184.4 40h1.4"/>
<path stroke="#faa03a" d="M9.8 41h1.9M29.3 41h1.9M117.7 49h2.9M187.7 51h1.9"/>
<path stroke="#f48b47" d="M15.6 41h2M187.7 49h1.9M132.4 50h3M170.3 52h1.9M176.2 52h1.9"/>
<path stroke="#ea7655" d="M17.6 41h1.9M111.6 49h3.1"/>
<path stroke="#f79540" d="M31.2 41h2M151.7 52h2.5"/>
<path stroke="#f8973f" d="M35.1 41h2M181.1 49h1.7"/>
<path stroke="#e56c5d" d="M39 41h2M2 50h1.9"/>
<path stroke="#f89a3e" d="M42.9 41h2"/>
<path stroke="#f38749" d="M50.7 41h2M138.2 48h2.6M154.2 51h2.4"/>
<path stroke="#300596" d="M93.2 41h3.1M87.1 46h3M44.9 51h1.9M166.1 56h2.2M168.3 56h2M174.2 56h2M54.6 59h2M35.1 60h2"/>
<path stroke="#2f0595" d="M114.7 41h3M78 42h3.1M132.4 43h3M78 44h3.1"/>
<path stroke="#310596" d="M154.2 41h2.4M194 41h2M176.2 44h1.9M179.6 44h1.5M87.1 45h3M25.4 59h1.9"/>
<path stroke="#46039e" d="M170.3 41h1.9M172.2 41h2M187.7 41h1.9M191 41h1.6M168.3 44h2M184.4 44h1.4M105.6 52h2.9"/>
<path stroke="#7102a7" d="M5.9 42h1.9"/>
<path stroke="#ba3388" d="M9.8 42h1.9M149.1 46h2.6M21.5 50h1.9"/>
<path stroke="#9a169d" d="M13.7 42h1.9M163.8 42h2.3M66.2 43h2.9M25.4 44h1.9M31.2 48h2M56.6 54h1.7M181.1 55h1.7M184.4 55h1.4M9.8 58h1.9"/>
<path stroke="#ca457a" d="M25.4 42h1.9M41 43h1.9M135.4 51h2.8M9.8 54h1.9"/>
<path stroke="#f0f821" d="M33.2 42h1.9"/>
<path stroke="#c8437b" d="M37.1 42h1.9M15.6 50h2M17.6 52h1.9M13.7 53h1.9"/>
<path stroke="#ca447a" d="M39 42h2"/>
<path stroke="#fcab34" d="M46.8 42h2"/>
<path stroke="#f69044" d="M50.7 42h2"/>
<path stroke="#c53f7f" d="M54.6 42h2M25.4 55h1.9"/>
<path stroke="#7f08a6" d="M11.7 43h2"/>
<path stroke="#7604a7" d="M21.5 43h1.9"/>
<path stroke="#ac2593" d="M23.4 43h2M0 50h2M7.8 54h2"/>
<path stroke="#c33e80" d="M31.2 43h2M149.1 43h2.6M114.7 46h3M146.3 46h2.8M114.7 48h3"/>
<path stroke="#dc5c68" d="M46.8 43h2M25.4 52h1.9"/>
<path stroke="#c33d80" d="M52.7 43h1.9M108.5 46h3.1M140.8 52h2.8"/>
<path stroke="#6201a6" d="M63.5 43h2.7M46.8 45h2M111.6 52h3.1M27.3 58h2"/>
<path stroke="#d35170" d="M99.3 43h3.1M111.6 51h3.1M149.1 51h2.6M50.7 55h2"/>
<path stroke="#47039f" d="M120.6 43h3M161.4 44h2.4M46.8 46h2M63.5 46h2.7M93.2 47h3.1M102.4 51h3.2M7.8 57h2M17.6 58h1.9M41 60h1.9"/>
<path stroke="#15078b" d="M154.2 43h2.4"/>
<path stroke="#15078a" d="M185.8 43h1.9"/>
<path stroke="#340598" d="M2 44h1.9M52.7 54h1.9"/>
<path stroke="#5902a4" d="M13.7 44h1.9M90.1 44h3.1M90.1 45h3.1"/>
<path stroke="#a41f98" d="M44.9 44h1.9M151.7 46h2.5M154.2 46h2.4M21.5 55h1.9"/>
<path stroke="#99169e" d="M46.8 44h2"/>
<path stroke="#8208a5" d="M52.7 44h1.9M54.6 45h2M3.9 47h2M44.9 53h1.9"/>
<path stroke="#860aa5" d="M108.5 44h3.1M126.6 45h2.8"/>
<path stroke="#5302a2" d="M48.8 45h1.9M140.8 45h2.8"/>
<path stroke="#6501a7" d="M50.7 45h2"/>
<path stroke="#8f0da4" d="M58.3 45h2.3M13.7 48h1.9M143.6 54h2.7M50.7 56h2"/>
<path stroke="#9310a2" d="M99.3 45h3.1"/>
<path stroke="#cc4878" d="M102.4 45h3.2"/>
<path stroke="#9512a1" d="M123.6 45h3M25.4 57h1.9"/>
<path stroke="#8409a5" d="M129.4 45h3M166.1 54h2.2M168.3 54h2M172.2 54h2M179.6 54h1.5M184.4 54h1.4M187.7 54h1.9M39 57h2"/>
<path stroke="#ab2494" d="M132.4 45h3"/>
<path stroke="#5202a2" d="M143.6 45h2.7M5.9 47h1.9M48.8 54h1.9"/>
<path stroke="#a01b9a" d="M99.3 46h3.1"/>
<path stroke="#b42e8d" d="M129.4 46h3M5.9 54h1.9M41 54h1.9"/>
<path stroke="#dd5e67" d="M135.4 46h2.8M15.6 51h2M23.4 52h2M27.3 55h2"/>
<path stroke="#c43f7f" d="M140.8 46h2.8M0 49h2M194 51h2"/>
<path stroke="#b83289" d="M170.3 46h1.9M132.4 53h3M126.6 57h2.8"/>
<path stroke="#2f0596" d="M19.5 47h2"/>
<path stroke="#3a059a" d="M96.3 47h3"/>
<path stroke="#bc3587" d="M102.4 47h3.2"/>
<path stroke="#b7318b" d="M114.7 47h3"/>
<path stroke="#9f1b9a" d="M123.6 47h3M39 52h2"/>
<path stroke="#ee7d50" d="M140.8 47h2.8M163.8 51h2.3M172.2 51h2M178.1 51h1.5M182.8 51h1.6M184.4 51h1.4M189.6 51h1.4"/>
<path stroke="#e87158" d="M143.6 47h2.7M161.4 51h2.4"/>
<path stroke="#f69342" d="M149.1 47h2.6"/>
<path stroke="#d95a6a" d="M178.1 47h1.5M156.6 48h2.5M19.5 55h2"/>
<path stroke="#f2854b" d="M194 47h2"/>
<path stroke="#cf4c74" d="M0 48h2"/>
<path stroke="#a52097" d="M3.9 48h2M140.8 53h2.8"/>
<path stroke="#3f049c" d="M15.6 48h2"/>
<path stroke="#e36760" d="M129.4 48h3M185.8 51h1.9"/>
<path stroke="#d4526f" d="M132.4 48h3"/>
<path stroke="#f2864a" d="M149.1 48h2.6"/>
<path stroke="#e16362" d="M161.4 48h2.4"/>
<path stroke="#fcc429" d="M170.3 48h1.9"/>
<path stroke="#e06363" d="M179.6 48h1.5M13.7 50h1.9M2 51h1.9"/>
<path stroke="#f99b3c" d="M181.1 48h1.7"/>
<path stroke="#ad2692" d="M187.7 48h1.9M39 58h2"/>
<path stroke="#fcc32a" d="M189.6 48h1.4"/>
<path stroke="#d9596b" d="M194 48h2"/>
<path stroke="#db5b68" d="M2 49h1.9"/>
<path stroke="#b02991" d="M13.7 49h1.9M146.3 51h2.8M9.8 55h1.9M44.9 57h1.9"/>
<path stroke="#de5f66" d="M123.6 49h3M176.2 53h1.9"/>
<path stroke="#e46b5d" d="M126.6 49h2.8"/>
<path stroke="#f8dc24" d="M135.4 49h2.8"/>
<path stroke="#f8983e" d="M138.2 49h2.6"/>
<path stroke="#fcbf2b" d="M146.3 49h2.8"/>
<path stroke="#e46a5d" d="M149.1 49h2.6"/>
<path stroke="#f8db24" d="M159.1 49h2.3"/>
<path stroke="#e46a5e" d="M168.3 49h2M181.1 53h1.7"/>
<path stroke="#fba338" d="M170.3 49h1.9M172.2 49h2M191 49h1.6M135.4 50h2.8"/>
<path stroke="#cd4877" d="M9.8 50h1.9M156.6 51h2.5M27.3 59h2"/>
<path stroke="#9c199c" d="M29.3 50h1.9"/>
<path stroke="#9210a2" d="M105.6 50h2.9M114.7 52h3"/>
<path stroke="#c9437b" d="M117.7 50h2.9M23.4 51h2M15.6 53h2"/>
<path stroke="#fcaf32" d="M129.4 50h3"/>
<path stroke="#fca437" d="M168.3 50h2M11.7 53h2"/>
<path stroke="#f4ec22" d="M174.2 50h2"/>
<path stroke="#f8dd24" d="M181.1 50h1.7M191 50h1.6"/>
<path stroke="#b42d8e" d="M13.7 51h1.9M194 52h2"/>
<path stroke="#e87258" d="M17.6 51h1.9M168.3 51h2M170.3 51h1.9M181.1 51h1.7M31.2 53h2"/>
<path stroke="#cf4c75" d="M25.4 51h1.9"/>
<path stroke="#6600a7" d="M35.1 51h2"/>
<path stroke="#7504a7" d="M108.5 51h3.1"/>
<path stroke="#dc5d68" d="M176.2 51h1.9"/>
<path stroke="#f79441" d="M192.6 51h1.4"/>
<path stroke="#f48b46" d="M0 52h2"/>
<path stroke="#eb7854" d="M5.9 52h1.9"/>
<path stroke="#f2834b" d="M9.8 52h1.9"/>
<path stroke="#bd3686" d="M33.2 52h1.9"/>
<path stroke="#c8437c" d="M126.6 52h2.8"/>
<path stroke="#dc5e67" d="M154.2 52h2.4"/>
<path stroke="#f79740" d="M172.2 52h2"/>
<path stroke="#bd3786" d="M178.1 52h1.5M37.1 57h1.9"/>
<path stroke="#f1834c" d="M19.5 53h2"/>
<path stroke="#a82296" d="M29.3 53h1.9"/>
<path stroke="#a72196" d="M39 53h2M33.2 57h1.9"/>
<path stroke="#5d01a4" d="M114.7 53h3M182.8 55h1.6M187.7 55h1.9M189.6 55h1.4"/>
<path stroke="#c03b82" d="M123.6 53h3M159.1 55h2.3"/>
<path stroke="#98149f" d="M135.4 53h2.8"/>
<path stroke="#fcac33" d="M13.7 54h1.9"/>
<path stroke="#de5f65" d="M19.5 54h2"/>
<path stroke="#d14e72" d="M39 54h2"/>
<path stroke="#a62197" d="M42.9 54h2M42.9 57h2"/>
<path stroke="#890ba5" d="M44.9 54h1.9M7.8 55h2"/>
<path stroke="#4c03a0" d="M50.7 54h2M194 55h2"/>
<path stroke="#920fa2" d="M181.1 54h1.7M185.8 54h1.9M189.6 54h1.4M48.8 57h1.9"/>
<path stroke="#d4536f" d="M44.9 55h1.9"/>
<path stroke="#7705a7" d="M13.7 56h1.9"/>
<path stroke="#d45270" d="M19.5 56h2"/>
<path stroke="#bf3983" d="M41 56h1.9"/>
<path stroke="#4a039f" d="M54.6 56h2M50.7 59h2"/>
<path stroke="#16078b" d="M135.4 56h2.8"/>
<path stroke="#9d199b" d="M31.2 58h2"/>
<path stroke="#9e199b" d="M46.8 58h2"/>
<path stroke="#17078b" d="M31.2 60h2"/>
<path stroke="#18078c" d="M50.7 60h2"/>
<path stroke="#ad2693" d="M170.3 61h1.9"/>
<path stroke="#9f1a9b" d="M54.6 64h2M138.2 64h2.6M168.3 64h2"/>
</g></svg>
<path d="M62.5 48V219.5M119 48V219.5M175.5 48V219.5M232 48V219.5M42 72.4H238M42 103H238M42 133.4H238M42 164H238M42 194.4H238" stroke="#d0d0e4" stroke-width="0.9" stroke-dasharray="1 1" fill="none" opacity="0.55"/>
<rect x="42.3" y="48.3" width="195.4" height="170.9" fill="none" stroke="#0a0640" stroke-width="0.8"/>
<path d="M42 72.4h3.5M42 103h3.5M42 133.4h3.5M42 164h3.5M42 194.4h3.5" stroke="#111" stroke-width="0.9" fill="none"/>
<svg x="268" y="48" width="196" height="171.5" viewBox="0 0 196 88" preserveAspectRatio="none" shape-rendering="crispEdges">
<rect width="196" height="88" fill="#0d0887"/>
<filter id="bl22" x="-5%" y="-5%" width="110%" height="110%"><feGaussianBlur stdDeviation="0.35 0.3"/></filter>
<g transform="translate(0 .5)" fill="none" stroke-width="1" filter="url(#bl22)">
<path stroke="#230690" d="M8.6 0h1.7M96.1 0h3M57.7 1h2.9M143.5 2h2.8M178.9 2h1.9M188.4 2h1.9M111.4 3h3.1M0 4h1.9M43.8 4h2.1M177 4h1.9M184.6 4h1.9M33.9 5h2.5M57.7 5h2.9M105.2 5h3M114.5 5h3.1M120.6 5h3M149 5h2.6M3.5 6h3.4M12 6h1.7M21.4 6h2.2M57.7 6h2.9M69 6h2.9M132.2 6h3M149 6h2.6M169.4 6h1.9M182.7 6h3.8M190.3 6h1.9M36.4 7h2.7M105.2 7h3M126.6 7h2.9M135.2 7h2.9M163.8 7h1.8M167.5 7h1.9M180.8 7h1.9M0 8h1.9M6.9 8h3.4M19.5 8h4.1M120.6 8h3M163.8 8h3.7M190.3 8h1.9M0 9h1.9M18.3 9h1.2M29.6 9h2.2M33.9 9h2.5M43.8 9h2.1M143.5 9h2.8M154.1 9h2.5M171.3 9h1.9M177 9h1.9M192.2 9h1.9M3.5 10h1.7M10.3 10h1.7M17.1 10h2.4M21.4 10h2.2M25.5 10h1.9M36.4 10h2.7M41.6 10h4.3M96.1 10h3M105.2 10h3M140.9 10h2.6M149 10h2.6M154.1 10h2.5M165.6 10h1.9M184.6 10h1.9M188.4 10h1.9M0 11h1.9M12 11h1.7M17.1 11h2.4M23.6 11h1.9M57.7 11h2.9M105.2 11h3M120.6 11h6M132.2 11h3M149 11h2.6M156.6 11h2.8M165.6 11h1.9M173.2 11h1.9M182.7 11h1.9M186.5 11h1.9M190.3 11h1.9M5.2 12h3.4M12 12h5.1M23.6 12h1.9M31.8 12h2.1M36.4 12h5.2M48.1 12h2.1M96.1 12h3M123.6 12h5.9M138.1 12h2.8M146.3 12h2.7M151.6 12h5M165.6 12h5.7M178.9 12h1.9M184.6 12h1.9M188.4 12h1.9M194.1 12h1.9M1.9 13h3.3M12 13h1.7M29.6 13h2.2M39.1 13h2.5M99.1 13h3.2M111.4 13h9.2M143.5 13h2.8M149 13h5.1M163.8 13h1.8M167.5 13h3.8M182.7 13h1.9M0 14h1.9M17.1 14h1.2M23.6 14h3.8M41.6 14h2.2M45.9 14h2.2M60.6 14h2.7M120.6 14h3M129.5 14h8.6M140.9 14h2.6M149 14h2.6M163.8 14h1.8M173.2 14h1.9M180.8 14h1.9M184.6 14h1.9M188.4 14h3.8M10.3 15h1.7M13.7 15h1.7M27.4 15h2.2M31.8 15h2.1M39.1 15h2.5M86.9 15h3.2M105.2 15h3M132.2 15h5.9M140.9 15h2.6M161.8 15h2M165.6 15h1.9M171.3 15h3.8M178.9 15h1.9M10.3 16h5.1M48.1 16h2.1M66.1 16h2.9M74.8 16h3.1M99.1 16h3.2M114.5 16h3.1M149 16h5.1M167.5 16h1.9M175.1 16h1.9M178.9 16h1.9M182.7 16h1.9M190.3 16h1.9M0 17h1.9M6.9 17h1.7M8.6 17h1.7M10.3 17h1.7M19.5 17h1.9M23.6 17h1.9M27.4 17h2.2M36.4 17h2.7M45.9 17h2.2M48.1 17h2.1M57.7 17h2.9M74.8 17h3.1M105.2 17h3M123.6 17h3M129.5 17h2.7M132.2 17h3M135.2 17h2.9M143.5 17h2.8M149 17h2.6M161.8 17h2M171.3 17h1.9M180.8 17h1.9M5.2 18h1.7M15.4 18h1.7M18.3 18h1.2M23.6 18h1.9M25.5 18h1.9M33.9 18h2.5M43.8 18h2.1M45.9 18h2.2M50.2 18h2.2M54.9 18h11.2M71.9 18h2.9M90.1 18h3M126.6 18h2.9M135.2 18h2.9M140.9 18h2.6M143.5 18h2.8M151.6 18h2.5M154.1 18h2.5M163.8 18h1.8M169.4 18h1.9M177 18h1.9M180.8 18h1.9M192.2 18h1.9M52.4 19h2.5M105.2 19h3M114.5 19h3.1M60.6 20h2.7M108.2 20h3.2M60.6 22h2.7M66.1 22h2.9M83.8 22h3.1M63.3 23h2.8M74.8 23h3.1M60.6 24h2.7M93.1 24h3M99.1 24h3.2M74.8 25h3.1M93.1 25h3M69 26h2.9M83.8 26h3.1M96.1 26h3M71.9 27h2.9M74.8 28h3.1M54.9 29h2.8M63.3 29h2.8M83.8 29h3.1M96.1 29h3M69 30h2.9M80.9 30h2.9M66.1 31h2.9M90.1 31h3M74.8 32h3.1M93.1 33h3M69 35h2.9M74.8 36h3.1M69 38h2.9M74.8 39h3.1M90.1 39h3M74.8 40h3.1M80.9 40h2.9M71.9 41h2.9M77.9 41h3M83.8 41h6.3M93.1 41h3M69 42h2.9M74.8 42h3.1M93.1 42h3M69 43h2.9M69 45h2.9M77.9 45h3M90.1 45h3M93.1 45h3M69 46h2.9M80.9 46h2.9M93.1 46h3M71.9 47h2.9M83.8 47h3.1M90.1 47h3M77.9 48h3M93.1 48h3M90.1 49h6M66.1 50h2.9M93.1 50h3M93.1 51h3M77.9 52h3M83.8 53h9.3M66.1 54h2.9M96.1 54h3M69 55h2.9M86.9 55h3.2M93.1 55h6M90.1 56h3M63.3 57h2.8M66.1 57h2.9M63.3 58h2.8M83.8 58h3.1M63.3 59h2.8M69 59h8.9M80.9 59h2.9M86.9 59h6.2M60.6 60h2.7M63.3 60h2.8M71.9 60h2.9M96.1 60h3M102.3 61h2.9M74.8 62h3.1M102.3 62h2.9M93.1 63h3M102.3 63h2.9M99.1 64h3.2M57.7 65h2.9M60.6 66h2.7M90.1 66h3M96.1 66h3M105.2 66h3M108.2 66h3.2M54.9 67h2.8M96.1 67h3M108.2 67h3.2M111.4 67h3.1M48.1 68h2.1M52.4 68h2.5M105.2 68h3M0 69h1.9M13.7 69h1.7M18.3 69h1.2M23.6 69h1.9M29.6 69h2.2M39.1 69h2.5M43.8 69h2.1M48.1 69h2.1M54.9 69h2.8M77.9 69h3M111.4 69h3.1M114.5 69h3.1M123.6 69h3M135.2 69h2.9M138.1 69h2.8M146.3 69h2.7M149 69h2.6M151.6 69h2.5M167.5 69h1.9M171.3 69h1.9M182.7 69h1.9M192.2 69h1.9M10.3 70h1.7M21.4 70h2.2M31.8 70h2.1M41.6 70h2.2M45.9 70h2.2M138.1 70h2.8M143.5 70h2.8M161.8 70h2M167.5 70h1.9M169.4 70h1.9M188.4 70h1.9M1.9 71h1.6M8.6 71h1.7M15.4 71h1.7M21.4 71h4.1M45.9 71h2.2M50.2 71h2.2M60.6 71h2.7M111.4 71h3.1M123.6 71h8.6M135.2 71h11.1M151.6 71h2.5M159.4 71h2.4M163.8 71h1.8M173.2 71h1.9M178.9 71h1.9M186.5 71h3.8M3.5 72h1.7M13.7 72h1.7M25.5 72h1.9M31.8 72h2.1M39.1 72h4.7M57.7 72h2.9M129.5 72h5.7M146.3 72h2.7M175.1 72h1.9M180.8 72h3.8M5.2 73h1.7M8.6 73h5.1M17.1 73h1.2M23.6 73h1.9M33.9 73h2.5M39.1 73h2.5M48.1 73h4.3M102.3 73h5.9M126.6 73h2.9M132.2 73h3M143.5 73h2.8M149 73h2.6M161.8 73h2M167.5 73h1.9M173.2 73h1.9M188.4 73h1.9M192.2 73h1.9M10.3 74h1.7M13.7 74h1.7M21.4 74h2.2M36.4 74h2.7M48.1 74h2.1M54.9 74h2.8M105.2 74h3M114.5 74h3.1M159.4 74h2.4M171.3 74h1.9M178.9 74h7.6M3.5 75h1.7M8.6 75h1.7M21.4 75h2.2M27.4 75h2.2M31.8 75h2.1M66.1 75h5.8M117.6 75h3M126.6 75h2.9M138.1 75h2.8M146.3 75h2.7M165.6 75h1.9M186.5 75h1.9M17.1 76h1.2M33.9 76h2.5M114.5 76h9.1M149 76h7.6M163.8 76h1.8M175.1 76h3.8M188.4 76h1.9M5.2 77h3.4M12 77h1.7M23.6 77h1.9M29.6 77h2.2M146.3 77h7.8M169.4 77h1.9M177 77h1.9M192.2 77h1.9M1.9 78h1.6M15.4 78h1.7M123.6 78h3M154.1 78h2.5M177 78h1.9M192.2 78h3.8M10.3 79h1.7M18.3 79h1.2M23.6 79h1.9M33.9 79h2.5M54.9 79h2.8M132.2 79h3M154.1 79h2.5M171.3 79h1.9M13.7 80h3.4M50.2 80h2.2M108.2 80h3.2M132.2 80h3M161.8 80h2M169.4 80h1.9M177 80h1.9M180.8 80h1.9M184.6 80h1.9M23.6 81h3.8M41.6 81h2.2M50.2 81h2.2M108.2 81h3.2M10.3 82h1.7M48.1 82h2.1M52.4 82h2.5M123.6 82h3M135.2 82h2.9M1.9 83h1.6M135.2 83h2.9M154.1 83h2.5M175.1 83h1.9M6.9 84h1.7M10.3 84h3.4M23.6 84h1.9M31.8 84h2.1M129.5 84h2.7M161.8 84h2M173.2 84h1.9M19.5 85h1.9M36.4 85h2.7M190.3 85h1.9M149 86h2.6M156.6 86h2.8M31.8 87h2.1M93.1 87h3M111.4 87h3.1M167.5 87h3.8M190.3 87h1.9"/>
<path stroke="#18078c" d="M21.4 0h2.2M27.4 0h2.2M41.6 0h4.3M54.9 0h2.8M74.8 0h3.1M80.9 0h2.9M99.1 0h3.2M132.2 0h3M143.5 0h2.8M151.6 0h5M163.8 0h5.6M171.3 0h1.9M178.9 0h3.8M184.6 0h1.9M194.1 0h1.9M6.9 1h3.4M17.1 1h1.2M19.5 1h1.9M25.5 1h1.9M31.8 1h2.1M48.1 1h4.3M80.9 1h2.9M96.1 1h3M102.3 1h5.9M114.5 1h3.1M129.5 1h2.7M151.6 1h2.5M159.4 1h4.4M171.3 1h1.9M175.1 1h1.9M190.3 1h1.9M15.4 2h4.1M23.6 2h3.8M54.9 2h2.8M69 2h2.9M105.2 2h3M111.4 2h3.1M126.6 2h2.9M132.2 2h3M151.6 2h7.8M161.8 2h2M173.2 2h1.9M177 2h1.9M182.7 2h5.7M194.1 2h1.9M1.9 3h1.6M5.2 3h3.4M10.3 3h1.7M18.3 3h1.2M21.4 3h2.2M25.5 3h1.9M29.6 3h2.2M43.8 3h2.1M54.9 3h2.8M60.6 3h2.7M90.1 3h3M96.1 3h3M123.6 3h3M129.5 3h5.7M138.1 3h8.2M154.1 3h7.7M163.8 3h1.8M167.5 3h1.9M173.2 3h1.9M190.3 3h1.9M6.9 4h1.7M10.3 4h3.4M19.5 4h1.9M39.1 4h4.7M45.9 4h4.3M74.8 4h3.1M99.1 4h6.1M114.5 4h12.1M129.5 4h2.7M146.3 4h5.3M154.1 4h2.5M163.8 4h3.7M175.1 4h1.9M178.9 4h1.9M194.1 4h1.9M1.9 5h3.3M6.9 5h5.1M18.3 5h1.2M23.6 5h6M36.4 5h7.4M45.9 5h2.2M54.9 5h2.8M60.6 5h2.7M96.1 5h3M102.3 5h2.9M138.1 5h2.8M154.1 5h2.5M159.4 5h2.4M165.6 5h1.9M173.2 5h1.9M188.4 5h1.9M192.2 5h1.9M8.6 6h1.7M15.4 6h1.7M25.5 6h4.1M31.8 6h2.1M45.9 6h2.2M50.2 6h4.7M60.6 6h2.7M71.9 6h2.9M114.5 6h3.1M120.6 6h11.6M143.5 6h2.8M156.6 6h9M178.9 6h1.9M194.1 6h1.9M0 7h6.9M8.6 7h1.7M12 7h1.7M27.4 7h2.2M31.8 7h2.1M39.1 7h2.5M48.1 7h6.8M57.7 7h2.9M63.3 7h2.8M90.1 7h3M96.1 7h3M114.5 7h3.1M123.6 7h3M129.5 7h2.7M143.5 7h8.1M156.6 7h5.2M175.1 7h1.9M178.9 7h1.9M190.3 7h1.9M194.1 7h1.9M3.5 8h3.4M10.3 8h1.7M15.4 8h4.1M23.6 8h1.9M31.8 8h2.1M36.4 8h5.2M43.8 8h2.1M54.9 8h11.2M80.9 8h2.9M90.1 8h3M105.2 8h6.2M117.6 8h3M123.6 8h3M143.5 8h2.8M149 8h2.6M167.5 8h3.8M173.2 8h1.9M177 8h1.9M180.8 8h3.8M186.5 8h1.9M1.9 9h1.6M6.9 9h3.4M12 9h3.4M23.6 9h1.9M27.4 9h2.2M31.8 9h2.1M39.1 9h4.7M45.9 9h4.3M52.4 9h2.5M86.9 9h6.2M96.1 9h3M102.3 9h2.9M111.4 9h3.1M117.6 9h3M123.6 9h5.9M140.9 9h2.6M146.3 9h5.3M159.4 9h4.4M169.4 9h1.9M175.1 9h1.9M178.9 9h1.9M184.6 9h1.9M194.1 9h1.9M1.9 10h1.6M5.2 10h1.7M13.7 10h1.7M19.5 10h1.9M23.6 10h1.9M29.6 10h4.3M48.1 10h4.3M57.7 10h14.2M74.8 10h3.1M80.9 10h2.9M86.9 10h3.2M108.2 10h6.3M120.6 10h17.5M146.3 10h2.7M151.6 10h2.5M161.8 10h2M167.5 10h1.9M175.1 10h1.9M178.9 10h1.9M190.3 10h3.8M6.9 11h1.7M15.4 11h1.7M19.5 11h4.1M27.4 11h2.2M36.4 11h5.2M45.9 11h4.3M60.6 11h5.5M102.3 11h2.9M108.2 11h3.2M114.5 11h6.1M129.5 11h2.7M140.9 11h2.6M159.4 11h2.4M163.8 11h1.8M169.4 11h3.8M180.8 11h1.9M184.6 11h1.9M188.4 11h1.9M194.1 11h1.9M1.9 12h3.3M8.6 12h3.4M17.1 12h1.2M21.4 12h2.2M25.5 12h1.9M41.6 12h4.3M50.2 12h2.2M60.6 12h2.7M66.1 12h2.9M80.9 12h2.9M102.3 12h5.9M111.4 12h3.1M120.6 12h3M129.5 12h2.7M140.9 12h5.4M156.6 12h2.8M161.8 12h3.8M171.3 12h1.9M182.7 12h1.9M186.5 12h1.9M190.3 12h1.9M0 13h1.9M6.9 13h1.7M13.7 13h1.7M18.3 13h1.2M21.4 13h2.2M27.4 13h2.2M33.9 13h5.2M48.1 13h2.1M80.9 13h2.9M93.1 13h3M102.3 13h2.9M108.2 13h3.2M120.6 13h3M126.6 13h2.9M138.1 13h2.8M154.1 13h5.3M161.8 13h2M171.3 13h3.8M177 13h3.8M5.2 14h3.4M15.4 14h1.7M21.4 14h2.2M29.6 14h2.2M36.4 14h5.2M48.1 14h2.1M52.4 14h2.5M63.3 14h2.8M69 14h2.9M86.9 14h6.2M108.2 14h3.2M114.5 14h3.1M126.6 14h2.9M138.1 14h2.8M165.6 14h5.7M175.1 14h1.9M178.9 14h1.9M186.5 14h1.9M194.1 14h1.9M0 15h3.5M5.2 15h1.7M8.6 15h1.7M12 15h1.7M15.4 15h1.7M18.3 15h3.1M23.6 15h1.9M29.6 15h2.2M36.4 15h2.7M41.6 15h2.2M52.4 15h2.5M57.7 15h5.6M74.8 15h3.1M99.1 15h3.2M111.4 15h3.1M117.6 15h3M123.6 15h3M129.5 15h2.7M149 15h2.6M156.6 15h5.2M177 15h1.9M182.7 15h1.9M186.5 15h1.9M190.3 15h3.8M1.9 16h1.6M15.4 16h1.7M31.8 16h2.1M41.6 16h2.2M45.9 16h2.2M50.2 16h4.7M63.3 16h2.8M69 16h2.9M80.9 16h2.9M86.9 16h3.2M123.6 16h3M140.9 16h8.1M154.1 16h2.5M161.8 16h5.7M177 16h1.9M184.6 16h1.9M192.2 16h1.9M3.5 17h1.7M25.5 17h1.9M29.6 17h2.2M31.8 17h2.1M43.8 17h2.1M60.6 17h2.7M69 17h2.9M86.9 17h3.2M111.4 17h6.2M126.6 17h2.9M151.6 17h2.5M154.1 17h2.5M165.6 17h1.9M167.5 17h1.9M169.4 17h1.9M173.2 17h1.9M188.4 17h1.9M192.2 17h1.9M8.6 18h1.7M39.1 18h2.5M52.4 18h2.5M86.9 18h3.2M99.1 18h3.2M105.2 18h9.3M123.6 18h3M129.5 18h2.7M132.2 18h3M149 18h2.6M156.6 18h2.8M159.4 18h2.4M171.3 18h1.9M175.1 18h1.9M184.6 18h1.9M186.5 18h1.9M190.3 18h1.9M57.7 19h2.9M66.1 19h8.7M86.9 19h3.2M93.1 19h9.2M111.4 19h3.1M57.7 20h2.9M83.8 20h3.1M93.1 20h12.1M63.3 21h8.6M77.9 21h3M86.9 21h3.2M93.1 21h9.2M63.3 22h2.8M74.8 22h3.1M80.9 22h2.9M99.1 22h3.2M57.7 23h2.9M60.6 23h2.7M66.1 23h8.7M83.8 23h3.1M74.8 24h6.1M83.8 24h3.1M90.1 24h3M69 25h5.8M80.9 25h2.9M99.1 25h3.2M63.3 26h2.8M74.8 26h6.1M86.9 26h9.2M66.1 27h2.9M77.9 27h5.9M90.1 27h12.2M63.3 28h2.8M69 28h2.9M86.9 28h9.2M66.1 29h8.7M77.9 29h5.9M93.1 29h3M83.8 30h9.3M71.9 31h2.9M96.1 31h3M80.9 32h2.9M93.1 32h3M69 34h2.9M80.9 34h2.9M86.9 34h3.2M66.1 35h2.9M80.9 35h2.9M77.9 36h3M86.9 36h6.2M71.9 37h6M80.9 37h2.9M93.1 37h3M74.8 38h6.1M83.8 38h3.1M90.1 38h6M83.8 39h3.1M71.9 40h2.9M83.8 40h9.3M69 41h2.9M80.9 41h2.9M83.8 42h6.3M71.9 43h2.9M83.8 43h3.1M90.1 43h3M93.1 43h3M69 44h2.9M80.9 44h2.9M86.9 44h3.2M74.8 45h3.1M83.8 46h6.3M77.9 47h5.9M74.8 48h3.1M83.8 48h3.1M71.9 49h9M69 50h14.8M86.9 50h6.2M74.8 51h6.1M83.8 51h3.1M90.1 51h3M66.1 52h2.9M69 52h5.8M83.8 52h6.3M66.1 53h2.9M71.9 53h6M80.9 53h2.9M96.1 53h3M71.9 54h2.9M93.1 54h3M66.1 55h2.9M71.9 55h2.9M80.9 55h2.9M90.1 55h3M69 56h2.9M80.9 56h2.9M93.1 56h6M77.9 57h12.2M66.1 58h2.9M74.8 58h3.1M90.1 58h6M99.1 58h3.2M77.9 59h3M69 60h2.9M93.1 60h3M66.1 61h2.9M71.9 61h2.9M83.8 61h3.1M90.1 61h3M96.1 61h6.2M60.6 62h5.5M86.9 62h3.2M96.1 62h3M66.1 63h2.9M74.8 63h3.1M86.9 63h6.2M96.1 63h3M60.6 64h8.4M74.8 64h9M96.1 64h3M60.6 65h2.7M77.9 65h3M93.1 65h9.2M63.3 66h2.8M69 66h5.8M77.9 66h5.9M93.1 66h3M102.3 66h2.9M57.7 67h2.9M63.3 67h5.7M74.8 67h3.1M90.1 67h6M102.3 67h5.9M50.2 68h2.2M60.6 68h2.7M71.9 68h2.9M93.1 68h9.2M111.4 68h3.1M1.9 69h1.6M8.6 69h1.7M10.3 69h1.7M21.4 69h2.2M52.4 69h2.5M57.7 69h5.6M71.9 69h6M83.8 69h3.1M108.2 69h3.2M132.2 69h3M143.5 69h2.8M159.4 69h2.4M161.8 69h2M169.4 69h1.9M178.9 69h1.9M180.8 69h1.9M188.4 69h1.9M0 70h1.9M8.6 70h1.7M15.4 70h1.7M18.3 70h1.2M19.5 70h1.9M23.6 70h1.9M25.5 70h1.9M29.6 70h2.2M33.9 70h2.5M39.1 70h2.5M50.2 70h2.2M54.9 70h5.7M93.1 70h3M99.1 70h3.2M114.5 70h9.1M129.5 70h2.7M132.2 70h3M140.9 70h2.6M146.3 70h2.7M156.6 70h2.8M159.4 70h2.4M177 70h1.9M178.9 70h1.9M182.7 70h1.9M186.5 70h1.9M190.3 70h1.9M194.1 70h1.9M0 71h1.9M3.5 71h3.4M10.3 71h3.4M18.3 71h3.1M27.4 71h4.4M39.1 71h2.5M43.8 71h2.1M48.1 71h2.1M54.9 71h5.7M71.9 71h6M96.1 71h15.3M114.5 71h3.1M132.2 71h3M146.3 71h2.7M154.1 71h2.5M161.8 71h2M167.5 71h5.7M175.1 71h3.8M182.7 71h1.9M190.3 71h1.9M0 72h3.5M5.2 72h5.1M12 72h1.7M15.4 72h4.1M27.4 72h4.4M83.8 72h6.3M102.3 72h12.2M123.6 72h5.9M140.9 72h2.6M163.8 72h1.8M173.2 72h1.9M178.9 72h1.9M184.6 72h1.9M1.9 73h3.3M6.9 73h1.7M15.4 73h1.7M18.3 73h5.3M27.4 73h2.2M43.8 73h2.1M66.1 73h2.9M90.1 73h3M108.2 73h3.2M123.6 73h3M140.9 73h2.6M159.4 73h2.4M165.6 73h1.9M169.4 73h1.9M177 73h1.9M184.6 73h1.9M190.3 73h1.9M0 74h5.2M15.4 74h1.7M19.5 74h1.9M33.9 74h2.5M39.1 74h2.5M50.2 74h4.7M57.7 74h8.4M69 74h5.8M93.1 74h3M99.1 74h6.1M108.2 74h6.3M123.6 74h3M129.5 74h5.7M138.1 74h8.2M156.6 74h2.8M161.8 74h3.8M167.5 74h1.9M175.1 74h3.8M186.5 74h3.8M192.2 74h3.8M1.9 75h1.6M5.2 75h3.4M12 75h1.7M18.3 75h3.1M23.6 75h1.9M29.6 75h2.2M36.4 75h5.2M43.8 75h2.1M48.1 75h2.1M52.4 75h2.5M63.3 75h2.8M83.8 75h3.1M90.1 75h6M105.2 75h3M111.4 75h3.1M132.2 75h3M143.5 75h2.8M154.1 75h2.5M161.8 75h3.8M169.4 75h1.9M173.2 75h5.7M180.8 75h1.9M188.4 75h1.9M192.2 75h1.9M8.6 76h1.7M15.4 76h1.7M18.3 76h1.2M25.5 76h1.9M29.6 76h4.3M36.4 76h5.2M48.1 76h2.1M57.7 76h5.6M80.9 76h2.9M105.2 76h3M123.6 76h5.9M132.2 76h3M138.1 76h2.8M143.5 76h2.8M165.6 76h5.7M182.7 76h1.9M190.3 76h5.7M1.9 77h1.6M13.7 77h1.7M18.3 77h1.2M25.5 77h1.9M31.8 77h2.1M39.1 77h2.5M45.9 77h2.2M50.2 77h2.2M60.6 77h8.4M80.9 77h6M90.1 77h3M96.1 77h3M108.2 77h6.3M117.6 77h3M126.6 77h2.9M132.2 77h8.7M143.5 77h2.8M154.1 77h2.5M159.4 77h2.4M165.6 77h1.9M171.3 77h1.9M175.1 77h1.9M180.8 77h3.8M186.5 77h1.9M3.5 78h1.7M6.9 78h5.1M21.4 78h4.1M29.6 78h14.2M45.9 78h2.2M57.7 78h2.9M74.8 78h3.1M99.1 78h6.1M114.5 78h6.1M126.6 78h2.9M132.2 78h3M140.9 78h10.7M156.6 78h2.8M167.5 78h9.5M178.9 78h3.8M184.6 78h7.6M1.9 79h5M19.5 79h4.1M31.8 79h2.1M36.4 79h5.2M45.9 79h2.2M57.7 79h2.9M105.2 79h9.3M126.6 79h2.9M135.2 79h8.3M146.3 79h2.7M151.6 79h2.5M161.8 79h3.8M173.2 79h1.9M177 79h7.6M186.5 79h3.8M192.2 79h1.9M0 80h1.9M10.3 80h3.4M17.1 80h1.2M23.6 80h1.9M27.4 80h2.2M31.8 80h2.1M36.4 80h2.7M43.8 80h2.1M60.6 80h2.7M96.1 80h3M105.2 80h3M111.4 80h3.1M126.6 80h5.6M135.2 80h5.7M149 80h2.6M159.4 80h2.4M163.8 80h1.8M173.2 80h1.9M178.9 80h1.9M186.5 80h1.9M190.3 80h1.9M194.1 80h1.9M1.9 81h6.7M10.3 81h5.1M29.6 81h2.2M33.9 81h2.5M39.1 81h2.5M45.9 81h4.3M54.9 81h2.8M99.1 81h3.2M111.4 81h6.2M135.2 81h2.9M149 81h5.1M163.8 81h1.8M167.5 81h3.8M173.2 81h1.9M182.7 81h3.8M188.4 81h3.8M3.5 82h1.7M8.6 82h1.7M12 82h1.7M17.1 82h1.2M19.5 82h1.9M25.5 82h1.9M54.9 82h2.8M71.9 82h2.9M80.9 82h2.9M90.1 82h3M102.3 82h2.9M114.5 82h9.1M126.6 82h2.9M138.1 82h2.8M156.6 82h2.8M161.8 82h2M169.4 82h1.9M173.2 82h1.9M180.8 82h1.9M184.6 82h3.8M190.3 82h5.7M0 83h1.9M5.2 83h5.1M17.1 83h1.2M19.5 83h1.9M33.9 83h2.5M39.1 83h4.7M60.6 83h5.5M83.8 83h3.1M108.2 83h6.3M120.6 83h3M129.5 83h2.7M146.3 83h5.3M156.6 83h5.2M163.8 83h1.8M169.4 83h3.8M177 83h1.9M180.8 83h3.8M192.2 83h1.9M0 84h1.9M15.4 84h1.7M21.4 84h2.2M27.4 84h4.4M41.6 84h6.5M52.4 84h2.5M71.9 84h2.9M90.1 84h3M108.2 84h3.2M114.5 84h9.1M132.2 84h3M146.3 84h2.7M156.6 84h5.2M171.3 84h1.9M177 84h1.9M182.7 84h3.8M190.3 84h1.9M194.1 84h1.9M0 85h1.9M13.7 85h1.7M23.6 85h3.8M29.6 85h2.2M45.9 85h4.3M74.8 85h3.1M102.3 85h2.9M129.5 85h2.7M143.5 85h2.8M149 85h5.1M156.6 85h7.2M167.5 85h9.5M180.8 85h1.9M192.2 85h3.8M6.9 86h1.7M15.4 86h1.7M21.4 86h2.2M25.5 86h4.1M31.8 86h2.1M45.9 86h2.2M54.9 86h2.8M63.3 86h2.8M71.9 86h2.9M77.9 86h3M102.3 86h2.9M108.2 86h3.2M123.6 86h5.9M146.3 86h2.7M159.4 86h2.4M163.8 86h3.7M178.9 86h3.8M188.4 86h1.9M18.3 87h1.2M39.1 87h2.5M45.9 87h2.2M50.2 87h4.7M63.3 87h2.8M102.3 87h2.9M123.6 87h5.9M165.6 87h1.9M178.9 87h1.9M184.6 87h1.9M188.4 87h1.9"/>
<path stroke="#2f0595" d="M21.4 5h2.2M1.9 6h1.6M6.9 7h1.7M15.4 7h1.7M18.3 7h1.2M126.6 8h2.9M178.9 8h1.9M25.5 9h1.9M151.6 9h2.5M165.6 9h1.9M180.8 9h3.8M27.4 10h2.2M156.6 10h2.8M173.2 10h1.9M13.7 11h1.7M25.5 11h1.9M50.2 11h2.2M138.1 11h2.8M143.5 11h2.8M175.1 11h1.9M175.1 12h3.8M5.2 13h1.7M19.5 13h1.9M43.8 13h2.1M52.4 13h2.5M105.2 13h3M135.2 13h2.9M140.9 13h2.6M180.8 13h1.9M186.5 13h1.9M1.9 14h1.6M8.6 14h1.7M12 14h1.7M18.3 14h3.1M27.4 14h2.2M33.9 14h2.5M54.9 14h5.7M102.3 14h2.9M111.4 14h3.1M123.6 14h3M161.8 14h2M192.2 14h1.9M6.9 15h1.7M43.8 15h2.1M48.1 15h2.1M54.9 15h2.8M146.3 15h2.7M163.8 15h1.8M194.1 15h1.9M0 16h1.9M3.5 16h1.7M8.6 16h1.7M17.1 16h4.3M27.4 16h2.2M33.9 16h2.5M39.1 16h2.5M111.4 16h3.1M117.6 16h6M129.5 16h2.7M135.2 16h5.7M156.6 16h5.2M169.4 16h5.7M180.8 16h1.9M186.5 16h1.9M194.1 16h1.9M41.6 17h2.2M102.3 18h2.9M54.9 19h2.8M60.6 19h2.7M5.2 20h1.7M6.9 20h1.7M13.7 20h1.7M18.3 20h1.2M25.5 20h1.9M27.4 20h2.2M54.9 20h2.8M105.2 20h3M123.6 20h3M129.5 20h2.7M138.1 20h2.8M149 20h2.6M167.5 20h1.9M173.2 20h1.9M3.5 21h1.7M13.7 21h1.7M15.4 21h1.7M19.5 21h1.9M33.9 21h2.5M39.1 21h2.5M43.8 21h2.1M151.6 21h2.5M156.6 21h2.8M167.5 21h1.9M171.3 21h1.9M177 21h1.9M182.7 21h1.9M43.8 22h2.1M52.4 22h2.5M54.9 24h2.8M63.3 24h2.8M96.1 24h3M102.3 24h2.9M63.3 25h2.8M105.2 25h3M99.1 26h3.2M63.3 27h2.8M66.1 28h2.9M66.1 30h2.9M69 32h2.9M66.1 34h2.9M90.1 35h3M93.1 36h3M80.9 38h2.9M69 39h2.9M96.1 39h3M69 40h2.9M90.1 41h3M90.1 42h3M96.1 42h3M71.9 45h2.9M80.9 45h2.9M86.9 48h3.2M80.9 49h2.9M63.3 51h2.8M69 51h2.9M69 53h2.9M99.1 53h3.2M69 54h2.9M90.1 54h3M99.1 54h3.2M99.1 55h3.2M60.6 57h2.7M69 57h2.9M96.1 57h3M71.9 58h2.9M90.1 60h3M99.1 60h3.2M60.6 61h2.7M60.6 63h2.7M108.2 63h3.2M50.2 64h2.2M52.4 64h2.5M114.5 64h3.1M5.2 65h1.7M8.6 65h1.7M13.7 65h1.7M15.4 65h1.7M18.3 65h1.2M21.4 65h2.2M36.4 65h2.7M48.1 65h2.1M102.3 65h5.9M126.6 65h2.9M143.5 65h2.8M151.6 65h2.5M159.4 65h2.4M169.4 65h1.9M175.1 65h1.9M180.8 65h1.9M182.7 65h1.9M186.5 65h1.9M17.1 66h1.2M19.5 66h1.9M36.4 66h2.7M45.9 66h2.2M48.1 66h2.1M123.6 66h3M140.9 66h2.6M143.5 66h2.8M149 66h2.6M156.6 66h2.8M159.4 66h2.4M167.5 66h1.9M50.2 69h2.2M99.1 69h3.2M1.9 70h1.6M3.5 70h1.7M6.9 70h1.7M12 70h1.7M17.1 70h1.2M27.4 70h2.2M52.4 70h2.5M123.6 70h3M126.6 70h2.9M135.2 70h2.9M149 70h2.6M154.1 70h2.5M180.8 70h1.9M184.6 70h1.9M17.1 71h1.2M25.5 71h1.9M31.8 71h2.1M41.6 71h2.2M52.4 71h2.5M156.6 71h2.8M165.6 71h1.9M180.8 71h1.9M184.6 71h1.9M23.6 72h1.9M50.2 72h2.2M120.6 72h3M135.2 72h2.9M161.8 72h2M169.4 72h1.9M177 72h1.9M192.2 72h1.9M13.7 73h1.7M111.4 73h6.2M120.6 73h3M129.5 73h2.7M138.1 73h2.8M156.6 73h2.8M182.7 73h1.9M5.2 74h1.7M12 74h1.7M18.3 74h1.2M45.9 74h2.2M74.8 74h3.1M146.3 74h7.8M173.2 74h1.9M15.4 75h1.7M33.9 75h2.5M129.5 75h2.7M149 75h2.6M3.5 76h1.7M12 76h1.7M45.9 76h2.2M161.8 76h2M184.6 76h1.9M3.5 77h1.7M19.5 77h1.9M54.9 77h2.8M129.5 77h2.7M156.6 77h2.8M161.8 77h3.8M194.1 77h1.9M43.8 78h2.1M17.1 79h1.2M120.6 79h3M25.5 80h1.9M41.6 80h2.2M175.1 80h1.9M117.6 81h3M165.6 81h1.9M146.3 82h2.7M48.1 83h2.1M52.4 83h2.5M138.1 83h2.8M151.6 83h2.5M132.2 85h3"/>
<path stroke="#3a059a" d="M6.9 6h1.7M159.4 8h2.4M138.1 10h2.8M180.8 10h1.9M149 12h2.6M8.6 13h3.4M41.6 13h2.2M175.1 13h1.9M3.5 14h1.7M10.3 14h1.7M105.2 14h3M154.1 14h2.5M25.5 15h1.9M50.2 15h2.2M151.6 15h5M167.5 15h1.9M188.4 15h1.9M5.2 16h1.7M21.4 16h2.2M36.4 16h2.7M43.8 16h2.1M132.2 16h3M5.2 17h1.7M13.7 17h1.7M50.2 17h2.2M156.6 17h2.8M175.1 17h1.9M182.7 17h1.9M186.5 17h1.9M194.1 17h1.9M5.2 22h1.7M10.3 22h1.7M13.7 22h1.7M17.1 22h1.2M57.7 22h2.9M138.1 22h2.8M140.9 22h2.6M173.2 22h1.9M177 22h1.9M182.7 22h1.9M184.6 22h1.9M194.1 22h1.9M3.5 23h1.7M36.4 23h2.7M114.5 23h3.1M117.6 23h3M135.2 23h2.9M163.8 23h1.8M167.5 23h1.9M184.6 23h1.9M192.2 23h1.9M194.1 23h1.9M52.4 24h2.5M105.2 27h3M99.1 28h3.2M102.3 30h2.9M60.6 32h2.7M66.1 32h2.9M90.1 32h3M66.1 33h2.9M93.1 34h3M71.9 36h2.9M99.1 36h3.2M63.3 38h2.8M71.9 42h2.9M90.1 46h3M99.1 51h3.2M74.8 52h3.1M102.3 55h2.9M66.1 56h2.9M117.6 57h3M57.7 58h2.9M99.1 59h3.2M54.9 61h2.8M99.1 62h3.2M111.4 62h3.1M33.9 63h2.5M117.6 63h3M129.5 63h2.7M3.5 64h1.7M12 64h1.7M13.7 64h1.7M23.6 64h1.9M27.4 64h2.2M33.9 64h2.5M39.1 64h2.5M138.1 64h2.8M156.6 64h2.8M159.4 64h2.4M161.8 64h2M13.7 70h1.7M36.4 70h2.7M43.8 70h2.1M6.9 71h1.7M33.9 71h5.2M19.5 72h1.9M33.9 72h2.5M48.1 72h2.1M117.6 72h3M149 72h2.6M156.6 72h2.8M25.5 73h1.9M36.4 73h2.7M175.1 73h1.9M6.9 74h1.7M29.6 74h2.2M117.6 74h3M190.3 74h1.9M45.9 75h2.2M50.2 75h2.2M23.6 76h1.9M99.1 76h3.2M159.4 76h2.4M27.4 77h2.2M165.6 79h1.9M159.4 81h2.4"/>
<path stroke="#44049e" d="M156.6 9h2.8M143.5 10h2.8M126.6 11h2.9M45.9 15h2.2M143.5 15h2.8M114.5 18h3.1M182.7 18h1.9M102.3 19h2.9M102.3 21h5.9M8.6 24h1.7M17.1 24h1.2M21.4 24h2.2M27.4 24h2.2M29.6 24h2.2M31.8 24h2.1M140.9 24h2.6M161.8 24h2M175.1 24h1.9M178.9 24h1.9M186.5 24h1.9M194.1 24h1.9M60.6 25h2.7M108.2 31h3.2M96.1 32h3M93.1 40h3M63.3 42h2.8M63.3 43h2.8M90.1 44h3M99.1 47h3.2M48.1 56h2.1M105.2 57h3M108.2 59h3.2M111.4 61h3.1M17.1 62h1.2M21.4 62h2.2M120.6 62h3M126.6 62h2.9M143.5 62h2.8M149 62h2.6M159.4 62h2.4M165.6 62h1.9M171.3 62h1.9M175.1 62h1.9M178.9 62h1.9M19.5 63h1.9M132.2 63h3M138.1 63h2.8M154.1 63h2.5M159.4 63h2.4M161.8 63h2M173.2 63h1.9M57.7 64h2.9M57.7 66h2.9M50.2 67h2.2M52.4 67h2.5M1.9 68h1.6M45.9 68h2.2M108.2 68h3.2M114.5 68h3.1M143.5 68h2.8M156.6 69h2.8M177 69h1.9M194.1 69h1.9M48.1 70h2.1M120.6 71h3M10.3 72h1.7M140.9 75h2.6M167.5 75h1.9"/>
<path stroke="#2e0595" d="M1.9 17h1.6M12 17h1.7M15.4 17h1.7M17.1 17h1.2M21.4 17h2.2M33.9 17h2.5M177 17h1.9M178.9 17h1.9M6.9 18h1.7M12 18h1.7M19.5 18h1.9M31.8 18h2.1M48.1 18h2.1M117.6 18h3M120.6 18h3M138.1 18h2.8M161.8 18h2M165.6 18h1.9M188.4 18h1.9M194.1 18h1.9M3.5 19h1.7M8.6 19h1.7M12 19h1.7M33.9 19h2.5M43.8 19h2.1M129.5 19h2.7M151.6 19h2.5M163.8 19h1.8M173.2 19h1.9M177 19h1.9M184.6 19h1.9M188.4 19h1.9M50.2 20h2.2M54.9 21h2.8M105.2 22h3M108.2 22h3.2M102.3 25h2.9M31.8 26h2.1M60.6 26h2.7M177 26h1.9M102.3 27h2.9M52.4 28h2.5M63.3 30h2.8M99.1 30h3.2M63.3 31h2.8M96.1 34h3M66.1 36h2.9M66.1 43h2.9M93.1 44h3M66.1 51h2.9M99.1 56h3.2M108.2 57h3.2M60.6 58h2.7M102.3 60h2.9M57.7 63h2.9M105.2 64h3M52.4 65h2.5M54.9 66h2.8M0 67h1.9M5.2 67h1.7M10.3 67h1.7M33.9 67h2.5M48.1 67h2.1M114.5 67h3.1M126.6 67h2.9M138.1 67h2.8M159.4 67h2.4M175.1 67h1.9M177 67h1.9M178.9 67h1.9M0 68h1.9M12 68h1.7M19.5 68h1.9M29.6 68h2.2M41.6 68h2.2M123.6 68h3M138.1 68h2.8M140.9 68h2.6M146.3 68h2.7M149 68h2.6M159.4 68h2.4M161.8 68h2M167.5 68h1.9M169.4 68h1.9M177 68h1.9M178.9 68h1.9M180.8 68h1.9M190.3 68h1.9M192.2 68h1.9M3.5 69h1.7M6.9 69h1.7M17.1 69h1.2M25.5 69h1.9M36.4 69h2.7M117.6 69h3M129.5 69h2.7M163.8 69h1.8M165.6 69h1.9M184.6 69h1.9M190.3 69h1.9"/>
<path stroke="#4d03a0" d="M159.4 17h2.4M41.6 26h2.2M43.8 26h2.1M129.5 26h2.7M69 37h2.9M93.1 39h3M60.6 49h2.7M60.6 50h2.7M10.3 58h1.7M171.3 58h1.9M177 58h1.9M178.9 58h1.9M180.8 58h1.9M13.7 61h1.7M18.3 61h1.2M29.6 61h2.2M154.1 61h2.5M159.4 61h2.4M161.8 61h2M163.8 61h1.8M167.5 61h1.9M169.4 61h1.9M173.2 61h1.9M177 61h1.9M178.9 61h1.9M180.8 61h1.9"/>
<path stroke="#5e01a5" d="M184.6 17h1.9M117.6 28h3M120.6 28h3M15.4 30h1.7M23.6 30h1.9M151.6 30h2.5M192.2 30h1.9M108.2 55h3.2"/>
<path stroke="#39059a" d="M13.7 18h1.7M17.1 18h1.2M27.4 18h2.2M29.6 18h2.2M36.4 18h2.7M41.6 18h2.2M146.3 18h2.7M167.5 18h1.9M178.9 18h1.9M6.9 19h1.7M10.3 19h1.7M149 19h2.6M180.8 19h1.9M15.4 20h1.7M19.5 20h1.9M31.8 20h2.1M52.4 20h2.5M140.9 20h2.6M146.3 20h2.7M178.9 20h1.9M188.4 20h1.9M36.4 21h2.7M41.6 21h2.2M117.6 21h3M120.6 21h3M126.6 21h2.9M135.2 21h2.9M138.1 21h2.8M140.9 21h2.6M146.3 21h2.7M161.8 21h2M165.6 21h1.9M169.4 21h1.9M178.9 21h1.9M188.4 21h1.9M114.5 22h3.1M111.4 23h3.1M57.7 25h2.9M105.2 26h3M57.7 27h2.9M108.2 30h3.2M63.3 32h2.8M66.1 42h2.9M96.1 43h3M96.1 44h3M66.1 46h2.9M66.1 48h2.9M96.1 48h3M66.1 49h2.9M63.3 55h2.8M60.6 56h2.7M102.3 58h2.9M60.6 59h2.7M105.2 60h3M105.2 62h3M111.4 63h3.1M54.9 64h2.8M12 65h1.7M23.6 65h1.9M33.9 65h2.5M108.2 65h3.2M114.5 65h3.1M129.5 65h2.7M135.2 65h2.9M161.8 65h2M171.3 65h1.9M188.4 65h1.9M0 66h1.9M1.9 66h1.6M3.5 66h1.7M8.6 66h1.7M23.6 66h1.9M27.4 66h2.2M29.6 66h2.2M31.8 66h2.1M114.5 66h3.1M138.1 66h2.8M146.3 66h2.7M161.8 66h2M171.3 66h1.9M175.1 66h1.9M184.6 66h1.9M15.4 67h1.7M117.6 67h3M143.5 67h2.8M146.3 67h2.7M163.8 67h1.8M167.5 67h1.9M169.4 67h1.9M188.4 67h1.9M13.7 68h1.7M25.5 68h1.9M33.9 68h2.5M39.1 68h2.5M117.6 68h3M132.2 68h3M154.1 68h2.5M184.6 68h1.9M12 69h1.7M19.5 69h1.9M31.8 69h2.1M33.9 69h2.5M140.9 69h2.6M173.2 69h1.9"/>
<path stroke="#5d01a5" d="M0 19h1.9M52.4 32h2.5M60.6 43h2.7M102.3 48h2.9M105.2 49h3M45.9 56h2.2M5.2 59h1.7M8.6 59h1.7M167.5 59h1.9M173.2 59h1.9M178.9 59h1.9M186.5 59h1.9"/>
<path stroke="#0e0887" d="M1.9 19h1.6M17.1 19h1.2M36.4 19h2.7M178.9 19h1.9M186.5 19h1.9M190.3 19h1.9M43.8 68h2.1M151.6 68h2.5M171.3 68h1.9"/>
<path stroke="#43049e" d="M5.2 19h1.7M13.7 19h1.7M18.3 19h1.2M25.5 19h1.9M126.6 19h2.9M146.3 19h2.7M175.1 19h1.9M0 20h1.9M8.6 20h1.7M132.2 20h3M154.1 20h2.5M161.8 20h2M180.8 20h1.9M190.3 20h1.9M194.1 20h1.9M0 21h1.9M12 21h1.7M27.4 21h2.2M45.9 21h2.2M143.5 21h2.8M159.4 21h2.4M190.3 21h1.9M12 22h1.7M41.6 22h2.2M149 22h2.6M156.6 22h2.8M161.8 22h2M167.5 22h1.9M169.4 22h1.9M192.2 22h1.9M6.9 23h1.7M15.4 23h1.7M23.6 23h1.9M149 23h2.6M156.6 23h2.8M159.4 23h2.4M165.6 23h1.9M177 23h1.9M50.2 24h2.2M54.9 25h2.8M57.7 26h2.9M105.2 28h3M60.6 30h2.7M99.1 34h3.2M66.1 38h2.9M66.1 40h2.9M96.1 40h3M66.1 41h2.9M96.1 46h3M66.1 47h2.9M63.3 50h2.8M96.1 50h3M60.6 55h2.7M102.3 56h2.9M27.4 59h2.2M57.7 59h2.9M102.3 59h2.9M105.2 59h3M52.4 62h2.5M108.2 62h3.2M19.5 64h1.9M25.5 64h1.9M29.6 64h2.2M111.4 64h3.1M151.6 64h2.5M163.8 64h1.8M167.5 64h1.9M171.3 64h1.9M178.9 64h1.9M182.7 64h1.9M188.4 64h1.9M17.1 65h1.2M27.4 65h2.2M132.2 65h3M149 65h2.6M178.9 65h1.9M192.2 65h1.9M10.3 66h1.7M12 66h1.7M15.4 66h1.7M117.6 66h3M126.6 66h2.9M165.6 66h1.9M178.9 66h1.9M182.7 66h1.9M120.6 67h3M154.1 67h2.5M156.6 67h2.8M171.3 67h1.9M192.2 67h1.9M194.1 67h1.9"/>
<path stroke="#19078c" d="M15.4 19h1.7M21.4 19h2.2M23.6 19h1.9M27.4 19h2.2M41.6 19h2.2M45.9 19h2.2M117.6 19h3M123.6 19h3M132.2 19h3M138.1 19h2.8M140.9 19h2.6M143.5 19h2.8M154.1 19h2.5M159.4 19h2.4M161.8 19h2M171.3 19h1.9M1.9 20h1.6M10.3 20h1.7M12 20h1.7M17.1 20h1.2M23.6 20h1.9M29.6 20h2.2M135.2 20h2.9M143.5 20h2.8M163.8 20h1.8M165.6 20h1.9M169.4 20h1.9M177 20h1.9M54.9 22h2.8M102.3 26h2.9M60.6 27h2.7M96.1 36h3M96.1 37h3M66.1 44h2.9M96.1 49h3M111.4 65h3.1M120.6 66h3M6.9 67h1.7M8.6 67h1.7M12 67h1.7M17.1 67h1.2M25.5 67h1.9M36.4 67h2.7M43.8 67h2.1M123.6 67h3M132.2 67h3M149 67h2.6M173.2 67h1.9M190.3 67h1.9M5.2 68h1.7M10.3 68h1.7M21.4 68h2.2M27.4 68h2.2M129.5 68h2.7M165.6 68h1.9M186.5 68h1.9M194.1 68h1.9"/>
<path stroke="#240691" d="M19.5 19h1.9M29.6 19h2.2M39.1 19h2.5M120.6 19h3M135.2 19h2.9M156.6 19h2.8M165.6 19h1.9M167.5 19h1.9M169.4 19h1.9M182.7 19h1.9M194.1 19h1.9M3.5 20h1.7M21.4 20h2.2M36.4 20h2.7M39.1 20h2.5M41.6 20h2.2M43.8 20h2.1M48.1 20h2.1M120.6 20h3M126.6 20h2.9M151.6 20h2.5M159.4 20h2.4M171.3 20h1.9M186.5 20h1.9M1.9 21h1.6M5.2 21h1.7M8.6 21h1.7M31.8 21h2.1M48.1 21h2.1M52.4 21h2.5M111.4 21h3.1M123.6 21h3M129.5 21h2.7M132.2 21h3M173.2 21h1.9M184.6 21h1.9M50.2 22h2.2M111.4 22h3.1M54.9 23h2.8M57.7 24h2.9M105.2 24h3M108.2 24h3.2M120.6 26h3M63.3 33h2.8M96.1 35h3M96.1 38h3M96.1 51h3M63.3 54h2.8M99.1 57h3.2M57.7 60h2.9M57.7 61h2.9M105.2 61h3M54.9 63h2.8M108.2 64h3.2M50.2 65h2.2M117.6 65h3M5.2 66h1.7M6.9 66h1.7M13.7 66h1.7M39.1 66h2.5M41.6 66h2.2M52.4 66h2.5M111.4 66h3.1M132.2 66h3M135.2 66h2.9M154.1 66h2.5M163.8 66h1.8M177 66h1.9M186.5 66h1.9M188.4 66h1.9M194.1 66h1.9M1.9 67h1.6M3.5 67h1.7M13.7 67h1.7M19.5 67h1.9M21.4 67h2.2M23.6 67h1.9M31.8 67h2.1M39.1 67h2.5M45.9 67h2.2M129.5 67h2.7M165.6 67h1.9M182.7 67h1.9M186.5 67h1.9M3.5 68h1.7M6.9 68h1.7M15.4 68h1.7M17.1 68h1.2M18.3 68h1.2M23.6 68h1.9M31.8 68h2.1M36.4 68h2.7M126.6 68h2.9M135.2 68h2.9M156.6 68h2.8M163.8 68h1.8M175.1 68h1.9M182.7 68h1.9M188.4 68h1.9"/>
<path stroke="#4c03a0" d="M31.8 19h2.1M182.7 20h1.9M184.6 20h1.9M50.2 21h2.2M15.4 24h1.7M169.4 24h1.9M188.4 24h1.9M0 25h1.9M18.3 25h1.2M29.6 25h2.2M33.9 25h2.5M45.9 25h2.2M120.6 25h3M143.5 25h2.8M146.3 25h2.7M171.3 25h1.9M184.6 25h1.9M52.4 26h2.5M60.6 28h2.7M146.3 28h2.7M171.3 28h1.9M173.2 28h1.9M175.1 28h1.9M180.8 28h1.9M99.1 29h3.2M105.2 30h3M99.1 31h3.2M102.3 33h2.9M66.1 45h2.9M52.4 56h2.5M63.3 56h2.8M50.2 57h2.2M111.4 60h3.1M41.6 61h2.2M43.8 61h2.1M48.1 61h2.1M0 62h1.9M13.7 62h1.7M27.4 62h2.2M41.6 62h2.2M43.8 62h2.1M57.7 62h2.9M140.9 62h2.6M151.6 62h2.5M163.8 62h1.8M169.4 62h1.9M177 62h1.9M184.6 62h1.9M188.4 62h1.9M190.3 62h1.9M54.9 65h2.8M43.8 66h2.1M50.2 66h2.2M135.2 67h2.9M140.9 67h2.6M184.6 67h1.9M8.6 68h1.7M27.4 69h2.2"/>
<path stroke="#230691" d="M48.1 19h2.1M111.4 20h3.1M66.1 37h2.9M96.1 52h3M105.2 63h3M120.6 68h3"/>
<path stroke="#5402a2" d="M192.2 19h1.9M114.5 20h3.1M175.1 20h1.9M154.1 21h2.5M175.1 21h1.9M1.9 26h1.6M5.2 26h1.7M12 26h1.7M17.1 26h1.2M23.6 26h1.9M25.5 26h1.9M39.1 26h2.5M48.1 26h2.1M146.3 26h2.7M151.6 26h2.5M156.6 26h2.8M165.6 26h1.9M45.9 29h2.2M66.1 39h2.9M96.1 41h3M102.3 51h2.9M45.9 57h2.2M52.4 59h2.5M50.2 60h2.2M120.6 60h3M0 61h1.9M21.4 61h2.2M27.4 61h2.2M146.3 61h2.7M156.6 61h2.8M161.8 67h2"/>
<path stroke="#5c01a4" d="M33.9 20h2.5M114.5 21h3.1M117.6 27h3M102.3 50h2.9M105.2 54h3M17.1 55h1.2M156.6 55h2.8M3.5 57h1.7M25.5 57h1.9M31.8 57h2.1M33.9 57h2.5M146.3 57h2.7M156.6 57h2.8M175.1 57h1.9M184.6 57h1.9M45.9 59h2.2M36.4 60h2.7M154.1 60h2.5M194.1 60h1.9M45.9 65h2.2"/>
<path stroke="#0e0888" d="M45.9 20h2.2M117.6 20h3M18.3 67h1.2M27.4 67h2.2M29.6 67h2.2M41.6 67h2.2M151.6 67h2.5M180.8 67h1.9"/>
<path stroke="#6501a7" d="M156.6 20h2.8M39.1 28h2.5M36.4 34h2.7M39.1 54h2.5M126.6 56h2.9"/>
<path stroke="#0f0888" d="M192.2 20h1.9M108.2 23h3.2M102.3 28h2.9M129.5 66h2.7M169.4 66h1.9"/>
<path stroke="#100888" d="M6.9 21h1.7M194.1 21h1.9M63.3 35h2.8M96.1 45h3M146.3 65h2.7"/>
<path stroke="#1a078d" d="M10.3 21h1.7M21.4 21h2.2M23.6 21h1.9M25.5 21h1.9M29.6 21h2.2M149 21h2.6M163.8 21h1.8M180.8 21h1.9M48.1 22h2.1M99.1 33h3.2M63.3 34h2.8M63.3 52h2.8M0 65h1.9M120.6 65h3M138.1 65h2.8M194.1 65h1.9"/>
<path stroke="#4b03a0" d="M17.1 21h1.2M186.5 21h1.9M192.2 21h1.9M8.6 22h1.7M120.6 22h3M154.1 22h2.5M180.8 22h1.9M186.5 22h1.9M188.4 22h1.9M19.5 23h1.9M21.4 23h2.2M43.8 23h2.1M48.1 23h2.1M146.3 23h2.7M154.1 23h2.5M169.4 23h1.9M171.3 23h1.9M173.2 23h1.9M178.9 23h1.9M180.8 23h1.9M54.9 26h2.8M45.9 28h2.2M57.7 29h2.9M105.2 29h3M102.3 31h2.9M111.4 32h3.1M60.6 33h2.7M63.3 37h2.8M63.3 41h2.8M63.3 47h2.8M96.1 47h3M99.1 49h3.2M63.3 53h2.8M117.6 56h3M57.7 57h2.9M54.9 60h2.8M54.9 62h2.8M3.5 63h1.7M6.9 63h1.7M23.6 63h1.9M27.4 63h2.2M29.6 63h2.2M52.4 63h2.5M123.6 63h3M146.3 63h2.7M149 63h2.6M178.9 63h1.9M182.7 63h1.9M10.3 64h1.7M41.6 64h2.2M48.1 64h2.1M132.2 64h3M154.1 64h2.5M190.3 64h1.9M1.9 65h1.6M43.8 65h2.1M154.1 65h2.5M167.5 65h1.9M18.3 66h1.2M21.4 66h2.2M173.2 66h1.9M192.2 66h1.9"/>
<path stroke="#6c01a8" d="M18.3 21h1.2M50.2 32h2.2M108.2 32h3.2M149 52h2.6M45.9 53h2.2M52.4 53h2.5M8.6 58h1.7M12 58h1.7M21.4 58h2.2M132.2 58h3M156.6 58h2.8M175.1 58h1.9M188.4 58h1.9M190.3 58h1.9"/>
<path stroke="#2f0596" d="M0 22h1.9M15.4 22h1.7M18.3 22h1.2M27.4 22h2.2M31.8 22h2.1M36.4 22h2.7M123.6 22h3M126.6 22h2.9M135.2 22h2.9M146.3 22h2.7M159.4 22h2.4M163.8 22h1.8M171.3 22h1.9M178.9 22h1.9M108.2 25h3.2M60.6 31h2.7M63.3 36h2.8M43.8 64h2.1M45.9 64h2.2"/>
<path stroke="#110889" d="M1.9 22h1.6"/>
<path stroke="#250691" d="M3.5 22h1.7M6.9 22h1.7M19.5 22h1.9M25.5 22h1.9M29.6 22h2.2M39.1 22h2.5M45.9 22h2.2M117.6 22h3M129.5 22h2.7M143.5 22h2.8M175.1 22h1.9M50.2 23h2.2M52.4 23h2.5M10.3 26h1.7M102.3 29h2.9M117.6 64h3M120.6 64h3M3.5 65h1.7M25.5 65h1.9M29.6 65h2.2M31.8 65h2.1M41.6 65h2.2M156.6 65h2.8M165.6 65h1.9M173.2 65h1.9M184.6 65h1.9M190.3 65h1.9"/>
<path stroke="#5302a2" d="M21.4 22h2.2M23.6 22h1.9M132.2 22h3M165.6 22h1.9M25.5 23h1.9M29.6 23h2.2M151.6 23h2.5M1.9 24h1.6M143.5 24h2.8M151.6 24h2.5M159.4 24h2.4M163.8 24h1.8M190.3 24h1.9M8.6 25h1.7M31.8 25h2.1M36.4 25h2.7M50.2 25h2.2M126.6 25h2.9M129.5 25h2.7M161.8 25h2M186.5 25h1.9M190.3 25h1.9M192.2 25h1.9M108.2 26h3.2M54.9 28h2.8M111.4 30h3.1M99.1 38h3.2M102.3 42h2.9M102.3 44h2.9M63.3 48h2.8M54.9 54h2.8M102.3 57h2.9M3.5 58h1.7M27.4 58h2.2M41.6 58h2.2M165.6 58h1.9M173.2 58h1.9M184.6 58h1.9M194.1 58h1.9M117.6 61h3M120.6 61h3M6.9 62h1.7M50.2 62h2.2M156.6 62h2.8M45.9 63h2.2M135.2 63h2.9M190.3 63h1.9M123.6 64h3M140.9 64h2.6M143.5 64h2.8M39.1 65h2.5M123.6 65h3M140.9 65h2.6M177 65h1.9"/>
<path stroke="#1b078d" d="M33.9 22h2.5M151.6 22h2.5M99.1 52h3.2M50.2 63h2.2"/>
<path stroke="#5b01a4" d="M190.3 22h1.9M12 23h1.7M140.9 23h2.6M175.1 23h1.9M48.1 24h2.1M5.2 25h1.7M17.1 25h1.2M39.1 25h2.5M43.8 25h2.1M182.7 25h1.9M0 26h1.9M15.4 26h1.7M18.3 26h1.2M188.4 26h1.9M21.4 29h2.2M175.1 29h1.9M105.2 31h3M63.3 40h2.8M99.1 43h3.2M105.2 56h3M54.9 57h2.8M6.9 61h1.7M33.9 61h2.5M129.5 61h2.7M151.6 61h2.5M186.5 61h1.9M21.4 63h2.2M186.5 63h1.9M0 64h1.9M1.9 64h1.6M8.6 64h1.7M6.9 65h1.7M10.3 65h1.7M19.5 65h1.9"/>
<path stroke="#300596" d="M0 23h1.9M1.9 23h1.6M8.6 23h1.7M10.3 23h1.7M13.7 23h1.7M31.8 23h2.1M126.6 23h2.9M161.8 23h2M190.3 23h1.9M114.5 24h3.1M63.3 49h2.8M57.7 53h2.9M60.6 54h2.7M5.2 64h1.7M6.9 64h1.7M31.8 64h2.1M36.4 64h2.7M129.5 64h2.7M146.3 64h2.7M149 64h2.6M169.4 64h1.9M173.2 64h1.9M175.1 64h1.9M180.8 64h1.9"/>
<path stroke="#6301a6" d="M5.2 23h1.7M132.2 23h3M138.1 23h2.8M1.9 27h1.6M132.2 27h3M165.6 27h1.9M167.5 27h1.9M186.5 27h1.9M192.2 27h1.9M48.1 28h2.1M120.6 30h3M43.8 32h2.1M102.3 49h2.9"/>
<path stroke="#260692" d="M17.1 23h1.2M39.1 23h2.5M41.6 23h2.2M45.9 23h2.2M120.6 23h3M123.6 23h3M129.5 23h2.7M143.5 23h2.8M186.5 23h1.9M48.1 63h2.1"/>
<path stroke="#1d078e" d="M18.3 23h1.2M27.4 23h2.2M182.7 23h1.9M188.4 23h1.9M117.6 24h3M120.6 63h3"/>
<path stroke="#7103a7" d="M33.9 23h2.5M105.2 47h3M15.4 52h1.7M21.4 52h2.2M0 58h1.9M1.9 58h1.6M25.5 58h1.9M154.1 58h2.5"/>
<path stroke="#3b049b" d="M0 24h1.9M6.9 24h1.7M13.7 24h1.7M18.3 24h1.2M25.5 24h1.9M36.4 24h2.7M39.1 24h2.5M132.2 24h3M146.3 24h2.7M154.1 24h2.5M171.3 24h1.9M180.8 24h1.9M184.6 24h1.9M114.5 25h3.1M60.6 44h2.7M102.3 54h2.9M50.2 61h2.2M123.6 62h3"/>
<path stroke="#6a00a8" d="M3.5 24h1.7M33.9 24h2.5M192.2 24h1.9M18.3 27h1.2M25.5 27h1.9M138.1 27h2.8M173.2 27h1.9M114.5 31h3.1M129.5 32h2.7M57.7 34h2.9M102.3 39h2.9M60.6 45h2.7M54.9 52h2.8M17.1 59h1.2M135.2 59h2.9M138.1 59h2.8M159.4 59h2.4M175.1 59h1.9"/>
<path stroke="#280692" d="M5.2 24h1.7M23.6 24h1.9M123.6 24h3M182.7 24h1.9M102.3 32h2.9"/>
<path stroke="#320597" d="M10.3 24h1.7M12 24h1.7M135.2 24h2.9M138.1 24h2.8M149 24h2.6M156.6 24h2.8M165.6 24h1.9M167.5 24h1.9M173.2 24h1.9M177 24h1.9M36.4 27h2.7M99.1 39h3.2M99.1 48h3.2M120.6 59h3M1.9 62h1.6M18.3 62h1.2M19.5 62h1.9M23.6 62h1.9M31.8 62h2.1M161.8 62h2M180.8 62h1.9M182.7 62h1.9M186.5 62h1.9"/>
<path stroke="#6201a6" d="M19.5 24h1.9M1.9 25h1.6M41.6 25h2.2M111.4 25h3.1M159.4 25h2.4M169.4 25h1.9M194.1 25h1.9M6.9 26h1.7M21.4 26h2.2M167.5 26h1.9M111.4 28h3.1M105.2 32h3M60.6 36h2.7M60.6 37h2.7M99.1 50h3.2M19.5 53h1.9M163.8 55h1.8M175.1 55h1.9M182.7 55h1.9M192.2 55h1.9M1.9 57h1.6M149 57h2.6M165.6 57h1.9M169.4 57h1.9M182.7 57h1.9M108.2 58h3.2M111.4 59h3.1M114.5 59h3.1M12 60h1.7M13.7 60h1.7M117.6 60h3M146.3 60h2.7M156.6 60h2.8M161.8 60h2M173.2 60h1.9M5.2 61h1.7M12 61h1.7M154.1 62h2.5M1.9 63h1.6M10.3 63h1.7M39.1 63h2.5M167.5 63h1.9"/>
<path stroke="#1e078e" d="M41.6 24h2.2M126.6 24h2.9"/>
<path stroke="#3b049a" d="M43.8 24h2.1M45.9 24h2.2M184.6 27h1.9M63.3 44h2.8M63.3 46h2.8M123.6 59h3M52.4 61h2.5M45.9 62h2.2M48.1 62h2.1M0 63h1.9M12 63h1.7M15.4 63h1.7M17.1 63h1.2M143.5 63h2.8M165.6 63h1.9M175.1 63h1.9"/>
<path stroke="#260691" d="M111.4 24h3.1M57.7 28h2.9M108.2 61h3.2M114.5 63h3.1M17.1 64h1.2M18.3 64h1.2M126.6 64h2.9M135.2 64h2.9M165.6 64h1.9M177 64h1.9M192.2 64h1.9M194.1 64h1.9"/>
<path stroke="#310596" d="M120.6 24h3M54.9 27h2.8M99.1 37h3.2M63.3 45h2.8M60.6 53h2.7M108.2 60h3.2M117.6 62h3M13.7 63h1.7M18.3 63h1.2M36.4 63h2.7M140.9 63h2.6M156.6 63h2.8M184.6 63h1.9M188.4 63h1.9M192.2 63h1.9"/>
<path stroke="#320596" d="M129.5 24h2.7M108.2 27h3.2M54.9 59h2.8"/>
<path stroke="#6900a8" d="M3.5 25h1.7M123.6 26h3M132.2 26h3M135.2 26h2.9M149 26h2.6M178.9 26h1.9M45.9 27h2.2M117.6 30h3M50.2 33h2.2M60.6 47h2.7M0 53h1.9M105.2 55h3M52.4 58h2.5M17.1 60h1.2M25.5 60h1.9M39.1 60h2.5M149 60h2.6M180.8 60h1.9M8.6 61h1.7M25.5 61h1.9"/>
<path stroke="#340597" d="M6.9 25h1.7M13.7 25h1.7M21.4 25h2.2M25.5 25h1.9M27.4 25h2.2M149 25h2.6M156.6 25h2.8M57.7 31h2.9"/>
<path stroke="#3d049b" d="M10.3 25h1.7M19.5 25h1.9M154.1 25h2.5M163.8 25h1.8M175.1 25h1.9M177 25h1.9M180.8 25h1.9M50.2 26h2.2M114.5 26h3.1M52.4 27h2.5M111.4 27h3.1M108.2 28h3.2M36.4 61h2.7M39.1 61h2.5M123.6 61h3"/>
<path stroke="#45049e" d="M12 25h1.7M23.6 25h1.9M123.6 25h3M138.1 25h2.8M140.9 25h2.6M165.6 25h1.9M188.4 25h1.9M50.2 29h2.2M102.3 34h2.9M99.1 41h3.2M99.1 42h3.2M99.1 44h3.2M57.7 55h2.9M114.5 60h3.1M1.9 61h1.6M15.4 61h1.7M45.9 61h2.2M126.6 61h2.9M138.1 61h2.8M143.5 61h2.8M188.4 61h1.9M192.2 61h1.9M194.1 61h1.9"/>
<path stroke="#2b0694" d="M15.4 25h1.7M167.5 25h1.9M173.2 25h1.9M178.9 25h1.9M23.6 61h1.9M31.8 61h2.1M140.9 61h2.6"/>
<path stroke="#3c049b" d="M48.1 25h2.1M117.6 25h3M60.6 34h2.7M99.1 40h3.2M99.1 46h3.2M102.3 53h2.9M143.5 59h2.8M151.6 59h2.5M188.4 59h1.9M194.1 59h1.9M114.5 61h3.1M3.5 62h1.7M15.4 62h1.7M25.5 62h1.9M36.4 62h2.7M39.1 62h2.5M129.5 62h2.7M132.2 62h3M135.2 62h2.9M138.1 62h2.8M167.5 62h1.9M192.2 62h1.9M194.1 62h1.9"/>
<path stroke="#270692" d="M52.4 25h2.5M63.3 39h2.8M105.2 58h3M5.2 63h1.7M25.5 63h1.9M41.6 63h2.2M43.8 63h2.1M126.6 63h2.9M151.6 63h2.5M163.8 63h1.8M169.4 63h1.9M171.3 63h1.9M177 63h1.9M180.8 63h1.9M194.1 63h1.9"/>
<path stroke="#7604a7" d="M132.2 25h3M143.5 26h2.8M41.6 28h2.2M13.7 30h1.7M25.5 30h1.9M27.4 30h2.2M129.5 30h2.7M135.2 30h2.9M146.3 30h2.7M171.3 30h1.9M182.7 30h1.9M48.1 31h2.1M17.1 32h1.2M27.4 32h2.2M146.3 32h2.7M182.7 32h1.9M0 34h1.9M39.1 34h2.5M138.1 34h2.8M57.7 35h2.9M41.6 54h2.2M111.4 54h3.1M149 54h2.6M169.4 54h1.9M10.3 56h1.7M36.4 56h2.7M41.6 56h2.2M140.9 56h2.6M177 56h1.9M180.8 56h1.9M182.7 56h1.9M190.3 56h1.9M0 60h1.9M190.3 60h1.9M184.6 61h1.9"/>
<path stroke="#2b0693" d="M135.2 25h2.9"/>
<path stroke="#210690" d="M151.6 25h2.5"/>
<path stroke="#3f049c" d="M3.5 26h1.7M19.5 26h1.9M126.6 26h2.9M173.2 26h1.9M186.5 26h1.9M192.2 26h1.9M194.1 26h1.9M108.2 29h3.2"/>
<path stroke="#4e03a0" d="M8.6 26h1.7M29.6 26h2.2M154.1 26h2.5M159.4 26h2.4M169.4 26h1.9M180.8 26h1.9M190.3 26h1.9M48.1 27h2.1M114.5 27h3.1M45.9 55h2.2M50.2 59h2.2M10.3 60h1.7M27.4 60h2.2M43.8 60h2.1M132.2 60h3M143.5 60h2.8M163.8 60h1.8M169.4 60h1.9M171.3 60h1.9M178.9 60h1.9M182.7 60h1.9"/>
<path stroke="#47039f" d="M13.7 26h1.7M27.4 26h2.2M140.9 26h2.6M161.8 26h2M163.8 26h1.8M175.1 26h1.9M182.7 26h1.9M184.6 26h1.9M15.4 58h1.7M23.6 58h1.9M5.2 60h1.7M8.6 60h1.7M15.4 60h1.7M18.3 60h1.2M21.4 60h2.2M33.9 60h2.5M123.6 60h3M129.5 60h2.7"/>
<path stroke="#47039e" d="M33.9 26h2.5M36.4 26h2.7"/>
<path stroke="#3e049c" d="M45.9 26h2.2M48.1 60h2.1M3.5 61h1.7M10.3 61h1.7M132.2 61h3M149 61h2.6M165.6 61h1.9M171.3 61h1.9M175.1 61h1.9"/>
<path stroke="#290693" d="M111.4 26h3.1M57.7 56h2.9M5.2 62h1.7M29.6 62h2.2"/>
<path stroke="#350598" d="M117.6 26h3M102.3 52h2.9M190.3 61h1.9"/>
<path stroke="#6f02a7" d="M138.1 26h2.8M43.8 30h2.1M54.9 34h2.8M3.5 60h1.7M186.5 60h1.9M192.2 60h1.9"/>
<path stroke="#370599" d="M171.3 26h1.9M60.6 38h2.7"/>
<path stroke="#42049d" d="M0 27h1.9M17.1 27h1.2M29.6 27h2.2M41.6 27h2.2M120.6 27h3M154.1 27h2.5M161.8 27h2M180.8 27h1.9M60.6 46h2.7M108.2 56h3.2M117.6 59h3"/>
<path stroke="#49039f" d="M3.5 27h1.7M6.9 27h1.7M12 27h1.7M149 27h2.6M177 27h1.9M10.3 29h1.7M143.5 29h2.8M114.5 30h3.1M57.7 49h2.9M114.5 56h3.1M18.3 57h1.2M41.6 57h2.2"/>
<path stroke="#5d01a4" d="M5.2 27h1.7M13.7 27h1.7M151.6 27h2.5M178.9 27h1.9M182.7 27h1.9M188.4 27h1.9M114.5 28h3.1M57.7 48h2.9"/>
<path stroke="#5602a3" d="M8.6 27h1.7M10.3 27h1.7M15.4 27h1.7M39.1 27h2.5M135.2 27h2.9M143.5 27h2.8M156.6 27h2.8M159.4 27h2.4M163.8 27h1.8M175.1 27h1.9M194.1 27h1.9M50.2 28h2.2M60.6 41h2.7M108.2 53h3.2M12 57h1.7M167.5 57h1.9M188.4 57h1.9M50.2 58h2.2M39.1 59h2.5M5.2 70h1.7M138.1 72h2.8"/>
<path stroke="#5003a1" d="M19.5 27h1.9M21.4 27h2.2M23.6 27h1.9M27.4 27h2.2M31.8 27h2.1M140.9 27h2.6M146.3 27h2.7M190.3 27h1.9M54.9 31h2.8M60.6 42h2.7M57.7 52h2.9M6.9 57h1.7M151.6 57h2.5M177 57h1.9M114.5 58h3.1M15.4 59h1.7M18.3 59h1.2M31.8 59h2.1M36.4 59h2.7M126.6 59h2.9M129.5 59h2.7M140.9 59h2.6M146.3 59h2.7M149 59h2.6M171.3 59h1.9M177 59h1.9"/>
<path stroke="#7002a7" d="M33.9 27h2.5M169.4 27h1.9M36.4 28h2.7M52.4 29h2.5M1.9 30h1.6M5.2 30h1.7M6.9 30h1.7M184.6 30h1.9M186.5 30h1.9M188.4 30h1.9M194.1 30h1.9M10.3 32h1.7M19.5 32h1.9M33.9 32h2.5M163.8 32h1.8M165.6 32h1.9M169.4 32h1.9M60.6 35h2.7M105.2 38h3M108.2 52h3.2M120.6 52h3M105.2 53h3M126.6 54h2.9M39.1 56h2.5M52.4 57h2.5M45.9 58h2.2M48.1 58h2.1M3.5 59h1.7M6.9 59h1.7M21.4 59h2.2M132.2 59h3M182.7 59h1.9M17.1 61h1.2M182.7 61h1.9"/>
<path stroke="#48039f" d="M43.8 27h2.1"/>
<path stroke="#46039e" d="M50.2 27h2.2M192.2 56h1.9M123.6 58h3"/>
<path stroke="#4f03a1" d="M123.6 27h3M126.6 27h2.9M129.5 27h2.7M13.7 29h1.7M60.6 39h2.7M60.6 40h2.7M43.8 59h2.1"/>
<path stroke="#870aa5" d="M171.3 27h1.9M178.9 28h1.9M192.2 28h1.9M0 32h1.9M167.5 32h1.9M190.3 32h1.9M140.9 34h2.6M146.3 34h2.7M6.9 36h1.7M161.8 36h2M180.8 36h1.9M33.9 38h2.5M177 38h1.9M57.7 45h2.9M190.3 48h1.9M8.6 54h1.7M23.6 54h1.9M140.9 54h2.6M143.5 54h2.8M156.6 54h2.8M175.1 54h1.9M194.1 54h1.9M0 56h1.9M31.8 56h2.1M18.3 58h1.2M117.6 58h3"/>
<path stroke="#5f01a5" d="M0 28h1.9M1.9 28h1.6M10.3 28h1.7M13.7 28h1.7M17.1 28h1.2M18.3 28h1.2M21.4 28h2.2M23.6 28h1.9M129.5 28h2.7M143.5 28h2.8M54.9 32h2.8M0 54h1.9M5.2 54h1.7M15.4 54h1.7M163.8 54h1.8M48.1 55h2.1M6.9 56h1.7M111.4 56h3.1M161.8 56h2M167.5 56h1.9M178.9 56h1.9M29.6 58h2.2M135.2 58h2.9M146.3 58h2.7M167.5 58h1.9"/>
<path stroke="#46049e" d="M3.5 28h1.7M12 28h1.7M15.4 28h1.7M132.2 28h3M182.7 28h1.9M105.2 52h3"/>
<path stroke="#5202a2" d="M5.2 28h1.7M6.9 28h1.7M27.4 28h2.2M31.8 28h2.1M135.2 28h2.9M149 28h2.6M151.6 28h2.5M165.6 28h1.9M169.4 28h1.9M114.5 29h3.1M138.1 30h2.8M3.5 32h1.7M108.2 34h3.2M8.6 56h1.7M173.2 56h1.9M120.6 58h3"/>
<path stroke="#6b00a8" d="M8.6 28h1.7M19.5 28h1.9M138.1 28h2.8M159.4 28h2.4M161.8 28h2M177 28h1.9M8.6 30h1.7M12 30h1.7M18.3 30h1.2M154.1 30h2.5M165.6 30h1.9M173.2 30h1.9M180.8 30h1.9M6.9 32h1.7M132.2 32h3M8.6 34h1.7M52.4 35h2.5M102.3 40h2.9M57.7 46h2.9M105.2 48h3M108.2 49h3.2M48.1 53h2.1M21.4 54h2.2M132.2 54h3M114.5 55h3.1M5.2 56h1.7M13.7 56h1.7M15.4 56h1.7M21.4 56h2.2M156.6 56h2.8M194.1 56h1.9M39.1 58h2.5M43.8 58h2.1M126.6 58h2.9"/>
<path stroke="#40049c" d="M25.5 28h1.9M102.3 46h2.9"/>
<path stroke="#6500a7" d="M29.6 28h2.2M19.5 56h1.9M146.3 56h2.7"/>
<path stroke="#5902a3" d="M33.9 28h2.5M156.6 28h2.8M163.8 28h1.8M167.5 28h1.9M186.5 28h1.9M190.3 28h1.9M194.1 28h1.9M48.1 29h2.1M57.7 41h2.9M102.3 41h2.9M102.3 45h2.9M163.8 56h1.8M169.4 56h1.9M31.8 58h2.1M129.5 58h2.7M138.1 58h2.8"/>
<path stroke="#6401a6" d="M43.8 28h2.1M10.3 30h1.7M41.6 30h2.2M159.4 30h2.4M169.4 30h1.9M177 30h1.9M102.3 38h2.9M50.2 55h2.2M1.9 59h1.6M13.7 59h1.7M154.1 59h2.5M180.8 59h1.9M192.2 59h1.9M163.8 65h1.8"/>
<path stroke="#5802a3" d="M123.6 28h3M3.5 30h1.7M52.4 30h2.5M123.6 30h3M143.5 30h2.8M175.1 30h1.9M105.2 34h3"/>
<path stroke="#7c06a6" d="M126.6 28h2.9M140.9 28h2.6M154.1 28h2.5M188.4 28h1.9M45.9 33h2.2M3.5 34h1.7M151.6 34h2.5M175.1 34h1.9M177 34h1.9M180.8 34h1.9M192.2 36h1.9M114.5 38h3.1M57.7 42h2.9M57.7 44h2.9M52.4 51h2.5M57.7 51h2.9M146.3 52h2.7M33.9 54h2.5M146.3 54h2.7M159.4 54h2.4M12 56h1.7M18.3 56h1.2M25.5 56h1.9M132.2 56h3M138.1 56h2.8M175.1 56h1.9M186.5 56h1.9M188.4 56h1.9M17.1 58h1.2M186.5 58h1.9M159.4 60h2.4"/>
<path stroke="#8108a5" d="M184.6 28h1.9M18.3 34h1.2M194.1 34h1.9M6.9 54h1.7M178.9 54h1.9M1.9 56h1.6M129.5 56h2.7M135.2 56h2.9M149 56h2.6M151.6 56h2.5M159.4 56h2.4"/>
<path stroke="#890ba5" d="M0 29h1.9M6.9 31h1.7M8.6 31h1.7M143.5 31h2.8M163.8 31h1.8M123.6 33h3M41.6 35h2.2M43.8 35h2.1M54.9 39h2.8M123.6 47h3M111.4 53h3.1"/>
<path stroke="#7303a7" d="M1.9 29h1.6M12 29h1.7M129.5 29h2.7M132.2 29h3M154.1 29h2.5M156.6 29h2.8M165.6 29h1.9M178.9 29h1.9M190.3 29h1.9M27.4 31h2.2M154.1 31h2.5M159.4 31h2.4M165.6 31h1.9M129.5 33h2.7M167.5 33h1.9M190.3 33h1.9M48.1 54h2.1M1.9 55h1.6M36.4 55h2.7M123.6 55h3M129.5 55h2.7M140.9 55h2.6M151.6 55h2.5M165.6 55h1.9M188.4 55h1.9M36.4 57h2.7"/>
<path stroke="#6800a7" d="M3.5 29h1.7M6.9 29h1.7M8.6 29h1.7M15.4 29h1.7M23.6 29h1.9M25.5 29h1.9M29.6 29h2.2M33.9 29h2.5M169.4 29h1.9M48.1 30h2.1M10.3 33h1.7M126.6 33h2.9M194.1 33h1.9M54.9 53h2.8M12 55h1.7M126.6 55h2.9M161.8 55h2M126.6 57h2.9"/>
<path stroke="#6101a6" d="M5.2 29h1.7M27.4 29h2.2M146.3 29h2.7M167.5 29h1.9M173.2 29h1.9M182.7 29h1.9M1.9 31h1.6M13.7 31h1.7M18.3 31h1.2M29.6 31h2.2M31.8 31h2.1M111.4 31h3.1M48.1 32h2.1M120.6 57h3"/>
<path stroke="#7e07a6" d="M17.1 29h1.2M135.2 29h2.9M140.9 29h2.6M184.6 29h1.9M10.3 31h1.7M21.4 31h2.2M23.6 31h1.9M36.4 31h2.7M52.4 31h2.5M126.6 31h2.9M171.3 31h1.9M180.8 31h1.9M182.7 31h1.9M12 33h1.7M33.9 33h2.5M135.2 33h2.9M163.8 33h1.8M52.4 36h2.5M108.2 39h3.2M50.2 40h2.2M105.2 43h3M52.4 50h2.5M43.8 55h2.1"/>
<path stroke="#5502a2" d="M18.3 29h1.2M123.6 29h3M138.1 29h2.8M149 29h2.6M161.8 29h2M163.8 29h1.8M186.5 29h1.9M173.2 31h1.9M54.9 33h2.8M57.7 33h2.9M54.9 56h2.8M39.1 57h2.5M41.6 60h2.2M126.6 60h2.9M135.2 60h2.9M165.6 60h1.9M167.5 60h1.9M173.2 68h1.9M175.1 69h1.9"/>
<path stroke="#7905a6" d="M19.5 29h1.9M159.4 29h2.4M177 29h1.9M5.2 33h1.7M27.4 33h2.2M36.4 33h2.7M140.9 33h2.6M156.6 33h2.8M165.6 33h1.9M173.2 33h1.9M12 35h1.7M146.3 35h2.7M159.4 35h2.4M54.9 36h2.8M105.2 36h3M105.2 50h3M17.1 53h1.2M138.1 53h2.8M192.2 53h1.9M0 55h1.9M39.1 55h2.5M143.5 55h2.8M146.3 55h2.7M169.4 55h1.9M184.6 55h1.9M190.3 55h1.9M5.2 57h1.7M17.1 57h1.2M19.5 57h1.9M132.2 57h3M138.1 57h2.8M178.9 57h1.9M180.8 57h1.9M186.5 57h1.9"/>
<path stroke="#8f0da4" d="M31.8 29h2.1M19.5 31h1.9M135.2 31h2.9M151.6 31h2.5M156.6 31h2.8M169.4 31h1.9M175.1 31h1.9M186.5 31h1.9M192.2 31h1.9M0 33h1.9M23.6 33h1.9M138.1 33h2.8M154.1 33h2.5M159.4 33h2.4M171.3 33h1.9M48.1 34h2.1M111.4 36h3.1M39.1 37h2.5M105.2 42h3M54.9 50h2.8M3.5 55h1.7M15.4 55h1.7M138.1 55h2.8M167.5 55h1.9"/>
<path stroke="#7805a6" d="M36.4 29h2.7M126.6 29h2.9M17.1 31h1.2M123.6 31h3M132.2 31h3M140.9 31h2.6M167.5 31h1.9M188.4 31h1.9M105.2 41h3M114.5 52h3.1M43.8 53h2.1"/>
<path stroke="#9411a1" d="M39.1 29h2.5M33.9 31h2.5M138.1 31h2.8M146.3 31h2.7M29.6 33h2.2M132.2 33h3M180.8 33h1.9M194.1 39h1.9M52.4 47h2.5M50.2 49h2.2M120.6 51h3M114.5 54h3.1M41.6 55h2.2M50.2 56h2.2"/>
<path stroke="#6700a7" d="M41.6 29h2.2M5.2 31h1.7M161.8 31h2M43.8 57h2.1"/>
<path stroke="#4e03a1" d="M43.8 29h2.1M120.6 29h3M111.4 58h3.1M48.1 59h2.1"/>
<path stroke="#1a078c" d="M60.6 29h2.7M99.1 32h3.2M25.5 66h1.9M33.9 66h2.5M151.6 66h2.5M180.8 66h1.9M190.3 66h1.9"/>
<path stroke="#330597" d="M111.4 29h3.1M60.6 51h2.7"/>
<path stroke="#6600a7" d="M117.6 29h3M117.6 31h3M102.3 43h2.9M5.2 58h1.7M19.5 58h1.9M143.5 58h2.8M159.4 58h2.4M163.8 58h1.8M182.7 58h1.9M192.2 58h1.9"/>
<path stroke="#6d01a8" d="M151.6 29h2.5M171.3 29h1.9M180.8 29h1.9M188.4 29h1.9M192.2 29h1.9M0 31h1.9M3.5 31h1.7M15.4 31h1.7M25.5 31h1.9M39.1 31h2.5M129.5 31h2.7M149 31h2.6M194.1 31h1.9M57.7 37h2.9M105.2 45h3M52.4 55h2.5"/>
<path stroke="#8409a5" d="M194.1 29h1.9M12 31h1.7M177 31h1.9M178.9 31h1.9M184.6 31h1.9M190.3 31h1.9M31.8 33h2.1M161.8 33h2M149 35h2.6M188.4 35h1.9M190.3 35h1.9M52.4 39h2.5M43.8 51h2.1M18.3 53h1.2M27.4 53h2.2M126.6 53h2.9M151.6 53h2.5M167.5 53h1.9M169.4 53h1.9M178.9 53h1.9M5.2 55h1.7M8.6 55h1.7M27.4 55h2.2M149 55h2.6M180.8 55h1.9M186.5 55h1.9M163.8 57h1.8"/>
<path stroke="#7b06a6" d="M0 30h1.9M31.8 30h2.1M36.4 30h2.7M140.9 30h2.6M156.6 30h2.8M190.3 30h1.9M13.7 32h1.7M15.4 32h1.7M29.6 32h2.2M138.1 32h2.8M143.5 32h2.8M149 32h2.6M173.2 32h1.9M177 32h1.9M184.6 32h1.9M192.2 32h1.9M105.2 33h3M114.5 33h3.1M102.3 37h2.9M57.7 40h2.9M43.8 54h2.1M43.8 56h2.1M120.6 56h3M123.6 56h3M23.6 59h1.9M156.6 59h2.8"/>
<path stroke="#8c0ca4" d="M17.1 30h1.2M167.5 30h1.9M5.2 32h1.7M21.4 32h2.2M31.8 32h2.1M171.3 32h1.9M178.9 32h1.9M194.1 32h1.9M108.2 45h3.2M36.4 54h2.7M123.6 54h3M171.3 56h1.9"/>
<path stroke="#8108a6" d="M19.5 30h1.9M21.4 30h2.2M33.9 30h2.5M132.2 30h3M12 32h1.7M126.6 32h2.9M135.2 32h2.9M140.9 32h2.6M151.6 32h2.5M154.1 32h2.5M188.4 32h1.9M43.8 52h2.1"/>
<path stroke="#860aa5" d="M29.6 30h2.2M39.1 30h2.5M149 30h2.6M54.9 37h2.8M57.7 47h2.9M111.4 52h3.1M120.6 54h3"/>
<path stroke="#9512a0" d="M45.9 30h2.2M45.9 32h2.2M178.9 49h1.9M10.3 51h1.7M146.3 51h2.7M165.6 51h1.9M173.2 51h1.9M190.3 51h1.9"/>
<path stroke="#7d07a6" d="M50.2 30h2.2M111.4 33h3.1M108.2 35h3.2M57.7 36h2.9M108.2 51h3.2"/>
<path stroke="#41049d" d="M54.9 30h2.8"/>
<path stroke="#280693" d="M57.7 30h2.9"/>
<path stroke="#910fa3" d="M126.6 30h2.9M161.8 30h2M178.9 30h1.9M161.8 32h2M180.8 32h1.9M186.5 32h1.9M108.2 41h3.2"/>
<path stroke="#a62097" d="M163.8 30h1.8"/>
<path stroke="#8309a5" d="M41.6 31h2.2M108.2 38h3.2M108.2 54h3.2"/>
<path stroke="#8e0da4" d="M43.8 31h2.1M105.2 46h3M120.6 55h3"/>
<path stroke="#7705a7" d="M45.9 31h2.2M10.3 52h1.7M23.6 52h1.9M143.5 52h2.8M171.3 52h1.9"/>
<path stroke="#850aa5" d="M50.2 31h2.2M120.6 38h3M167.5 40h1.9"/>
<path stroke="#6001a5" d="M120.6 31h3M52.4 33h2.5M105.2 35h3M105.2 51h3M48.1 57h2.1"/>
<path stroke="#9713a0" d="M1.9 32h1.6M8.6 32h1.7"/>
<path stroke="#9c189d" d="M18.3 32h1.2M23.6 32h1.9M25.5 32h1.9M175.1 32h1.9M108.2 37h3.2M43.8 50h2.1"/>
<path stroke="#9613a0" d="M36.4 32h2.7M156.6 40h2.8M52.4 49h2.5"/>
<path stroke="#7504a7" d="M39.1 32h2.5M114.5 53h3.1M52.4 54h2.5"/>
<path stroke="#9b179d" d="M41.6 32h2.2M43.8 36h2.1M57.7 39h2.9M186.5 40h1.9M52.4 41h2.5M54.9 43h2.8M184.6 46h1.9M50.2 48h2.2"/>
<path stroke="#360598" d="M57.7 32h2.9M102.3 35h2.9"/>
<path stroke="#6101a5" d="M114.5 32h3.1"/>
<path stroke="#7403a7" d="M117.6 32h3M129.5 53h2.7M0 57h1.9M23.6 57h1.9M140.9 57h2.6M159.4 57h2.4M161.8 57h2M173.2 57h1.9M194.1 57h1.9"/>
<path stroke="#7a06a6" d="M120.6 32h3M105.2 37h3M188.4 51h1.9M45.9 54h2.2"/>
<path stroke="#8008a6" d="M123.6 32h3M52.4 37h2.5M117.6 52h3"/>
<path stroke="#ab2594" d="M156.6 32h2.8M159.4 32h2.4M111.4 37h3.1M41.6 38h2.2M123.6 42h3M117.6 47h3"/>
<path stroke="#a41f98" d="M1.9 33h1.6M8.6 33h1.7M175.1 33h1.9M27.4 35h2.2M140.9 35h2.6M154.1 35h2.5M169.4 35h1.9M180.8 35h1.9M126.6 37h2.9M138.1 37h2.8M169.4 37h1.9M111.4 39h3.1M50.2 41h2.2M163.8 47h1.8M111.4 50h3.1M132.2 53h3M149 53h2.6M180.8 53h1.9M190.3 53h1.9"/>
<path stroke="#9e1a9b" d="M3.5 33h1.7M143.5 33h2.8M146.3 33h2.7M149 33h2.6M186.5 33h1.9M188.4 33h1.9M192.2 33h1.9M123.6 35h3M50.2 37h2.2M175.1 39h1.9M15.4 47h1.7M188.4 47h1.9"/>
<path stroke="#6e01a8" d="M6.9 33h1.7M17.1 33h1.2M108.2 33h3.2M177 33h1.9M178.9 33h1.9M33.9 37h2.5M54.9 40h2.8M10.3 53h1.7M39.1 53h2.5M13.7 55h1.7M18.3 55h1.2M111.4 55h3.1M13.7 57h1.7M21.4 57h2.2M29.6 57h2.2M123.6 57h3M129.5 57h2.7M135.2 57h2.9M143.5 57h2.8M154.1 57h2.5M190.3 57h1.9M192.2 57h1.9"/>
<path stroke="#a92395" d="M13.7 33h1.7M25.5 35h1.9M39.1 35h2.5M165.6 35h1.9M184.6 35h1.9M192.2 35h1.9M0 37h1.9M156.6 37h2.8M167.5 37h1.9M188.4 37h1.9M117.6 42h3M6.9 47h1.7M140.9 47h2.6M151.6 47h2.5M48.1 50h2.1M29.6 53h2.2M143.5 53h2.8M182.7 53h1.9"/>
<path stroke="#99169e" d="M15.4 33h1.7M18.3 33h1.2M25.5 33h1.9M151.6 33h2.5M182.7 33h1.9M184.6 33h1.9M8.6 39h1.7M25.5 47h1.9M41.6 53h2.2"/>
<path stroke="#ae2792" d="M19.5 33h1.9M36.4 35h2.7M5.2 39h1.7M19.5 39h1.9M21.4 39h2.2M167.5 39h1.9M8.6 47h1.7M29.6 47h2.2M138.1 47h2.8M159.4 47h2.4M169.4 47h1.9M177 47h1.9"/>
<path stroke="#b7308b" d="M21.4 33h2.2M5.2 35h1.7M117.6 38h3M117.6 43h3M3.5 47h1.7M184.6 47h1.9M190.3 47h1.9M192.2 47h1.9"/>
<path stroke="#a82395" d="M39.1 33h2.5M25.5 39h1.9M180.8 39h1.9"/>
<path stroke="#99159e" d="M41.6 33h2.2"/>
<path stroke="#a82296" d="M43.8 33h2.1"/>
<path stroke="#a11c9a" d="M48.1 33h2.1M123.6 34h3M48.1 35h2.1M114.5 45h3.1"/>
<path stroke="#9210a2" d="M117.6 33h3M50.2 34h2.2M111.4 35h3.1M31.8 36h2.1M169.4 36h1.9M175.1 36h1.9M117.6 49h3M27.4 52h2.2M33.9 52h2.5M154.1 52h2.5M169.4 52h1.9M178.9 52h1.9M184.6 52h1.9M194.1 52h1.9M17.1 54h1.2M18.3 54h1.2M188.4 54h1.9"/>
<path stroke="#880ba5" d="M120.6 33h3M105.2 40h3"/>
<path stroke="#8a0ba5" d="M169.4 33h1.9M15.4 35h1.7M18.3 35h1.2M23.6 35h1.9M126.6 35h2.9M178.9 35h1.9M108.2 47h3.2M41.6 51h2.2M126.6 51h2.9M129.5 51h2.7M12 53h1.7M135.2 53h2.9M154.1 53h2.5M184.6 53h1.9M10.3 55h1.7M21.4 55h2.2M25.5 55h1.9M31.8 55h2.1M33.9 55h2.5M132.2 55h3M177 55h1.9M178.9 55h1.9M8.6 57h1.7"/>
<path stroke="#a11d99" d="M1.9 34h1.6M10.3 34h1.7M27.4 38h2.2M135.2 38h2.9M151.6 38h2.5M163.8 38h1.8M175.1 38h1.9M151.6 45h2.5M3.5 54h1.7M154.1 54h2.5M171.3 54h1.9"/>
<path stroke="#97149f" d="M5.2 34h1.7M132.2 34h3M154.1 34h2.5M159.4 34h2.4M171.3 34h1.9M188.4 34h1.9M23.6 36h1.9M143.5 36h2.8M117.6 37h3M149 38h2.6M43.8 39h2.1M186.5 41h1.9M3.5 48h1.7M126.6 50h2.9M1.9 52h1.6M123.6 52h3M126.6 52h2.9M175.1 52h1.9M27.4 54h2.2M165.6 54h1.9M190.3 54h1.9M27.4 56h2.2"/>
<path stroke="#8d0ca4" d="M6.9 34h1.7M15.4 34h1.7M23.6 34h1.9M143.5 34h2.8M163.8 34h1.8M192.2 34h1.9M135.2 36h2.9M178.9 36h1.9M132.2 38h3M105.2 39h3M57.7 43h2.9M111.4 44h3.1M111.4 45h3.1M21.4 48h2.2M54.9 48h2.8M39.1 50h2.5M177 50h1.9M194.1 50h1.9M156.6 52h2.8M177 52h1.9M192.2 52h1.9M10.3 54h1.7M13.7 54h1.7M29.6 54h2.2M167.5 54h1.9M173.2 54h1.9M177 54h1.9M117.6 55h3"/>
<path stroke="#920fa2" d="M12 34h1.7M19.5 34h1.9M33.9 34h2.5M126.6 34h2.9M129.5 34h2.7M156.6 34h2.8M173.2 34h1.9M182.7 34h1.9M50.2 36h2.2M52.4 43h2.5M114.5 44h3.1M123.6 50h3M41.6 52h2.2M25.5 54h1.9M138.1 54h2.8"/>
<path stroke="#bd3785" d="M13.7 34h1.7M135.2 34h2.9M167.5 36h1.9M173.2 36h1.9M1.9 38h1.6M3.5 38h1.7M178.9 38h1.9M180.8 38h1.9M117.6 40h3M111.4 41h3.1M13.7 42h1.7M17.1 42h1.2M151.6 42h2.5M163.8 42h1.8M165.6 42h1.9M167.5 42h1.9M190.3 42h1.9M10.3 44h1.7M12 44h1.7M135.2 44h2.9M146.3 44h2.7M173.2 44h1.9M184.6 44h1.9M13.7 45h1.7M19.5 45h1.9M178.9 45h1.9M43.8 47h2.1M120.6 47h3M1.9 48h1.6M159.4 48h2.4M171.3 48h1.9M175.1 48h1.9M188.4 48h1.9M18.3 50h1.2M146.3 50h2.7M173.2 50h1.9M192.2 50h1.9"/>
<path stroke="#ac2593" d="M17.1 34h1.2M165.6 34h1.9M36.4 36h2.7M146.3 38h2.7M165.6 38h1.9M182.7 38h1.9M188.4 38h1.9M114.5 43h3.1"/>
<path stroke="#9c189c" d="M21.4 34h2.2M149 34h2.6M167.5 34h1.9M184.6 34h1.9M186.5 34h1.9M138.1 38h2.8M192.2 38h1.9M3.5 41h1.7M48.1 41h2.1M29.6 48h2.2M48.1 51h2.1M36.4 52h2.7M39.1 52h2.5M1.9 54h1.6M12 54h1.7M19.5 54h1.9M129.5 54h2.7M151.6 54h2.5"/>
<path stroke="#ab2593" d="M25.5 34h1.9M33.9 41h2.5M159.4 41h2.4M175.1 41h1.9M192.2 41h1.9M39.1 44h2.5M180.8 45h1.9M111.4 49h3.1"/>
<path stroke="#7102a7" d="M27.4 34h2.2M29.6 36h2.2M161.8 54h2M180.8 54h1.9M3.5 56h1.7M17.1 56h1.2M23.6 56h1.9M29.6 56h2.2M33.9 56h2.5M143.5 56h2.8M154.1 56h2.5M165.6 56h1.9M184.6 56h1.9M114.5 57h3.1"/>
<path stroke="#b12a90" d="M29.6 34h2.2M45.9 35h2.2M15.4 36h1.7M17.1 36h1.2M138.1 36h2.8M146.3 36h2.7M140.9 38h2.6M154.1 38h2.5M1.9 42h1.6M18.3 42h1.2M19.5 42h1.9M129.5 42h2.7M173.2 42h1.9M6.9 43h1.7M126.6 43h2.9M171.3 43h1.9M190.3 43h1.9M36.4 44h2.7M8.6 45h1.7M23.6 45h1.9M25.5 45h1.9M146.3 45h2.7M171.3 45h1.9M13.7 48h1.7M114.5 48h3.1M184.6 48h1.9M154.1 50h2.5M156.6 50h2.8M178.9 50h1.9M117.6 51h3M129.5 52h2.7M188.4 52h1.9M135.2 54h2.9M182.7 54h1.9M192.2 54h1.9"/>
<path stroke="#b52e8d" d="M31.8 34h2.1M161.8 34h2M126.6 36h2.9M10.3 38h1.7M21.4 38h2.2M143.5 38h2.8M159.4 38h2.4M1.9 41h1.6M5.2 41h1.7M149 41h2.6M169.4 41h1.9M108.2 43h3.2M52.4 44h2.5M143.5 45h2.8M31.8 54h2.1"/>
<path stroke="#9b189d" d="M41.6 34h2.2M52.4 45h2.5M111.4 46h3.1M48.1 49h2.1"/>
<path stroke="#af2991" d="M43.8 34h2.1M120.6 34h3M41.6 45h2.2M6.9 46h1.7M8.6 46h1.7M13.7 46h1.7M188.4 46h1.9M43.8 48h2.1"/>
<path stroke="#7404a7" d="M45.9 34h2.2M111.4 34h3.1M57.7 38h2.9M50.2 53h2.2M117.6 54h3"/>
<path stroke="#8509a5" d="M52.4 34h2.5M1.9 37h1.6M31.8 37h2.1M25.5 49h1.9M27.4 51h2.2"/>
<path stroke="#ba3388" d="M114.5 34h3.1M48.1 38h2.1"/>
<path stroke="#6e02a8" d="M117.6 34h3M108.2 36h3.2"/>
<path stroke="#a62196" d="M169.4 34h1.9M178.9 34h1.9M123.6 36h3M25.5 38h1.9M25.5 41h1.9M138.1 41h2.8M108.2 42h3.2M18.3 45h1.2M184.6 54h1.9"/>
<path stroke="#c13b82" d="M190.3 34h1.9M12 36h1.7M140.9 36h2.6M171.3 36h1.9M5.2 38h1.7M15.4 38h1.7M23.6 38h1.9M36.4 38h2.7M120.6 39h3M36.4 41h2.7M190.3 41h1.9M39.1 42h2.5M21.4 45h2.2M33.9 45h2.5M149 45h2.6M165.6 45h1.9M175.1 45h1.9M186.5 45h1.9M5.2 48h1.7M31.8 48h2.1M33.9 48h2.5M132.2 48h3M154.1 48h2.5"/>
<path stroke="#900ea4" d="M0 35h1.9M163.8 35h1.8M13.7 37h1.7M15.4 37h1.7M13.7 53h1.7M15.4 53h1.7M156.6 53h2.8M188.4 53h1.9M194.1 53h1.9"/>
<path stroke="#9512a1" d="M1.9 35h1.6M6.9 35h1.7M13.7 35h1.7M31.8 35h2.1M143.5 35h2.8M167.5 35h1.9M175.1 35h1.9M10.3 37h1.7M25.5 37h1.9M165.6 37h1.9M41.6 40h2.2M1.9 53h1.6M6.9 53h1.7M23.6 53h1.9M33.9 53h2.5M140.9 53h2.6M165.6 53h1.9M171.3 53h1.9M173.2 53h1.9M186.5 53h1.9"/>
<path stroke="#9f1b9b" d="M3.5 35h1.7M10.3 35h1.7M17.1 35h1.2M19.5 35h1.9M138.1 35h2.8M173.2 35h1.9M186.5 35h1.9M151.6 37h2.5M194.1 37h1.9M129.5 49h2.7M36.4 51h2.7M146.3 53h2.7M175.1 53h1.9"/>
<path stroke="#cb4679" d="M8.6 35h1.7M161.8 35h2M3.5 37h1.7M1.9 39h1.6M6.9 39h1.7M154.1 39h2.5M165.6 39h1.9M173.2 39h1.9M45.9 45h2.2M0 47h1.9M13.7 47h1.7M149 47h2.6M154.1 47h2.5M167.5 47h1.9M123.6 49h3"/>
<path stroke="#9a169e" d="M21.4 35h2.2M33.9 35h2.5M50.2 35h2.2M135.2 35h2.9M156.6 35h2.8M117.6 36h3M36.4 37h2.7M132.2 37h3M140.9 37h2.6M175.1 37h1.9M192.2 37h1.9M126.6 49h2.9M50.2 51h2.2M3.5 53h1.7M25.5 53h1.9M159.4 53h2.4"/>
<path stroke="#900da4" d="M29.6 35h2.2M39.1 51h2.5"/>
<path stroke="#7704a7" d="M54.9 35h2.8M33.9 58h2.5"/>
<path stroke="#1c078d" d="M99.1 35h3.2M15.4 64h1.7M184.6 64h1.9M186.5 64h1.9"/>
<path stroke="#aa2494" d="M114.5 35h3.1M169.4 40h1.9M190.3 40h1.9M126.6 46h2.9M177 46h1.9M175.1 49h1.9M5.2 51h1.7M149 51h2.6M151.6 51h2.5M175.1 51h1.9M194.1 51h1.9"/>
<path stroke="#ac2693" d="M117.6 35h3M13.7 36h1.7M19.5 36h1.9M27.4 36h2.2M132.2 36h3M0 43h1.9M3.5 43h1.7M27.4 43h2.2M36.4 43h2.7M111.4 43h3.1M167.5 43h1.9M182.7 43h1.9M23.6 48h1.9M151.6 48h2.5M5.2 50h1.7M25.5 50h1.9M36.4 50h2.7M132.2 50h3M135.2 50h2.9M111.4 51h3.1M6.9 52h1.7M8.6 52h1.7M135.2 52h2.9M161.8 52h2"/>
<path stroke="#ad2792" d="M120.6 35h3M36.4 39h2.7"/>
<path stroke="#c7427c" d="M129.5 35h2.7M182.7 35h1.9M129.5 37h2.7M173.2 37h1.9M39.1 40h2.5M41.6 46h2.2M36.4 49h2.7"/>
<path stroke="#bb3587" d="M132.2 35h3M29.6 37h2.2M149 37h2.6M159.4 37h2.4M163.8 37h1.8M178.9 37h1.9M114.5 40h3.1M43.8 41h2.1M27.4 49h2.2M194.1 49h1.9M171.3 51h1.9"/>
<path stroke="#ae2892" d="M151.6 35h2.5M194.1 35h1.9M6.9 37h1.7M21.4 37h2.2M23.6 37h1.9M146.3 37h2.7M180.8 37h1.9M163.8 53h1.8"/>
<path stroke="#d8586b" d="M171.3 35h1.9M184.6 37h1.9"/>
<path stroke="#bf3983" d="M177 35h1.9M154.1 37h2.5M182.7 37h1.9M126.6 40h2.9M45.9 48h2.2M132.2 51h3"/>
<path stroke="#a72196" d="M0 36h1.9M5.2 36h1.7M25.5 36h1.9M159.4 36h2.4M184.6 36h1.9M45.9 37h2.2M50.2 39h2.2M129.5 43h2.7M161.8 44h2M27.4 48h2.2M163.8 48h1.8M180.8 48h1.9M5.2 52h1.7M29.6 52h2.2M31.8 52h2.1M159.4 52h2.4"/>
<path stroke="#b93389" d="M1.9 36h1.6M8.6 42h1.7M27.4 42h2.2M31.8 42h2.1M3.5 44h1.7M8.6 44h1.7M149 44h2.6M156.6 44h2.8M178.9 44h1.9M50.2 47h2.2M12 48h1.7M135.2 48h2.9M143.5 48h2.8M169.4 48h1.9M8.6 50h1.7M50.2 50h2.2M25.5 52h1.9"/>
<path stroke="#b52e8c" d="M3.5 36h1.7M156.6 36h2.8M163.8 36h1.8M177 36h1.9M182.7 36h1.9M188.4 36h1.9M33.9 42h2.5M138.1 48h2.8M140.9 48h2.6M165.6 48h1.9M167.5 48h1.9M129.5 50h2.7M138.1 52h2.8M140.9 52h2.6M151.6 52h2.5"/>
<path stroke="#a21d99" d="M8.6 36h1.7M21.4 36h2.2M154.1 36h2.5M0 44h1.9M27.4 44h2.2M6.9 48h1.7M18.3 48h1.2M177 48h1.9M182.7 48h1.9M23.6 50h1.9M27.4 50h2.2M149 50h2.6M175.1 50h1.9M12 52h1.7M17.1 52h1.2M132.2 52h3M165.6 52h1.9M173.2 52h1.9M180.8 52h1.9M182.7 52h1.9M186.5 52h1.9"/>
<path stroke="#d7566d" d="M10.3 36h1.7M3.5 42h1.7M177 42h1.9M18.3 43h1.2M132.2 43h3M132.2 44h3M165.6 44h1.9M0 48h1.9M163.8 50h1.8M186.5 50h1.9"/>
<path stroke="#9d199c" d="M18.3 36h1.2M149 36h2.6M186.5 36h1.9M17.1 48h1.2M108.2 48h3.2M156.6 48h2.8M161.8 48h2M186.5 48h1.9M6.9 50h1.7M12 50h1.7M19.5 50h1.9M159.4 50h2.4M180.8 50h1.9M190.3 50h1.9M3.5 52h1.7M13.7 52h1.7M18.3 52h1.2M19.5 52h1.9M190.3 52h1.9"/>
<path stroke="#6b01a8" d="M33.9 36h2.5M36.4 58h2.7"/>
<path stroke="#b93289" d="M39.1 36h2.5M8.6 38h1.7M17.1 38h1.2M29.6 38h2.2M171.3 38h1.9M173.2 38h1.9M132.2 41h3M154.1 41h2.5M161.8 41h2M173.2 41h1.9M15.4 45h1.7M173.2 45h1.9M184.6 45h1.9M36.4 48h2.7M186.5 54h1.9"/>
<path stroke="#b83289" d="M41.6 36h2.2"/>
<path stroke="#9a179d" d="M45.9 36h2.2M108.2 40h3.2M54.9 41h2.8M114.5 46h3.1M12 51h1.7M19.5 51h1.9M25.5 51h1.9M182.7 51h1.9"/>
<path stroke="#b22b8f" d="M48.1 36h2.1M31.8 39h2.1M123.6 39h3M129.5 39h2.7M138.1 39h2.8M182.7 39h1.9M50.2 46h2.2M36.4 47h2.7M43.8 49h2.1"/>
<path stroke="#380599" d="M102.3 36h2.9M60.6 48h2.7M29.6 60h2.2M140.9 60h2.6M151.6 60h2.5M177 60h1.9M184.6 60h1.9"/>
<path stroke="#a72296" d="M114.5 36h3.1M1.9 50h1.6M3.5 50h1.7M15.4 50h1.7M182.7 50h1.9M188.4 50h1.9"/>
<path stroke="#a52097" d="M120.6 36h3M48.1 37h2.1M43.8 38h2.1M3.5 40h1.7M111.4 40h3.1M194.1 40h1.9M123.6 41h3M50.2 43h2.2M120.6 44h3M135.2 46h2.9M178.9 46h1.9"/>
<path stroke="#c5407e" d="M129.5 36h2.7M151.6 36h2.5M167.5 38h1.9M186.5 38h1.9M190.3 38h1.9M159.4 42h2.4M25.5 44h1.9M129.5 44h2.7M48.1 45h2.1M10.3 48h1.7M149 48h2.6"/>
<path stroke="#d04d74" d="M165.6 36h1.9M190.3 36h1.9M18.3 38h1.2M169.4 38h1.9M39.1 43h2.5M5.2 45h1.7M163.8 45h1.8M169.4 45h1.9M126.6 48h2.9"/>
<path stroke="#cd4977" d="M194.1 36h1.9M5.2 42h1.7M12 42h1.7M21.4 42h2.2M135.2 42h2.9M149 42h2.6M171.3 42h1.9M23.6 43h1.9M25.5 43h1.9M161.8 43h2M163.8 43h1.8M188.4 43h1.9M192.2 43h1.9M17.1 44h1.2M29.6 44h2.2M138.1 44h2.8M171.3 44h1.9M190.3 44h1.9M173.2 48h1.9M169.4 50h1.9"/>
<path stroke="#d24f72" d="M5.2 37h1.7M19.5 37h1.9M27.4 37h2.2M149 49h2.6M171.3 49h1.9"/>
<path stroke="#b32c8e" d="M8.6 37h1.7M17.1 37h1.2M18.3 37h1.2M177 37h1.9M48.1 39h2.1M45.9 42h2.2M123.6 46h3M48.1 47h2.1M117.6 48h3M39.1 49h2.5M143.5 49h2.8M156.6 49h2.8M169.4 49h1.9M182.7 49h1.9M13.7 51h1.7M31.8 51h2.1M186.5 51h1.9M31.8 53h2.1"/>
<path stroke="#b7318b" d="M12 37h1.7"/>
<path stroke="#ce4a76" d="M41.6 37h2.2M17.1 39h1.2M135.2 39h2.9M151.6 39h2.5M169.4 39h1.9M5.2 47h1.7M18.3 47h1.2M23.6 47h1.9M178.9 47h1.9M111.4 48h3.1"/>
<path stroke="#98159e" d="M43.8 37h2.1"/>
<path stroke="#a41f97" d="M114.5 37h3.1M120.6 45h3M31.8 49h2.1M18.3 51h1.2M33.9 51h2.5M135.2 51h2.9M154.1 51h2.5M156.6 51h2.8M178.9 51h1.9M184.6 51h1.9"/>
<path stroke="#ad2692" d="M120.6 37h3"/>
<path stroke="#de6065" d="M123.6 37h3M15.4 39h1.7M184.6 39h1.9"/>
<path stroke="#c33e80" d="M135.2 37h2.9M143.5 37h2.8M161.8 37h2M171.3 37h1.9M190.3 37h1.9M45.9 43h2.2M50.2 45h2.2M33.9 49h2.5"/>
<path stroke="#cf4b75" d="M186.5 37h1.9M12 40h1.7M135.2 40h2.9M173.2 40h1.9M45.9 44h2.2M29.6 46h2.2M33.9 46h2.5M19.5 49h1.9M167.5 49h1.9"/>
<path stroke="#cd4877" d="M0 38h1.9M184.6 38h1.9M143.5 41h2.8M178.9 41h1.9M188.4 41h1.9M126.6 44h2.9M129.5 48h2.7"/>
<path stroke="#d35170" d="M6.9 38h1.7M33.9 44h2.5M8.6 48h1.7M194.1 48h1.9"/>
<path stroke="#dd5e66" d="M12 38h1.7M19.5 48h1.9M178.9 48h1.9"/>
<path stroke="#c9447b" d="M13.7 38h1.7M156.6 38h2.8M161.8 38h2M194.1 38h1.9M126.6 42h2.9M123.6 44h3M10.3 45h1.7M12 45h1.7M140.9 45h2.6M182.7 45h1.9M192.2 45h1.9M194.1 45h1.9"/>
<path stroke="#d6556d" d="M19.5 38h1.9M17.1 41h1.2M135.2 41h2.9M177 41h1.9M0 45h1.9M6.9 45h1.7"/>
<path stroke="#c53f7e" d="M31.8 38h2.1M6.9 41h1.7M8.6 41h1.7M15.4 41h1.7M21.4 41h2.2M151.6 41h2.5M163.8 41h1.8M171.3 41h1.9M180.8 41h1.9M41.6 43h2.2M31.8 45h2.1M129.5 45h2.7M132.2 45h3M138.1 45h2.8M167.5 45h1.9"/>
<path stroke="#a62197" d="M39.1 38h2.5"/>
<path stroke="#c33d80" d="M45.9 38h2.2M12 39h1.7M13.7 39h1.7M18.3 39h1.2M23.6 39h1.9M159.4 39h2.4M190.3 39h1.9M43.8 40h2.1M123.6 40h3M120.6 46h3M132.2 47h3M156.6 47h2.8M182.7 47h1.9M41.6 49h2.2"/>
<path stroke="#910ea3" d="M50.2 38h2.2"/>
<path stroke="#98149f" d="M52.4 38h2.5M143.5 44h2.8M13.7 50h1.7M33.9 50h2.5M138.1 50h2.8"/>
<path stroke="#8208a5" d="M54.9 38h2.8M146.3 48h2.7M163.8 52h1.8M140.9 58h2.6"/>
<path stroke="#a31e98" d="M111.4 38h3.1M149 39h2.6M105.2 44h3M54.9 47h2.8M120.6 49h3"/>
<path stroke="#c43f7f" d="M123.6 38h3M126.6 41h2.9M120.6 43h3M43.8 44h2.1"/>
<path stroke="#b02990" d="M126.6 38h2.9M10.3 41h1.7M52.4 42h2.5M39.1 48h2.5"/>
<path stroke="#b02a90" d="M129.5 38h2.7"/>
<path stroke="#b6308b" d="M0 39h1.9M33.9 39h2.5M146.3 39h2.7M156.6 39h2.8M177 39h1.9M178.9 39h1.9M192.2 39h1.9"/>
<path stroke="#bf3984" d="M3.5 39h1.7M1.9 47h1.6M129.5 47h2.7M143.5 47h2.8M146.3 47h2.7M123.6 51h3"/>
<path stroke="#ba3488" d="M10.3 39h1.7M126.6 39h2.9M171.3 39h1.9M186.5 39h1.9M120.6 40h3M45.9 41h2.2M117.6 41h3M48.1 48h2.1"/>
<path stroke="#c7417d" d="M27.4 39h2.2M132.2 39h3M163.8 39h1.8M10.3 47h1.7M19.5 47h1.9M21.4 47h2.2M27.4 47h2.2M114.5 47h3.1M173.2 47h1.9M175.1 47h1.9M194.1 47h1.9M123.6 53h3"/>
<path stroke="#d4536f" d="M29.6 39h2.2M188.4 39h1.9"/>
<path stroke="#be3884" d="M39.1 39h2.5M117.6 45h3"/>
<path stroke="#ce4976" d="M41.6 39h2.2M45.9 46h2.2"/>
<path stroke="#bc3686" d="M45.9 39h2.2M117.6 39h3M10.3 40h1.7M182.7 40h1.9M43.8 43h2.1M10.3 46h1.7M27.4 46h2.2M154.1 46h2.5M190.3 46h1.9M120.6 48h3"/>
<path stroke="#cb4579" d="M114.5 39h3.1"/>
<path stroke="#db5b68" d="M140.9 39h2.6"/>
<path stroke="#d14e72" d="M143.5 39h2.8M161.8 39h2"/>
<path stroke="#e26661" d="M0 40h1.9"/>
<path stroke="#c03a83" d="M1.9 40h1.6M25.5 40h1.9M29.6 40h2.2M140.9 40h2.6M146.3 40h2.7M171.3 40h1.9M12 46h1.7M140.9 46h2.6M149 46h2.6M156.6 46h2.8M161.8 46h2M169.4 46h1.9M192.2 46h1.9M194.1 46h1.9"/>
<path stroke="#c43e7f" d="M5.2 40h1.7M17.1 40h1.2M18.3 40h1.2M21.4 40h2.2M120.6 42h3M0 46h1.9M1.9 46h1.6M165.6 46h1.9"/>
<path stroke="#dc5d67" d="M6.9 40h1.7M175.1 40h1.9M39.1 45h2.5"/>
<path stroke="#af2891" d="M8.6 40h1.7M15.4 40h1.7M132.2 40h3M138.1 40h2.8M15.4 49h1.7M114.5 49h3.1M132.2 49h3M135.2 49h2.9M165.6 49h1.9M180.8 49h1.9M23.6 51h1.9M159.4 51h2.4"/>
<path stroke="#d5546e" d="M13.7 40h1.7M23.6 40h1.9M192.2 40h1.9M18.3 49h1.2"/>
<path stroke="#b42d8e" d="M19.5 40h1.9M165.6 40h1.9M17.1 46h1.2M108.2 46h3.2M171.3 46h1.9"/>
<path stroke="#cc4778" d="M27.4 40h2.2M149 40h2.6M154.1 40h2.5M159.4 40h2.4M180.8 40h1.9M184.6 40h1.9M188.4 40h1.9M43.8 45h2.1M123.6 45h3M3.5 46h1.7M180.8 46h1.9M3.5 49h1.7M161.8 49h2M173.2 49h1.9"/>
<path stroke="#c8437c" d="M31.8 40h2.1M33.9 40h2.5M178.9 40h1.9M31.8 46h2.1M129.5 46h2.7"/>
<path stroke="#a01b9a" d="M36.4 40h2.7M129.5 40h2.7M143.5 40h2.8M50.2 42h2.2M45.9 50h2.2"/>
<path stroke="#be3885" d="M45.9 40h2.2"/>
<path stroke="#c03a82" d="M48.1 40h2.1"/>
<path stroke="#b32d8e" d="M52.4 40h2.5"/>
<path stroke="#d9586b" d="M151.6 40h2.5M161.8 40h2"/>
<path stroke="#b8318a" d="M163.8 40h1.8M177 40h1.9M54.9 42h2.8M50.2 44h2.2M15.4 46h1.7M18.3 46h1.2M21.4 46h2.2M23.6 46h1.9M52.4 46h2.5M132.2 46h3M138.1 46h2.8M114.5 51h3.1"/>
<path stroke="#d04c74" d="M0 41h1.9M31.8 41h2.1M36.4 45h2.7M135.2 45h2.9"/>
<path stroke="#e06263" d="M12 41h1.7M1.9 45h1.6M159.4 45h2.4M177 45h1.9M188.4 45h1.9M190.3 45h1.9"/>
<path stroke="#bd3786" d="M13.7 41h1.7M23.6 41h1.9M27.4 41h2.2M140.9 41h2.6M146.3 41h2.7M165.6 41h1.9M184.6 41h1.9M194.1 41h1.9M27.4 45h2.2M29.6 45h2.2"/>
<path stroke="#d35171" d="M18.3 41h1.2M29.6 41h2.2M129.5 41h2.7M167.5 41h1.9M41.6 42h2.2M114.5 42h3.1M123.6 43h3M41.6 44h2.2"/>
<path stroke="#d95a6a" d="M19.5 41h1.9M154.1 45h2.5M156.6 45h2.8M161.8 45h2"/>
<path stroke="#b42d8d" d="M39.1 41h2.5"/>
<path stroke="#d9596b" d="M41.6 41h2.2M143.5 46h2.8M159.4 46h2.4"/>
<path stroke="#b02991" d="M114.5 41h3.1M48.1 46h2.1"/>
<path stroke="#db5c68" d="M120.6 41h3M43.8 46h2.1"/>
<path stroke="#dd5e67" d="M156.6 41h2.8M17.1 45h1.2"/>
<path stroke="#ea7556" d="M182.7 41h1.9"/>
<path stroke="#d04d73" d="M0 42h1.9M143.5 42h2.8M1.9 44h1.6M140.9 44h2.6M29.6 50h2.2"/>
<path stroke="#b52f8c" d="M6.9 42h1.7M146.3 42h2.7M182.7 42h1.9M184.6 42h1.9M178.9 43h1.9M154.1 44h2.5M194.1 44h1.9M143.5 50h2.8M165.6 50h1.9"/>
<path stroke="#d45170" d="M10.3 42h1.7M138.1 42h2.8M186.5 42h1.9M192.2 42h1.9M13.7 44h1.7M175.1 44h1.9M177 44h1.9M180.8 44h1.9M188.4 44h1.9"/>
<path stroke="#ca447a" d="M15.4 42h1.7M25.5 42h1.9M169.4 42h1.9M33.9 43h2.5M19.5 44h1.9M21.4 44h2.2M159.4 44h2.4M182.7 44h1.9"/>
<path stroke="#f2854b" d="M23.6 42h1.9"/>
<path stroke="#c9447a" d="M29.6 42h2.2M36.4 42h2.7M132.2 42h3M140.9 42h2.6M15.4 48h1.7M25.5 48h1.9M192.2 48h1.9M167.5 52h1.9"/>
<path stroke="#d25071" d="M43.8 42h2.1M151.6 46h2.5"/>
<path stroke="#c23c81" d="M48.1 42h2.1M19.5 43h1.9M151.6 43h2.5M154.1 43h2.5M156.6 43h2.8M184.6 43h1.9M194.1 43h1.9M114.5 50h3.1"/>
<path stroke="#9310a2" d="M111.4 42h3.1M180.8 43h1.9M140.9 50h2.6M171.3 50h1.9M184.6 50h1.9"/>
<path stroke="#e06363" d="M154.1 42h2.5M175.1 42h1.9M29.6 43h2.2M192.2 44h1.9"/>
<path stroke="#da5a69" d="M156.6 42h2.8M194.1 42h1.9M31.8 43h2.1M169.4 43h1.9M186.5 43h1.9"/>
<path stroke="#c13c81" d="M161.8 42h2M178.9 42h1.9M180.8 42h1.9M15.4 44h1.7M23.6 44h1.9M31.8 44h2.1M163.8 44h1.8M167.5 44h1.9M169.4 44h1.9"/>
<path stroke="#e3685f" d="M188.4 42h1.9"/>
<path stroke="#c6407e" d="M1.9 43h1.6M8.6 43h1.7M15.4 43h1.7M138.1 43h2.8M6.9 44h1.7M151.6 44h2.5M186.5 44h1.9M117.6 46h3M45.9 49h2.2M0 50h1.9M21.4 50h2.2M161.8 50h2"/>
<path stroke="#be3785" d="M5.2 43h1.7M173.2 43h1.9M177 43h1.9"/>
<path stroke="#d14d73" d="M10.3 43h1.7M12 43h1.7M165.6 43h1.9"/>
<path stroke="#ca457a" d="M13.7 43h1.7M149 43h2.6M175.1 43h1.9M167.5 50h1.9M45.9 51h2.2"/>
<path stroke="#e66d5c" d="M17.1 43h1.2M135.2 43h2.9"/>
<path stroke="#dd5f66" d="M21.4 43h2.2M18.3 44h1.2"/>
<path stroke="#b62f8c" d="M48.1 43h2.1M41.6 47h2.2"/>
<path stroke="#d45270" d="M140.9 43h2.6M151.6 50h2.5"/>
<path stroke="#98159f" d="M143.5 43h2.8"/>
<path stroke="#b93388" d="M146.3 43h2.7M159.4 43h2.4"/>
<path stroke="#ed7b52" d="M5.2 44h1.7"/>
<path stroke="#b22b90" d="M48.1 44h2.1"/>
<path stroke="#8b0ca4" d="M54.9 44h2.8M54.9 49h2.8"/>
<path stroke="#a11c99" d="M108.2 44h3.2M41.6 50h2.2"/>
<path stroke="#e4695e" d="M117.6 44h3"/>
<path stroke="#e56c5c" d="M3.5 45h1.7"/>
<path stroke="#900ea3" d="M54.9 45h2.8M6.9 51h1.7M161.8 51h2M180.8 51h1.9M45.9 52h2.2"/>
<path stroke="#2a0693" d="M99.1 45h3.2M54.9 58h2.8"/>
<path stroke="#d6556e" d="M126.6 45h2.9"/>
<path stroke="#d6546e" d="M5.2 46h1.7"/>
<path stroke="#c8437b" d="M19.5 46h1.9M146.3 46h2.7M163.8 46h1.8M173.2 46h1.9M182.7 46h1.9"/>
<path stroke="#a01c9a" d="M25.5 46h1.9M167.5 46h1.9"/>
<path stroke="#df6164" d="M36.4 46h2.7"/>
<path stroke="#b7318a" d="M39.1 46h2.5M23.6 49h1.9M138.1 49h2.8M154.1 49h2.5M192.2 49h1.9M117.6 50h3M8.6 51h1.7M177 51h1.9"/>
<path stroke="#9412a1" d="M54.9 46h2.8M48.1 52h2.1M36.4 53h2.7M154.1 55h2.5M194.1 55h1.9"/>
<path stroke="#e56b5d" d="M175.1 46h1.9"/>
<path stroke="#cf4c75" d="M186.5 46h1.9"/>
<path stroke="#d14f72" d="M12 47h1.7M161.8 47h2"/>
<path stroke="#d8576c" d="M17.1 47h1.2"/>
<path stroke="#b22c8f" d="M31.8 47h2.1M33.9 47h2.5M135.2 47h2.9"/>
<path stroke="#ca4579" d="M39.1 47h2.5"/>
<path stroke="#bd3686" d="M45.9 47h2.2"/>
<path stroke="#5202a1" d="M102.3 47h2.9"/>
<path stroke="#9f1b9a" d="M111.4 47h3.1M0 49h1.9M5.2 49h1.7M13.7 49h1.7M21.4 49h2.2M186.5 49h1.9M108.2 50h3.2M3.5 51h1.7M17.1 51h1.2M21.4 51h2.2M140.9 51h2.6M143.5 51h2.8M169.4 51h1.9M192.2 51h1.9"/>
<path stroke="#d14e73" d="M126.6 47h2.9"/>
<path stroke="#b32c8f" d="M165.6 47h1.9M186.5 47h1.9"/>
<path stroke="#bb3487" d="M171.3 47h1.9M180.8 47h1.9"/>
<path stroke="#c9437b" d="M41.6 48h2.2"/>
<path stroke="#8209a5" d="M52.4 48h2.5M17.1 50h1.2M117.6 53h3"/>
<path stroke="#c53f7f" d="M123.6 48h3"/>
<path stroke="#a51f97" d="M1.9 49h1.6M8.6 49h1.7M17.1 49h1.2M151.6 49h2.5M163.8 49h1.8M177 49h1.9M184.6 49h1.9"/>
<path stroke="#c8427c" d="M6.9 49h1.7M10.3 49h1.7M12 49h1.7M188.4 49h1.9"/>
<path stroke="#8b0ba4" d="M29.6 49h2.2M15.4 51h1.7M167.5 51h1.9M52.4 52h2.5"/>
<path stroke="#bf3a83" d="M140.9 49h2.6M0 51h1.9"/>
<path stroke="#c43e80" d="M146.3 49h2.7M159.4 49h2.4M190.3 49h1.9"/>
<path stroke="#880aa5" d="M10.3 50h1.7M31.8 50h2.1M0 52h1.9M50.2 52h2.2"/>
<path stroke="#5a02a4" d="M57.7 50h2.9"/>
<path stroke="#d35071" d="M120.6 50h3"/>
<path stroke="#7f08a6" d="M1.9 51h1.6M138.1 51h2.8"/>
<path stroke="#8a0ba4" d="M29.6 51h2.2"/>
<path stroke="#7203a7" d="M54.9 51h2.8M50.2 54h2.2"/>
<path stroke="#dc5c68" d="M163.8 51h1.8"/>
<path stroke="#5b02a4" d="M60.6 52h2.7M52.4 60h2.5M8.6 62h1.7M10.3 62h1.7M33.9 62h2.5M146.3 62h2.7M173.2 62h1.9"/>
<path stroke="#7f07a6" d="M5.2 53h1.7M8.6 53h1.7M21.4 53h2.2M161.8 53h2M177 53h1.9M6.9 55h1.7M19.5 55h1.9M29.6 55h2.2M159.4 55h2.4M171.3 55h1.9M15.4 57h1.7M171.3 57h1.9M8.6 63h1.7M31.8 63h2.1"/>
<path stroke="#a82295" d="M120.6 53h3"/>
<path stroke="#2d0695" d="M57.7 54h2.9M45.9 60h2.2"/>
<path stroke="#9f1a9b" d="M23.6 55h1.9M135.2 55h2.9M173.2 55h1.9"/>
<path stroke="#4a03a0" d="M54.9 55h2.8"/>
<path stroke="#6800a8" d="M10.3 57h1.7M27.4 57h2.2"/>
<path stroke="#5002a1" d="M111.4 57h3.1"/>
<path stroke="#5902a4" d="M6.9 58h1.7M149 58h2.6M161.8 58h2M169.4 58h1.9"/>
<path stroke="#40049d" d="M13.7 58h1.7M151.6 58h2.5M1.9 60h1.6M6.9 60h1.7M19.5 60h1.9M23.6 60h1.9M31.8 60h2.1M138.1 60h2.8M175.1 60h1.9M188.4 60h1.9"/>
<path stroke="#4a039f" d="M0 59h1.9M10.3 59h1.7M25.5 59h1.9M33.9 59h2.5M163.8 59h1.8"/>
<path stroke="#5702a3" d="M12 59h1.7M19.5 59h1.9M29.6 59h2.2M161.8 59h2M165.6 59h1.9M169.4 59h1.9M184.6 59h1.9M190.3 59h1.9"/>
<path stroke="#43049d" d="M41.6 59h2.2"/>
<path stroke="#220690" d="M19.5 61h1.9"/>
<path stroke="#340598" d="M135.2 61h2.9"/>
<path stroke="#1f078f" d="M12 62h1.7"/>
<path stroke="#14078a" d="M114.5 62h3.1"/>
<path stroke="#120889" d="M21.4 64h2.2"/>
</g></svg>
<path d="M288.5 48V219.5M344.9 48V219.5M401.3 48V219.5M457.7 48V219.5M268 72.4H464M268 103H464M268 133.4H464M268 164H464M268 194.4H464" stroke="#d0d0e4" stroke-width="0.9" stroke-dasharray="1 1" fill="none" opacity="0.55"/>
<rect x="268.3" y="48.3" width="195.4" height="170.9" fill="none" stroke="#0a0640" stroke-width="0.8"/>
<path d="M268 72.4h3.5M268 103h3.5M268 133.4h3.5M268 164h3.5M268 194.4h3.5" stroke="#111" stroke-width="0.9" fill="none"/>
<svg x="489" y="48" width="196" height="171.5" viewBox="0 0 196 88" preserveAspectRatio="none" shape-rendering="crispEdges">
<rect width="196" height="88" fill="#0d0887"/>
<filter id="bl33" x="-5%" y="-5%" width="110%" height="110%"><feGaussianBlur stdDeviation="0.35 0.3"/></filter>
<g transform="translate(0 .5)" fill="none" stroke-width="1" filter="url(#bl33)">
<path stroke="#350598" d="M39 0h5.1M90.1 0h3.1M146.1 0h2.7M189.4 0h1.3M6.4 1h1.3M12.9 1h1.5M36.5 1h2.5M54.7 1h2.7M96.2 1h3M193.3 1h1.3M5.1 2h1.3M9.2 2h2M111.5 2h3M140.9 2h2.6M184.1 2h1.7M7.7 3h1.5M50.9 3h1.6M96.2 3h3M111.5 3h3M120.5 3h3M177.7 3h1.8M9.2 4h2M12.9 4h1.5M39 4h2.5M69 4h3M123.5 4h9M174 4h1.8M11.2 5h1.7M46.8 5h2.3M84 5h3M129.5 5h3M140.9 5h2.6M151.5 5h2.5M167.9 5h2.3M172.2 5h1.8M194.6 5h1.4M0 6h1.1M3.8 6h1.3M41.5 6h5.3M90.1 6h3.1M105.5 6h3M126.5 6h6M158.9 6h2.3M172.2 6h1.8M7.7 7h3.5M23.5 7h2.1M126.5 7h6M158.9 7h2.3M163.6 7h2.2M170.2 7h2M189.4 7h1.3M192 7h1.3M3.8 8h1.3M12.9 8h1.5M21.6 8h1.9M25.6 8h2.1M36.5 8h2.5M49.1 8h1.8M54.7 8h2.7M63.2 8h2.8M69 8h3M75 8h3M96.2 8h3M120.5 8h3M163.6 8h2.2M177.7 8h1.8M1.1 9h1.4M5.1 9h1.3M7.7 9h1.5M12.9 9h1.5M19.8 9h1.8M29.7 9h2.3M36.5 9h2.5M52.5 9h2.2M69 9h3M84 9h3M114.5 9h3M129.5 9h3M138.1 9h5.4M167.9 9h2.3M172.2 9h1.8M189.4 9h1.3M11.2 10h1.7M27.7 10h2M49.1 10h3.4M57.4 10h5.8M69 10h3M96.2 10h12.3M114.5 10h3M123.5 10h3M148.8 10h2.7M170.2 10h2M184.1 10h4M190.7 10h1.3M2.5 11h1.3M7.7 11h3.5M21.6 11h1.9M32 11h2.2M49.1 11h1.8M52.5 11h2.2M69 11h6M84 11h3M99.2 11h3.1M105.5 11h3M111.5 11h3M120.5 11h3M138.1 11h2.8M158.9 11h4.7M167.9 11h4.3M175.8 11h1.9M2.5 12h2.6M14.4 12h1.7M27.7 12h2M36.5 12h2.5M41.5 12h2.6M49.1 12h1.8M57.4 12h2.8M69 12h3M84 12h3M93.2 12h3M99.2 12h3.1M111.5 12h6M143.5 12h5.3M151.5 12h2.5M156.6 12h2.3M161.2 12h2.4M172.2 12h1.8M175.8 12h1.9M181.2 12h1.4M184.1 12h3M193.3 12h1.3M2.5 13h1.3M19.8 13h1.8M29.7 13h2.3M50.9 13h3.8M57.4 13h2.8M84 13h3M105.5 13h3M111.5 13h3M129.5 13h3M135.3 13h2.8M140.9 13h2.6M146.1 13h5.4M156.6 13h2.3M163.6 13h2.2M167.9 13h4.3M181.2 13h1.4M192 13h1.3M14.4 14h1.7M25.6 14h2.1M46.8 14h2.3M52.5 14h2.2M60.2 14h3M75 14h3M84 14h3M93.2 14h3M129.5 14h3M156.6 14h2.3M170.2 14h2M177.7 14h1.8M181.2 14h1.4M184.1 14h1.7M187.1 14h2.3M193.3 14h1.3M23.5 15h2.1M27.7 15h4.3M36.5 15h5M44.1 15h5M50.9 15h1.6M60.2 15h3M66 15h3M96.2 15h3M108.5 15h3M132.5 15h2.8M148.8 15h5.2M158.9 15h2.3M175.8 15h1.9M179.5 15h3.1M185.8 15h1.3M192 15h1.3M194.6 15h1.4M5.1 16h2.6M16.1 16h3.7M27.7 16h2M34.2 16h2.3M39 16h2.5M52.5 16h4.9M66 16h3M75 16h3M102.3 16h3.2M120.5 16h6M135.3 16h2.8M151.5 16h5.1M165.8 16h2.1M172.2 16h3.6M184.1 16h1.7M187.1 16h1M190.7 16h1.3M3.8 17h1.3M9.2 17h2M12.9 17h1.5M34.2 17h2.3M41.5 17h7.6M50.9 17h3.8M60.2 17h3M84 17h3M93.2 17h3M102.3 17h3.2M132.5 17h2.8M146.1 17h2.7M151.5 17h5.1M165.8 17h4.4M172.2 17h1.8M175.8 17h1.9M179.5 17h1.7M189.4 17h1.3M192 17h2.6M3.8 18h1.3M7.7 18h1.5M12.9 18h1.5M16.1 18h3.7M23.5 18h2.1M27.7 18h2M34.2 18h2.3M57.4 18h11.6M72 18h3M102.3 18h3.2M117.5 18h6M126.5 18h3M132.5 18h5.6M151.5 18h2.5M158.9 18h2.3M163.6 18h2.2M172.2 18h3.6M187.1 18h2.3M192 18h1.3M1.1 19h2.7M5.1 19h9.3M17.9 19h1.9M21.6 19h1.9M27.7 19h4.3M50.9 19h1.6M54.7 19h5.5M63.2 19h2.8M90.1 19h3.1M96.2 19h3M102.3 19h3.2M114.5 19h3M148.8 19h10.1M165.8 19h2.1M172.2 19h7.3M181.2 19h1.4M188.1 19h1.3M190.7 19h1.3M1.1 20h2.7M7.7 20h1.5M14.4 20h3.5M19.8 20h1.8M23.5 20h2.1M27.7 20h2M36.5 20h2.5M41.5 20h7.6M54.7 20h2.7M99.2 20h3.1M108.5 20h3M123.5 20h3M132.5 20h2.8M146.1 20h5.4M181.2 20h2.9M188.1 20h2.6M192 20h1.3M7.7 21h1.5M19.8 21h3.7M39 21h2.5M54.7 21h2.7M87 21h9.2M108.5 21h3M132.5 21h5.6M163.6 21h4.3M182.6 21h1.5M187.1 21h1M189.4 21h1.3M0 22h6.4M7.7 22h1.5M11.2 22h1.7M21.6 22h1.9M25.6 22h2.1M29.7 22h6.8M41.5 22h5.3M49.1 22h1.8M52.5 22h4.9M102.3 22h3.2M135.3 22h2.8M140.9 22h2.6M146.1 22h2.7M151.5 22h5.1M161.2 22h2.4M172.2 22h1.8M175.8 22h1.9M181.2 22h1.4M188.1 22h2.6M2.5 23h1.3M5.1 23h1.3M11.2 23h1.7M14.4 23h1.7M17.9 23h1.9M27.7 23h8.8M39 23h2.5M44.1 23h2.7M50.9 23h6.5M60.2 23h3M72 23h9M84 23h3M108.5 23h3M114.5 23h3M126.5 23h3M135.3 23h2.8M165.8 23h2.1M174 23h3.7M184.1 23h1.7M190.7 23h1.3M194.6 23h1.4M2.5 24h1.3M6.4 24h1.3M9.2 24h3.7M17.9 24h1.9M21.6 24h1.9M25.6 24h2.1M29.7 24h2.3M44.1 24h5M52.5 24h2.2M57.4 24h2.8M69 24h6M81 24h6M90.1 24h3.1M96.2 24h3M108.5 24h15M129.5 24h8.6M140.9 24h2.6M148.8 24h2.7M163.6 24h2.2M175.8 24h1.9M181.2 24h2.9M187.1 24h1M189.4 24h5.2M0 25h1.1M7.7 25h1.5M11.2 25h4.9M17.9 25h3.7M32 25h2.2M36.5 25h2.5M44.1 25h5M54.7 25h2.7M66 25h6M75 25h3M81 25h3M93.2 25h9.1M105.5 25h9M120.5 25h3M135.3 25h2.8M151.5 25h5.1M161.2 25h11M175.8 25h1.9M179.5 25h1.7M194.6 25h1.4M3.8 26h1.3M16.1 26h1.8M27.7 26h2M32 26h2.2M57.4 26h2.8M63.2 26h2.8M75 26h9M96.2 26h3M102.3 26h3.2M111.5 26h3M117.5 26h3M129.5 26h5.8M138.1 26h5.4M146.1 26h2.7M154 26h2.6M158.9 26h2.3M165.8 26h2.1M172.2 26h1.8M179.5 26h1.7M182.6 26h3.2M187.1 26h1M192 26h1.3M194.6 26h1.4M2.5 27h1.3M11.2 27h3.2M17.9 27h1.9M25.6 27h2.1M36.5 27h2.5M41.5 27h5.3M57.4 27h8.6M84 27h6.1M96.2 27h6.1M108.5 27h9M120.5 27h9M138.1 27h13.4M158.9 27h2.3M167.9 27h2.3M175.8 27h1.9M179.5 27h1.7M182.6 27h1.5M185.8 27h2.3M190.7 27h1.3M9.2 28h2M12.9 28h1.5M23.5 28h2.1M29.7 28h2.3M39 28h5.1M46.8 28h2.3M50.9 28h12.3M66 28h6M75 28h6M84 28h3M93.2 28h6M102.3 28h6.2M126.5 28h3M132.5 28h2.8M138.1 28h2.8M146.1 28h2.7M167.9 28h11.6M188.1 28h2.6M193.3 28h2.7M1.1 29h4M6.4 29h1.3M19.8 29h1.8M29.7 29h2.3M44.1 29h10.6M60.2 29h5.8M78 29h9M93.2 29h3M99.2 29h9.3M111.5 29h6M126.5 29h3M151.5 29h5.1M174 29h1.8M185.8 29h1.3M194.6 29h1.4M1.1 55h1.4M12.9 55h1.5M16.1 55h1.8M23.5 55h2.1M27.7 55h2M34.2 55h4.8M44.1 55h2.7M49.1 55h1.8M72 55h3M78 55h3M84 55h3M96.2 55h3M105.5 55h3M117.5 55h6M138.1 55h5.4M148.8 55h7.8M163.6 55h4.3M170.2 55h2M175.8 55h1.9M179.5 55h1.7M185.8 55h2.3M193.3 55h2.7M2.5 56h5.2M14.4 56h9.1M36.5 56h2.5M46.8 56h2.3M52.5 56h7.7M72 56h6M84 56h3M102.3 56h3.2M114.5 56h3M129.5 56h5.8M138.1 56h2.8M146.1 56h2.7M156.6 56h2.3M163.6 56h2.2M170.2 56h2M175.8 56h1.9M185.8 56h1.3M190.7 56h1.3M193.3 56h1.3M0 57h2.5M7.7 57h1.5M11.2 57h1.7M14.4 57h1.7M21.6 57h1.9M27.7 57h4.3M54.7 57h2.7M69 57h9M87 57h3.1M93.2 57h3M111.5 57h3M135.3 57h5.6M143.5 57h2.6M158.9 57h2.3M167.9 57h7.9M177.7 57h1.8M184.1 57h6.6M1.1 58h1.4M5.1 58h1.3M7.7 58h1.5M12.9 58h1.5M16.1 58h3.7M27.7 58h2M39 58h2.5M50.9 58h1.6M75 58h6M90.1 58h3.1M99.2 58h9.3M114.5 58h3M129.5 58h3M135.3 58h2.8M146.1 58h5.4M154 58h2.6M165.8 58h2.1M170.2 58h2M181.2 58h8.2M193.3 58h2.7M1.1 59h1.4M3.8 59h3.9M9.2 59h2M12.9 59h1.5M16.1 59h3.7M21.6 59h6.1M39 59h2.5M44.1 59h2.7M50.9 59h1.6M54.7 59h8.5M66 59h9M102.3 59h3.2M111.5 59h15M132.5 59h2.8M148.8 59h2.7M154 59h2.6M167.9 59h2.3M172.2 59h5.5M189.4 59h1.3M193.3 59h1.3M1.1 60h1.4M6.4 60h1.3M11.2 60h3.2M21.6 60h1.9M32 60h2.2M36.5 60h2.5M41.5 60h5.3M60.2 60h5.8M75 60h3M81 60h3M87 60h6.2M96.2 60h3M111.5 60h3M117.5 60h6M126.5 60h6M154 60h4.9M165.8 60h2.1M175.8 60h1.9M190.7 60h2.6M1.1 61h4M7.7 61h3.5M14.4 61h1.7M32 61h2.2M36.5 61h2.5M49.1 61h1.8M52.5 61h2.2M60.2 61h3M72 61h6M102.3 61h3.2M114.5 61h6M123.5 61h3M140.9 61h2.6M151.5 61h5.1M161.2 61h2.4M174 61h1.8M177.7 61h3.5M182.6 61h4.5M188.1 61h1.3M192 61h1.3M1.1 62h4M11.2 62h3.2M16.1 62h11.6M36.5 62h2.5M41.5 62h2.6M46.8 62h2.3M52.5 62h2.2M66 62h3M75 62h3M99.2 62h6.3M111.5 62h6M123.5 62h6M135.3 62h2.8M140.9 62h2.6M154 62h2.6M163.6 62h6.6M179.5 62h4.6M185.8 62h1.3M189.4 62h3.9M1.1 63h1.4M5.1 63h1.3M12.9 63h3.2M19.8 63h3.7M29.7 63h2.3M57.4 63h2.8M63.2 63h2.8M81 63h3M90.1 63h3.1M105.5 63h3M111.5 63h3M117.5 63h3M123.5 63h11.8M138.1 63h2.8M151.5 63h2.5M156.6 63h2.3M161.2 63h4.6M170.2 63h7.5M185.8 63h1.3M188.1 63h1.3M190.7 63h2.6M9.2 64h2M12.9 64h1.5M17.9 64h1.9M25.6 64h2.1M32 64h2.2M44.1 64h2.7M50.9 64h6.5M60.2 64h5.8M72 64h3M84 64h6.1M96.2 64h3M105.5 64h3M120.5 64h3M126.5 64h3M132.5 64h2.8M154 64h2.6M158.9 64h6.9M185.8 64h1.3M190.7 64h1.3M193.3 64h1.3M0 65h1.1M3.8 65h9.1M17.9 65h1.9M27.7 65h4.3M34.2 65h2.3M41.5 65h5.3M50.9 65h1.6M54.7 65h11.3M69 65h3M75 65h6M84 65h15.2M102.3 65h6.2M111.5 65h3M123.5 65h3M129.5 65h3M146.1 65h2.7M158.9 65h2.3M163.6 65h2.2M167.9 65h4.3M174 65h1.8M177.7 65h6.4M193.3 65h1.3M1.1 66h4M9.2 66h2M12.9 66h1.5M16.1 66h1.8M19.8 66h1.8M27.7 66h2M34.2 66h2.3M49.1 66h3.4M75 66h3M81 66h3M96.2 66h3M102.3 66h3.2M108.5 66h6M123.5 66h6M135.3 66h5.6M151.5 66h2.5M156.6 66h4.6M165.8 66h2.1M170.2 66h2M175.8 66h1.9M182.6 66h1.5M188.1 66h2.6M3.8 67h1.3M7.7 67h1.5M11.2 67h1.7M27.7 67h2M44.1 67h5M50.9 67h1.6M66 67h6M78 67h3M87 67h6.2M105.5 67h9M117.5 67h3M129.5 67h3M163.6 67h2.2M167.9 67h2.3M182.6 67h1.5M188.1 67h1.3M190.7 67h1.3M0 68h1.1M2.5 68h1.3M5.1 68h1.3M21.6 68h1.9M27.7 68h2M32 68h2.2M49.1 68h3.4M60.2 68h5.8M72 68h3M84 68h6.1M96.2 68h3M105.5 68h3M117.5 68h3M123.5 68h6M140.9 68h2.6M146.1 68h2.7M156.6 68h2.3M161.2 68h2.4M165.8 68h6.4M174 68h1.8M177.7 68h1.8M185.8 68h2.3M189.4 68h1.3M192 68h1.3M0 69h1.1M7.7 69h1.5M12.9 69h1.5M16.1 69h1.8M19.8 69h3.7M27.7 69h4.3M41.5 69h2.6M46.8 69h4.1M60.2 69h11.8M96.2 69h3M105.5 69h3M126.5 69h3M138.1 69h5.4M146.1 69h12.8M161.2 69h2.4M167.9 69h2.3M175.8 69h5.4M182.6 69h1.5M189.4 69h1.3M1.1 70h1.4M36.5 70h2.5M41.5 70h2.6M46.8 70h2.3M50.9 70h1.6M60.2 70h8.8M99.2 70h3.1M114.5 70h3M132.5 70h2.8M138.1 70h2.8M143.5 70h2.6M156.6 70h2.3M172.2 70h3.6M177.7 70h1.8M187.1 70h1M0 71h1.1M14.4 71h1.7M19.8 71h1.8M32 71h2.2M44.1 71h13.3M81 71h3M99.2 71h3.1M114.5 71h6M132.5 71h11M158.9 71h2.3M175.8 71h1.9M185.8 71h1.3M2.5 72h1.3M7.7 72h1.5M17.9 72h1.9M25.6 72h4.1M32 72h2.2M36.5 72h2.5M46.8 72h2.3M87 72h3.1M93.2 72h9.1M114.5 72h3M123.5 72h3M135.3 72h5.6M143.5 72h2.6M151.5 72h12.1M175.8 72h1.9M189.4 72h1.3M3.8 73h2.6M27.7 73h2M34.2 73h2.3M46.8 73h7.9M60.2 73h3M93.2 73h3M143.5 73h2.6M165.8 73h2.1M177.7 73h1.8M188.1 73h1.3M1.1 74h1.4M7.7 74h1.5M14.4 74h3.5M23.5 74h4.2M34.2 74h2.3M54.7 74h2.7M66 74h6M75 74h3M111.5 74h3M117.5 74h3M126.5 74h3M135.3 74h2.8M140.9 74h7.9M161.2 74h2.4M165.8 74h4.4M172.2 74h1.8M179.5 74h3.1M184.1 74h4M0 75h3.8M12.9 75h1.5M46.8 75h2.3M66 75h3M81 75h3M105.5 75h3M114.5 75h3M132.5 75h2.8M156.6 75h4.6M165.8 75h2.1M179.5 75h1.7M184.1 75h1.7M192 75h1.3M17.9 76h1.9M27.7 76h4.3M39 76h5.1M54.7 76h2.7M96.2 76h6.1M105.5 76h3M114.5 76h3M120.5 76h6M129.5 76h3M148.8 76h2.7M156.6 76h2.3M161.2 76h2.4M170.2 76h2M174 76h3.7M193.3 76h1.3M5.1 77h1.3M11.2 77h3.2M32 77h2.2M44.1 77h2.7M52.5 77h2.2M57.4 77h2.8M90.1 77h3.1M99.2 77h3.1M126.5 77h3M140.9 77h7.9M151.5 77h5.1M188.1 77h2.6M0 78h1.1M19.8 78h3.7M27.7 78h2M50.9 78h3.8M66 78h3M84 78h3M96.2 78h3M111.5 78h3M135.3 78h2.8M158.9 78h4.7M188.1 78h1.3M190.7 78h3.9M11.2 79h1.7M25.6 79h2.1M78 79h3M84 79h3M117.5 79h3M135.3 79h5.6M151.5 79h2.5M156.6 79h2.3M175.8 79h1.9M182.6 79h1.5M187.1 79h4.9M193.3 79h2.7M11.2 80h1.7M27.7 80h2M32 80h2.2M99.2 80h3.1M148.8 80h2.7M172.2 80h1.8M190.7 80h1.3M194.6 80h1.4M16.1 81h1.8M29.7 81h2.3M41.5 81h2.6M75 81h3M111.5 81h3M120.5 81h3M148.8 81h2.7M170.2 81h2M175.8 81h1.9M84 82h3M102.3 82h6.2M120.5 82h3M154 82h2.6M185.8 82h1.3M1.1 83h1.4M3.8 83h1.3M11.2 83h1.7M84 83h3M189.4 83h1.3M192 83h1.3M1.1 84h1.4M39 84h2.5M96.2 84h3M102.3 84h3.2M120.5 84h3M129.5 84h8.6M172.2 84h1.8M188.1 84h1.3M190.7 84h1.3M11.2 85h1.7M16.1 85h1.8M27.7 85h2M102.3 85h3.2M175.8 85h1.9M181.2 85h1.4M6.4 86h2.8M96.2 86h3M135.3 86h2.8M148.8 86h2.7M170.2 86h2M184.1 86h1.7M9.2 87h2M111.5 87h3M132.5 87h2.8"/>
<path stroke="#7504a7" d="M120.5 2h3M120.5 13h3M1.1 14h1.4M99.2 17h3.1M29.7 18h2.3M154 18h2.6M60.2 19h3M120.5 19h3M11.2 20h1.7M34.2 20h2.3M114.5 20h3M114.5 21h6M148.8 21h2.7M184.1 21h1.7M193.3 21h1.3M132.5 22h2.8M138.1 22h2.8M194.6 22h1.4M9.2 23h2M105.5 23h3M123.5 23h3M151.5 23h2.5M188.1 23h1.3M7.7 24h1.5M34.2 24h2.3M54.7 24h2.7M63.2 24h2.8M87 24h3.1M93.2 24h3M102.3 24h3.2M151.5 24h5.1M188.1 24h1.3M16.1 25h1.8M63.2 25h2.8M146.1 25h2.7M172.2 25h1.8M177.7 25h1.8M187.1 25h1M193.3 25h1.3M14.4 26h1.7M21.6 26h1.9M44.1 26h2.7M66 26h3M105.5 26h6M161.2 26h2.4M23.5 27h2.1M50.9 27h6.5M66 27h3M90.1 27h3.1M184.1 27h1.7M189.4 27h1.3M6.4 28h1.3M19.8 28h3.7M32 28h4.5M72 28h3M117.5 28h3M185.8 28h1.3M192 28h1.3M5.1 29h1.3M11.2 29h1.7M16.1 29h1.8M34.2 29h2.3M57.4 29h2.8M75 29h3M96.2 29h3M135.3 29h2.8M143.5 29h2.6M170.2 29h2M187.1 29h1M190.7 29h1.3M6.4 31h1.3M9.2 31h3.7M17.9 31h1.9M21.6 31h1.9M25.6 31h2.1M32 31h2.2M39 31h2.5M54.7 31h2.7M81 31h3M87 31h3.1M102.3 31h3.2M114.5 31h3M132.5 31h2.8M143.5 31h2.6M161.2 31h2.4M172.2 31h3.6M182.6 31h1.5M185.8 31h1.3M188.1 31h1.3M5.1 40h1.3M16.1 40h1.8M36.5 40h2.5M52.5 40h2.2M57.4 40h8.6M78 40h3M84 40h3M105.5 40h3M114.5 40h3M161.2 40h2.4M170.2 40h9.3M182.6 40h1.5M187.1 40h2.3M192 40h1.3M3.8 42h1.3M6.4 42h1.3M16.1 42h1.8M29.7 42h2.3M41.5 42h2.6M46.8 42h2.3M52.5 42h2.2M60.2 42h3M72 42h3M117.5 42h6M135.3 42h2.8M161.2 42h2.4M167.9 42h2.3M184.1 42h1.7M190.7 42h1.3M0 43h1.1M3.8 43h1.3M29.7 43h2.3M34.2 43h2.3M50.9 43h1.6M60.2 43h3M72 43h3M114.5 43h23.6M146.1 43h2.7M158.9 43h4.7M181.2 43h1.4M185.8 43h1.3M189.4 43h1.3M193.3 43h1.3M5.1 53h1.3M9.2 53h3.7M16.1 53h5.5M32 53h2.2M39 53h2.5M46.8 53h2.3M50.9 53h1.6M63.2 53h5.8M75 53h6M93.2 53h3M99.2 53h3.1M120.5 53h3M138.1 53h10.7M151.5 53h2.5M156.6 53h7M167.9 53h2.3M174 53h1.8M182.6 53h1.5M189.4 53h2.6M194.6 53h1.4M0 55h1.1M9.2 55h3.7M14.4 55h1.7M21.6 55h1.9M41.5 55h2.6M46.8 55h2.3M52.5 55h4.9M87 55h3.1M108.5 55h6M123.5 55h3M132.5 55h2.8M143.5 55h5.3M156.6 55h2.3M167.9 55h2.3M190.7 55h1.3M1.1 56h1.4M23.5 56h2.1M60.2 56h3M81 56h3M87 56h3.1M172.2 56h1.8M5.1 57h2.6M17.9 57h3.7M39 57h2.5M66 57h3M78 57h3M90.1 57h3.1M120.5 57h3M0 58h1.1M14.4 58h1.7M25.6 58h2.1M41.5 58h2.6M49.1 58h1.8M52.5 58h2.2M69 58h6M111.5 58h3M126.5 58h3M161.2 58h4.6M177.7 58h1.8M192 58h1.3M0 59h1.1M52.5 59h2.2M78 59h6M151.5 59h2.5M158.9 59h2.3M182.6 59h1.5M19.8 60h1.8M69 60h3M148.8 60h2.7M161.2 60h2.4M167.9 60h2.3M16.1 61h1.8M25.6 61h2.1M41.5 61h2.6M46.8 61h2.3M78 61h9M111.5 61h3M138.1 61h2.8M146.1 61h2.7M158.9 61h2.3M0 62h1.1M54.7 62h2.7M81 62h6M120.5 62h3M132.5 62h2.8M148.8 62h5.2M172.2 62h1.8M177.7 62h1.8M16.1 63h1.8M34.2 63h2.3M84 63h3M102.3 63h3.2M1.1 64h1.4M66 64h3M140.9 64h2.6M146.1 64h2.7M172.2 65h1.8M14.4 67h1.7M99.2 67h3.1M123.5 67h3M175.8 67h1.9M187.1 67h1M14.4 68h1.7M90.1 69h3.1M123.5 70h3M87 71h3.1M165.8 72h2.1"/>
<path stroke="#5702a3" d="M54.7 5h2.7M25.6 6h2.1M120.5 6h3M185.8 6h1.3M90.1 7h3.1M120.5 7h3M32 9h2.2M78 9h3M120.5 10h3M90.1 11h3.1M6.4 12h1.3M63.2 12h2.8M120.5 12h3M140.9 12h2.6M39 13h2.5M114.5 13h3M126.5 13h3M9.2 14h2M81 14h3M0 15h2.5M14.4 15h1.7M17.9 15h1.9M32 15h2.2M93.2 15h3M140.9 15h2.6M154 15h4.9M182.6 15h1.5M187.1 15h1M84 16h3M16.1 17h3.7M36.5 17h2.5M90.1 17h3.1M135.3 17h2.8M143.5 17h2.6M177.7 17h1.8M1.1 18h1.4M50.9 18h1.6M108.5 18h3M114.5 18h3M140.9 18h5.2M181.2 18h1.4M14.4 19h1.7M23.5 19h2.1M69 19h3M78 19h3M84 19h3M93.2 19h3M126.5 19h3M135.3 19h2.8M158.9 19h2.3M189.4 19h1.3M5.1 20h2.6M9.2 20h2M50.9 20h1.6M75 20h3M102.3 20h3.2M111.5 20h3M151.5 20h2.5M163.6 20h4.3M16.1 21h1.8M44.1 21h2.7M49.1 21h1.8M60.2 21h3M102.3 21h3.2M111.5 21h3M129.5 21h3M138.1 21h2.8M143.5 21h2.6M161.2 21h2.4M170.2 21h2M185.8 21h1.3M14.4 22h1.7M36.5 22h2.5M46.8 22h2.3M63.2 22h2.8M69 22h3M78 22h3M114.5 22h6M129.5 22h3M143.5 22h2.6M158.9 22h2.3M177.7 22h1.8M184.1 22h1.7M190.7 22h1.3M7.7 23h1.5M23.5 23h2.1M41.5 23h2.6M57.4 23h2.8M63.2 23h2.8M96.2 23h3M102.3 23h3.2M117.5 23h6M140.9 23h2.6M167.9 23h2.3M172.2 23h1.8M177.7 23h3.5M185.8 23h1.3M1.1 24h1.4M12.9 24h3.2M23.5 24h2.1M39 24h2.5M50.9 24h1.6M60.2 24h3M66 24h3M167.9 24h2.3M172.2 24h3.6M3.8 25h1.3M9.2 25h2M21.6 25h1.9M27.7 25h2M39 25h2.5M52.5 25h2.2M78 25h3M90.1 25h3.1M123.5 25h3M132.5 25h2.8M174 25h1.8M181.2 25h2.9M185.8 25h1.3M189.4 25h1.3M0 26h3.8M7.7 26h1.5M11.2 26h3.2M19.8 26h1.8M23.5 26h2.1M36.5 26h5M49.1 26h3.4M72 26h3M114.5 26h3M123.5 26h3M135.3 26h2.8M148.8 26h5.2M156.6 26h2.3M163.6 26h2.2M170.2 26h2M174 26h1.8M188.1 26h1.3M190.7 26h1.3M19.8 27h3.7M32 27h2.2M39 27h2.5M78 27h6M93.2 27h3M102.3 27h3.2M129.5 27h5.8M151.5 27h7.4M163.6 27h2.2M172.2 27h3.6M177.7 27h1.8M181.2 27h1.4M192 27h2.6M2.5 28h3.9M7.7 28h1.5M11.2 28h1.7M14.4 28h1.7M49.1 28h1.8M63.2 28h2.8M108.5 28h3M114.5 28h3M129.5 28h3M140.9 28h5.2M151.5 28h5.1M158.9 28h2.3M163.6 28h4.3M182.6 28h1.5M7.7 29h3.5M21.6 29h1.9M27.7 29h2M36.5 29h5M54.7 29h2.7M66 29h3M90.1 29h3.1M117.5 29h9M129.5 29h5.8M138.1 29h2.8M158.9 29h4.7M175.8 29h1.9M179.5 29h3.1M184.1 29h1.7M188.1 29h2.6M192 29h2.6M1.1 30h1.4M9.2 30h2M12.9 30h1.5M17.9 30h1.9M41.5 30h2.6M52.5 30h4.9M66 30h3M75 30h3M81 30h3M87 30h3.1M102.3 30h6.2M111.5 30h3M123.5 30h3M146.1 30h2.7M156.6 30h2.3M188.1 30h2.6M194.6 30h1.4M0 54h1.1M5.1 54h4.1M29.7 54h2.3M34.2 54h2.3M39 54h2.5M50.9 54h1.6M60.2 54h3M66 54h3M75 54h3M102.3 54h3.2M111.5 54h6M126.5 54h11.6M143.5 54h2.6M151.5 54h2.5M165.8 54h2.1M170.2 54h2M177.7 54h1.8M184.1 54h1.7M189.4 54h1.3M193.3 54h2.7M2.5 55h2.6M7.7 55h1.5M17.9 55h3.7M39 55h2.5M66 55h6M75 55h3M93.2 55h3M99.2 55h6.3M126.5 55h6M172.2 55h1.8M182.6 55h3.2M188.1 55h1.3M0 56h1.1M7.7 56h3.5M12.9 56h1.5M25.6 56h2.1M34.2 56h2.3M39 56h2.5M44.1 56h2.7M50.9 56h1.6M69 56h3M90.1 56h12.2M105.5 56h3M120.5 56h3M140.9 56h2.6M148.8 56h2.7M154 56h2.6M165.8 56h4.4M177.7 56h4.9M184.1 56h1.7M187.1 56h1M192 56h1.3M3.8 57h1.3M9.2 57h2M16.1 57h1.8M32 57h2.2M36.5 57h2.5M46.8 57h5.7M57.4 57h2.8M63.2 57h2.8M96.2 57h3M105.5 57h6M123.5 57h3M129.5 57h5.8M151.5 57h5.1M163.6 57h2.2M175.8 57h1.9M192 57h2.6M6.4 58h1.3M11.2 58h1.7M19.8 58h3.7M29.7 58h2.3M34.2 58h4.8M46.8 58h2.3M54.7 58h5.5M63.2 58h5.8M81 58h3M96.2 58h3M120.5 58h6M158.9 58h2.3M189.4 58h1.3M11.2 59h1.7M14.4 59h1.7M27.7 59h2M32 59h7M63.2 59h2.8M87 59h6.2M96.2 59h3M105.5 59h6M143.5 59h2.6M161.2 59h2.4M170.2 59h2M187.1 59h1M5.1 60h1.3M16.1 60h1.8M25.6 60h2.1M49.1 60h1.8M78 60h3M84 60h3M93.2 60h3M99.2 60h6.3M108.5 60h3M123.5 60h3M163.6 60h2.2M174 60h1.8M181.2 60h1.4M17.9 61h5.6M27.7 61h4.3M34.2 61h2.3M57.4 61h2.8M87 61h6.2M105.5 61h3M120.5 61h3M132.5 61h2.8M156.6 61h2.3M172.2 61h1.8M181.2 61h1.4M187.1 61h1M7.7 62h1.5M14.4 62h1.7M32 62h4.5M44.1 62h2.7M50.9 62h1.6M72 62h3M108.5 62h3M129.5 62h3M143.5 62h2.6M161.2 62h2.4M175.8 62h1.9M188.1 62h1.3M36.5 63h2.5M41.5 63h2.6M49.1 63h3.4M66 63h9M87 63h3.1M114.5 63h3M135.3 63h2.8M140.9 63h2.6M179.5 63h3.1M194.6 63h1.4M7.7 64h1.5M23.5 64h2.1M49.1 64h1.8M90.1 64h3.1M117.5 64h3M135.3 64h2.8M143.5 64h2.6M175.8 64h6.8M25.6 65h2.1M32 65h2.2M46.8 65h2.3M108.5 65h3M117.5 65h3M140.9 65h5.2M188.1 65h1.3M11.2 66h1.7M17.9 66h1.9M36.5 66h5M63.2 66h5.8M72 66h3M129.5 66h3M143.5 66h2.6M190.7 66h1.3M16.1 67h1.8M23.5 67h2.1M36.5 67h2.5M75 67h3M81 67h3M93.2 67h3M102.3 67h3.2M146.1 67h5.4M161.2 67h2.4M1.1 68h1.4M23.5 68h2.1M44.1 68h2.7M66 68h3M148.8 68h2.7M154 68h2.6M163.6 68h2.2M181.2 68h1.4M184.1 68h1.7M32 69h2.2M99.2 69h3.1M135.3 69h2.8M184.1 69h1.7M190.7 69h1.3M5.1 70h1.3M39 70h2.5M72 70h3M93.2 70h3M111.5 70h3M146.1 70h2.7M175.8 70h1.9M189.4 70h1.3M16.1 71h1.8M29.7 71h2.3M123.5 71h3M161.2 71h2.4M167.9 71h2.3M3.8 72h1.3M39 72h2.5M69 73h3M87 73h3.1M167.9 73h2.3M185.8 73h1.3M72 74h3M87 74h3.1M60.2 75h3M117.5 75h3M143.5 75h5.3M154 75h2.6M161.2 75h2.4M135.3 76h2.8M188.1 76h1.3M102.3 77h3.2M138.1 77h2.8M60.2 79h3M158.9 80h2.3M188.1 80h1.3M182.6 81h1.5M120.5 83h3M50.9 85h1.6M138.1 85h2.8M165.8 85h2.1M3.8 87h1.3M189.4 87h1.3"/>
<path stroke="#910fa3" d="M9.2 21h2M69 23h3M148.8 23h2.7M126.5 24h3M6.4 25h1.3M114.5 25h3M126.5 25h3M192 25h1.3M99.2 26h3.1M120.5 26h3M175.8 26h1.9M194.6 27h1.4M17.9 28h1.9M27.7 28h2M148.8 28h2.7M161.2 28h2.4M179.5 28h1.7M12.9 29h1.5M23.5 29h2.1M72 29h3M140.9 29h2.6M148.8 29h2.7M156.6 29h2.3M167.9 29h2.3M177.7 29h1.8M5.1 55h1.3M57.4 55h2.8M158.9 55h2.3M27.7 56h4.3M41.5 56h2.6M63.2 56h5.8M111.5 56h3M126.5 56h3M143.5 56h2.6M151.5 56h2.5M182.6 56h1.5M81 57h3M102.3 57h3.2M126.5 57h3M148.8 57h2.7M156.6 57h2.3M182.6 57h1.5M190.7 57h1.3M60.2 58h3M132.5 58h2.8M167.9 58h2.3M129.5 59h3M192 59h1.3M29.7 60h2.3M143.5 60h2.6M170.2 60h2M182.6 60h1.5M96.2 62h3M148.8 64h2.7M184.1 65h1.7M1.1 67h1.4M0 70h1.1"/>
<path stroke="#ab2594" d="M7.7 27h1.5M44.1 36h5M50.9 36h1.6M175.8 36h1.9M114.5 55h3M161.2 55h2.4M177.7 55h1.8M189.4 55h1.3M87 58h3.1M23.5 60h2.1M96.2 63h3"/>
<path stroke="#bf3a83" d="M0 30h1.1M7.7 30h1.5M44.1 30h2.7"/>
<path stroke="#360598" d="M2.5 30h2.6M16.1 30h1.8M19.8 30h7.9M57.4 30h5.8M72 30h3M84 30h3M117.5 30h6M126.5 30h3M143.5 30h2.6M151.5 30h5.1M158.9 30h2.3M174 30h1.8M182.6 30h3.2M187.1 30h1M190.7 30h1.3M2.5 54h2.6M12.9 54h1.5M16.1 54h5.5M23.5 54h4.2M52.5 54h2.2M72 54h3M84 54h3M90.1 54h3.1M99.2 54h3.1M140.9 54h2.6M148.8 54h2.7M175.8 54h1.9M181.2 54h1.4M185.8 54h2.3"/>
<path stroke="#900ea3" d="M5.1 30h2.6M36.5 30h2.5M46.8 30h2.3M63.2 30h2.8M99.2 30h3.1M135.3 30h8.2M177.7 30h1.8M185.8 30h1.3M192 30h2.6M9.2 54h3.7M14.4 54h1.7M27.7 54h2M36.5 54h2.5M46.8 54h4.1M54.7 54h2.7M78 54h3M87 54h3.1M154 54h4.9M161.2 54h2.4M167.9 54h2.3M182.6 54h1.5M192 54h1.3"/>
<path stroke="#7404a7" d="M11.2 30h1.7M27.7 30h2M32 30h4.5M39 30h2.5M49.1 30h3.4M69 30h3M78 30h3M90.1 30h3.1M114.5 30h3M129.5 30h3M148.8 30h2.7M161.2 30h2.4M165.8 30h4.4M179.5 30h1.7M0 41h1.1M2.5 41h1.3M11.2 41h1.7M21.6 41h1.9M27.7 41h2M34.2 41h2.3M60.2 41h3M66 41h3M99.2 41h9.3M111.5 41h3M151.5 41h5.1M158.9 41h2.3M170.2 41h2M175.8 41h5.4M32 54h2.2M44.1 54h2.7M57.4 54h2.8M63.2 54h2.8M69 54h3M81 54h3M93.2 54h3M105.5 54h3M120.5 54h6M138.1 54h2.8M163.6 54h2.2M172.2 54h3.6M179.5 54h1.7M188.1 54h1.3M190.7 54h1.3"/>
<path stroke="#0e0888" d="M14.4 30h1.7M29.7 30h2.3M93.2 30h3M132.5 30h2.8M163.6 30h2.2M181.2 30h1.4"/>
<path stroke="#aa2494" d="M96.2 30h3M108.5 30h3M170.2 30h3.8M175.8 30h1.9M117.5 54h3M146.1 54h2.7"/>
<path stroke="#a82295" d="M0 31h2.5M19.8 31h1.8M138.1 31h2.8M148.8 31h2.7M154 31h2.6M165.8 31h2.1M192 31h1.3M5.1 39h1.3M7.7 39h1.5M36.5 39h5M84 39h3M90.1 39h3.1M105.5 39h3M117.5 39h3M135.3 39h2.8M158.9 39h2.3M7.7 43h1.5M19.8 43h1.8M69 43h3M81 43h3M108.5 43h3M165.8 43h2.1M170.2 43h2M6.4 44h1.3M39 44h2.5M44.1 44h2.7M108.5 44h3M140.9 44h2.6M148.8 44h2.7M154 44h2.6M158.9 44h2.3M167.9 44h2.3M190.7 44h1.3M194.6 44h1.4M1.1 53h1.4M3.8 53h1.3M23.5 53h2.1M27.7 53h4.3M60.2 53h3M154 53h2.6"/>
<path stroke="#bd3785" d="M2.5 31h1.3M5.1 31h1.3M63.2 31h2.8M140.9 31h2.6M151.5 31h2.5M170.2 31h2M175.8 31h3.7M189.4 31h1.3M9.2 32h2M66 32h3M78 32h3M84 32h3M117.5 32h3M138.1 32h2.8M154 32h2.6M175.8 32h1.9M185.8 32h1.3M194.6 32h1.4M9.2 39h2M16.1 39h1.8M23.5 39h2.1M93.2 39h3M99.2 39h3.1M126.5 39h3M138.1 39h2.8M165.8 39h4.4M172.2 39h1.8M179.5 39h1.7M1.1 44h1.4M123.5 44h3M172.2 44h1.8M179.5 44h1.7M189.4 44h1.3M16.1 52h3.7M21.6 52h1.9M25.6 52h2.1M60.2 52h3M72 52h6M126.5 52h3M132.5 52h2.8M138.1 52h2.8M174 52h1.8M188.1 52h1.3M52.5 53h2.2M111.5 53h3M126.5 53h3M172.2 53h1.8M192 53h1.3"/>
<path stroke="#3b049a" d="M3.8 31h1.3M12.9 31h1.5M27.7 31h2M34.2 31h2.3M44.1 31h2.7M69 31h3M108.5 31h3M117.5 31h3M123.5 31h6M135.3 31h2.8M167.9 31h2.3M179.5 31h1.7M184.1 31h1.7M187.1 31h1M194.6 31h1.4"/>
<path stroke="#5902a4" d="M7.7 31h1.5M14.4 31h3.5M23.5 31h2.1M41.5 31h2.6M52.5 31h2.2M57.4 31h5.8M75 31h6M84 31h3M90.1 31h9.1M105.5 31h3M111.5 31h3M146.1 31h2.7M163.6 31h2.2M181.2 31h1.4"/>
<path stroke="#900ea4" d="M29.7 31h2.3M36.5 31h2.5M46.8 31h5.7M72 31h3M99.2 31h3.1M120.5 31h3M129.5 31h3M156.6 31h4.6M190.7 31h1.3M1.1 39h1.4M12.9 39h1.5M19.8 39h3.7M27.7 39h2M32 39h2.2M52.5 39h2.2M63.2 39h5.8M72 39h3M96.2 39h3M114.5 39h3M140.9 39h5.2M148.8 39h5.2M156.6 39h2.3M185.8 39h2.3M190.7 39h1.3M0 44h1.1M5.1 44h1.3M9.2 44h2M12.9 44h1.5M21.6 44h1.9M25.6 44h2.1M29.7 44h2.3M41.5 44h2.6M52.5 44h2.2M57.4 44h2.8M72 44h3M93.2 44h6M156.6 44h2.3M170.2 44h2M182.6 44h1.5"/>
<path stroke="#cf4c75" d="M66 31h3M193.3 31h1.3"/>
<path stroke="#ab2494" d="M0 32h1.1M11.2 32h1.7M17.9 32h1.9M52.5 32h2.2M69 32h3M87 32h3.1M93.2 32h3M140.9 32h10.6M167.9 32h2.3M172.2 32h3.6M184.1 32h1.7"/>
<path stroke="#ce4a76" d="M1.1 32h1.4M6.4 32h1.3M19.8 32h1.8M25.6 32h2.1M60.2 32h3M105.5 32h3M114.5 32h3M120.5 32h6M161.2 32h2.4M165.8 32h2.1M181.2 32h1.4M21.6 38h1.9M165.8 38h2.1M0 45h2.5M39 45h2.5M44.1 45h2.7M63.2 45h2.8M132.5 45h2.8M156.6 45h2.3M184.1 45h1.7M7.7 52h1.5M39 52h2.5M54.7 52h2.7M84 52h3M108.5 52h3M114.5 52h3M167.9 52h2.3M179.5 52h1.7M189.4 52h1.3"/>
<path stroke="#7d07a6" d="M2.5 32h1.3M29.7 32h2.3M34.2 32h2.3M50.9 32h1.6M75 32h3M132.5 32h5.6M151.5 32h2.5M192 32h1.3"/>
<path stroke="#2a0693" d="M3.8 32h1.3M96.2 32h3M156.6 32h2.3"/>
<path stroke="#9412a1" d="M5.1 32h1.3M7.7 32h1.5M12.9 32h1.5M16.1 32h1.8M21.6 32h4M39 32h2.5M46.8 32h4.1M63.2 32h2.8M90.1 32h3.1M99.2 32h3.1M163.6 32h2.2M187.1 32h2.3M193.3 32h1.3"/>
<path stroke="#e87158" d="M14.4 32h1.7M36.5 32h2.5M41.5 32h5.3M57.4 32h2.8M108.5 32h3M170.2 32h2"/>
<path stroke="#6401a6" d="M27.7 32h2M81 32h3M102.3 32h3.2M177.7 32h1.8M182.6 32h1.5M190.7 32h1.3"/>
<path stroke="#49039f" d="M32 32h2.2M72 32h3M129.5 32h3"/>
<path stroke="#f99c3c" d="M54.7 32h2.7"/>
<path stroke="#dc5d67" d="M111.5 32h3M126.5 32h3M158.9 32h2.3M179.5 32h1.7M189.4 32h1.3M9.2 38h2M81 38h3M174 38h1.8M66 52h3M90.1 52h3.1"/>
<path stroke="#b52e8d" d="M0 33h1.1M19.8 33h1.8M32 33h2.2M54.7 33h2.7M60.2 33h8.8M75 33h3M81 33h3M105.5 33h6M146.1 33h2.7M154 33h7.2M177.7 33h1.8M190.7 33h1.3"/>
<path stroke="#8e0da4" d="M1.1 33h1.4M11.2 33h1.7M16.1 33h3.7M36.5 33h2.5M172.2 33h1.8M192 33h1.3M25.6 48h2.1M72 48h3"/>
<path stroke="#e97357" d="M2.5 33h2.6M46.8 33h2.3M114.5 33h3M161.2 33h2.4M170.2 33h2M187.1 33h1M41.5 45h2.6M69 45h3M93.2 45h3M102.3 45h3.2"/>
<path stroke="#d25071" d="M5.1 33h1.3M34.2 33h2.3M72 33h3M93.2 33h6M102.3 33h3.2M138.1 33h2.8M148.8 33h2.7M174 33h1.8M181.2 33h2.9M188.1 33h1.3"/>
<path stroke="#df6165" d="M6.4 33h1.3M9.2 33h2M25.6 33h2.1M41.5 33h2.6M117.5 33h3M167.9 33h2.3M185.8 33h1.3"/>
<path stroke="#c43f7f" d="M7.7 33h1.5M12.9 33h3.2M29.7 33h2.3M50.9 33h3.8M57.4 33h2.8M69 33h3M87 33h6.2M111.5 33h3M120.5 33h3M132.5 33h2.8M140.9 33h2.6M151.5 33h2.5M163.6 33h4.3M189.4 33h1.3"/>
<path stroke="#f2864a" d="M21.6 33h1.9M39 33h2.5M99.2 33h3.1M123.5 33h3"/>
<path stroke="#a21d99" d="M23.5 33h2.1M44.1 33h2.7M78 33h3M179.5 33h1.7"/>
<path stroke="#7905a6" d="M27.7 33h2M126.5 33h3M143.5 33h2.6M52.5 34h2.2M9.2 45h2M23.5 45h2.1M29.7 45h2.3M66 45h3M90.1 45h3.1M99.2 45h3.1M108.5 45h3M120.5 45h3M135.3 45h2.8M140.9 45h2.6M174 45h1.8M179.5 45h1.7M182.6 45h1.5"/>
<path stroke="#fcc629" d="M49.1 33h1.8M84 33h3"/>
<path stroke="#fcae32" d="M129.5 33h3M193.3 33h1.3M29.7 47h2.3M50.9 47h1.6M63.2 47h2.8M156.6 47h2.3"/>
<path stroke="#f8993e" d="M135.3 33h2.8M175.8 33h1.9M184.1 33h1.7"/>
<path stroke="#6201a6" d="M194.6 33h1.4"/>
<path stroke="#f48b47" d="M0 34h1.1M2.5 34h1.3M34.2 34h2.3M75 34h3M99.2 34h3.1M111.5 34h3M189.4 34h1.3M193.3 34h1.3"/>
<path stroke="#e3695f" d="M1.1 34h1.4M11.2 34h1.7M21.6 34h4M32 34h2.2M39 34h2.5M57.4 34h2.8M78 34h3M105.5 34h3M129.5 34h3M140.9 34h2.6M148.8 34h2.7M161.2 34h2.4M172.2 34h1.8M192 34h1.3M194.6 34h1.4"/>
<path stroke="#f99d3b" d="M3.8 34h1.3M12.9 34h1.5M16.1 34h1.8M117.5 34h3M165.8 34h2.1M188.1 34h1.3"/>
<path stroke="#c03a83" d="M5.1 34h1.3M9.2 34h2M44.1 34h2.7M96.2 34h3M102.3 34h3.2M177.7 34h1.8"/>
<path stroke="#8d0ca4" d="M6.4 34h1.3"/>
<path stroke="#ed7a52" d="M7.7 34h1.5M72 34h3M81 34h3M108.5 34h3M114.5 34h3M126.5 34h3M151.5 34h2.5M156.6 34h2.3M163.6 34h2.2M179.5 34h1.7M185.8 34h1.3M190.7 34h1.3M146.1 42h2.7"/>
<path stroke="#ce4976" d="M14.4 34h1.7M19.8 34h1.8M41.5 34h2.6M46.8 34h2.3M93.2 34h3M138.1 34h2.8M143.5 34h2.6M181.2 34h2.9"/>
<path stroke="#d9596b" d="M17.9 34h1.9M27.7 34h2M36.5 34h2.5M54.7 34h2.7M63.2 34h2.8M90.1 34h3.1M120.5 34h3M154 34h2.6M158.9 34h2.3M174 34h3.7"/>
<path stroke="#fcb131" d="M25.6 34h2.1M29.7 34h2.3M50.9 34h1.6M66 34h6M167.9 34h2.3"/>
<path stroke="#b12a90" d="M49.1 34h1.8M123.5 34h3M146.1 34h2.7M184.1 34h1.7M6.4 51h6.5M36.5 51h2.5M52.5 51h2.2M57.4 51h5.8M132.5 51h2.8M148.8 51h5.2M179.5 51h1.7M184.1 51h1.7M187.1 51h2.3M190.7 51h1.3M193.3 51h1.3"/>
<path stroke="#9f1b9b" d="M60.2 34h3M170.2 34h2"/>
<path stroke="#fcc728" d="M84 34h3M174 43h1.8M170.2 51h2"/>
<path stroke="#f0f921" d="M87 34h3.1M108.5 35h3M165.8 35h2.1M75 36h3M75 49h3M177.7 49h1.8M12.9 50h1.5"/>
<path stroke="#f8dd24" d="M132.5 34h2.8M187.1 34h1M25.6 47h2.1"/>
<path stroke="#f1f421" d="M135.3 34h2.8"/>
<path stroke="#fcc927" d="M0 35h1.1M34.2 35h2.3M129.5 35h3"/>
<path stroke="#cf4b75" d="M1.1 35h1.4M12.9 35h1.5M44.1 35h2.7M49.1 35h1.8M69 35h3M75 35h3M93.2 35h3M140.9 35h5.2M181.2 35h1.4M185.8 35h1.3M192 35h1.3M194.6 35h1.4M54.7 39h2.7M161.2 39h2.4M27.7 44h2M32 44h2.2M87 44h3.1M36.5 46h2.5M41.5 46h2.6M69 46h3M90.1 46h3.1M135.3 46h2.8M143.5 46h2.6M189.4 46h1.3"/>
<path stroke="#ee7c51" d="M2.5 35h1.3M11.2 35h1.7M21.6 35h1.9M29.7 35h4.5M41.5 35h2.6M57.4 35h5.8M81 35h6M90.1 35h3.1M111.5 35h3M117.5 35h3M123.5 35h6M138.1 35h2.8M146.1 35h2.7M151.5 35h7.4M177.7 35h1.8M189.4 35h1.3"/>
<path stroke="#e56b5d" d="M3.8 35h2.6M7.7 35h1.5M19.8 35h1.8M23.5 35h2.1M27.7 35h2M148.8 35h2.7M174 35h1.8M184.1 35h1.7M188.1 35h1.3M190.7 35h1.3"/>
<path stroke="#f58e45" d="M6.4 35h1.3M16.1 35h1.8M50.9 35h1.6M54.7 35h2.7M78 35h3M167.9 35h4.3"/>
<path stroke="#da5b69" d="M9.2 35h2M14.4 35h1.7M25.6 35h2.1M99.2 35h9.3M114.5 35h3M132.5 35h5.6M172.2 35h1.8M182.6 35h1.5M193.3 35h1.3"/>
<path stroke="#a11d99" d="M17.9 35h1.9M52.5 35h2.2"/>
<path stroke="#fcb430" d="M36.5 35h5M161.2 35h2.4M175.8 35h1.9"/>
<path stroke="#c23c81" d="M46.8 35h2.3M66 35h3M72 35h3M163.6 35h2.2M187.1 35h1M1.1 51h1.4M3.8 51h1.3M12.9 51h1.5M23.5 51h2.1M44.1 51h2.7M69 51h3M105.5 51h3M123.5 51h3M129.5 51h3M146.1 51h2.7M156.6 51h2.3M165.8 51h2.1M182.6 51h1.5"/>
<path stroke="#f1f721" d="M63.2 35h2.8"/>
<path stroke="#b32c8e" d="M87 35h3.1M179.5 35h1.7"/>
<path stroke="#faa03a" d="M96.2 35h3M120.5 35h3M158.9 35h2.3"/>
<path stroke="#e16462" d="M0 36h1.1M5.1 36h4.1M16.1 36h1.8M25.6 36h2.1M52.5 36h2.2M57.4 36h2.8M72 36h3M120.5 36h3M140.9 36h2.6M172.2 36h1.8M177.7 36h1.8M185.8 36h2.3"/>
<path stroke="#bb3587" d="M1.1 36h1.4M9.2 36h2M14.4 36h1.7M17.9 36h5.6M29.7 36h2.3M96.2 36h3M102.3 36h3.2M146.1 36h2.7M151.5 36h5.1M188.1 36h1.3M193.3 36h1.3"/>
<path stroke="#eb7655" d="M2.5 36h1.3M11.2 36h1.7M23.5 36h2.1M27.7 36h2M84 36h6.1M93.2 36h3M105.5 36h3M138.1 36h2.8M158.9 36h4.7M57.4 39h2.8M120.5 39h3"/>
<path stroke="#d6546e" d="M3.8 36h1.3M34.2 36h2.3M41.5 36h2.6M66 36h3M81 36h3M90.1 36h3.1M108.5 36h3M148.8 36h2.7M167.9 36h2.3M182.6 36h1.5"/>
<path stroke="#fcaf32" d="M12.9 36h1.5M69 36h3M126.5 36h3M143.5 36h2.6M189.4 36h1.3M1.1 50h1.4M5.1 50h2.6M9.2 50h2M27.7 50h2M46.8 50h2.3M96.2 50h3M148.8 50h5.2M19.8 51h1.8"/>
<path stroke="#ca457a" d="M32 36h2.2M36.5 36h2.5M54.7 36h2.7M78 36h3M111.5 36h3M132.5 36h2.8M174 36h1.8M181.2 36h1.4M190.7 36h2.6M194.6 36h1.4"/>
<path stroke="#8409a5" d="M39 36h2.5"/>
<path stroke="#f99b3d" d="M49.1 36h1.8M60.2 36h5.8M114.5 36h3M129.5 36h3M156.6 36h2.3M163.6 36h4.3M184.1 36h1.7M11.2 50h1.7M23.5 50h2.1M52.5 50h2.2M81 50h3M132.5 50h2.8M140.9 50h2.6M170.2 50h2M185.8 50h1.3"/>
<path stroke="#f38849" d="M99.2 36h3.1M123.5 36h3M170.2 36h2M179.5 36h1.7M27.7 52h2"/>
<path stroke="#98159f" d="M117.5 36h3M135.3 36h2.8"/>
<path stroke="#9b179d" d="M0 37h1.1M14.4 37h3.5M27.7 37h2M52.5 37h2.2M60.2 37h3M99.2 37h3.1M158.9 37h2.3M167.9 37h2.3M0 50h1.1M102.3 50h3.2M138.1 50h2.8"/>
<path stroke="#b02991" d="M1.1 37h1.4M17.9 37h1.9M23.5 37h2.1M29.7 37h4.5M50.9 37h1.6M57.4 37h2.8M108.5 37h3M114.5 37h3M123.5 37h6M132.5 37h2.8M138.1 37h2.8M146.1 37h2.7M154 37h2.6M181.2 37h1.4M184.1 37h1.7"/>
<path stroke="#f2854b" d="M2.5 37h1.3M5.1 37h1.3M7.7 37h1.5M12.9 37h1.5M21.6 37h1.9M46.8 37h2.3M90.1 37h3.1M185.8 37h1.3"/>
<path stroke="#fcc827" d="M3.8 37h1.3M6.4 48h1.3M29.7 48h2.3M138.1 48h2.8"/>
<path stroke="#3d049b" d="M6.4 37h1.3M170.2 37h2"/>
<path stroke="#e87159" d="M9.2 37h2M44.1 37h2.7M49.1 37h1.8M54.7 37h2.7M66 37h3M135.3 37h2.8M143.5 37h2.6M151.5 37h2.5M27.7 46h2M117.5 46h3"/>
<path stroke="#860aa5" d="M11.2 37h1.7M69 37h3M156.6 37h2.3M172.2 37h1.8M187.1 37h1M189.4 37h3.9"/>
<path stroke="#d04d74" d="M19.8 37h1.8M41.5 37h2.6M81 37h3M87 37h3.1M96.2 37h3M102.3 37h3.2M161.2 37h6.7M182.6 37h1.5M193.3 37h1.3M6.4 40h1.3M123.5 40h3M1.1 43h1.4"/>
<path stroke="#dd5e66" d="M25.6 37h2.1M39 37h2.5M78 37h3M111.5 37h3M117.5 37h6M177.7 37h1.8"/>
<path stroke="#fcb032" d="M34.2 37h2.3"/>
<path stroke="#c13b82" d="M36.5 37h2.5M63.2 37h2.8M72 37h3M84 37h3M93.2 37h3M129.5 37h3M140.9 37h2.6M175.8 37h1.9M179.5 37h1.7M194.6 37h1.4M32 48h2.2M69 48h3M84 48h3M90.1 48h3.1M129.5 48h3M182.6 48h3.2M192 48h1.3M25.6 55h2.1M135.3 55h2.8M189.4 56h1.3"/>
<path stroke="#6f02a7" d="M75 37h3M148.8 37h2.7M174 37h1.8M188.1 37h1.3"/>
<path stroke="#f89a3e" d="M105.5 37h3M5.1 47h1.3M123.5 47h6"/>
<path stroke="#bd3786" d="M0 38h1.1M5.1 38h1.3M12.9 38h1.5M44.1 38h5M87 38h6.2M138.1 38h2.8M158.9 38h2.3M187.1 38h1M29.7 50h2.3M44.1 50h2.7M63.2 50h2.8M99.2 50h3.1M105.5 50h3M129.5 50h3M146.1 50h2.7M167.9 50h2.3M172.2 50h1.8M192 50h1.3"/>
<path stroke="#230690" d="M1.1 38h1.4"/>
<path stroke="#7a06a6" d="M2.5 38h2.6M36.5 38h7.6M63.2 38h8.8M99.2 38h9.3M120.5 38h3M135.3 38h2.8M146.1 38h2.7M151.5 38h2.5M156.6 38h2.3M163.6 38h2.2M170.2 38h2M175.8 38h1.9M184.1 38h3M190.7 38h1.3M194.6 38h1.4M0 52h1.1M19.8 52h1.8M44.1 52h2.7M63.2 52h2.8M69 52h3M81 52h3M99.2 52h3.1M148.8 52h2.7M161.2 52h2.4M181.2 52h1.4M190.7 52h2.6M194.6 52h1.4"/>
<path stroke="#6001a5" d="M6.4 38h1.3M25.6 38h2.1M29.7 38h2.3M93.2 38h3M111.5 38h3M126.5 38h3M177.7 38h1.8"/>
<path stroke="#a92395" d="M7.7 38h1.5M17.9 38h1.9M27.7 38h2M34.2 38h2.3M52.5 38h2.2M72 38h3M84 38h3M117.5 38h3M129.5 38h5.8M140.9 38h5.2M148.8 38h2.7M154 38h2.6M6.4 41h1.3M32 41h2.2M72 41h3M126.5 41h3M167.9 41h2.3M181.2 41h1.4M185.8 41h1.3M193.3 41h2.7M6.4 45h2.8M32 45h2.2M36.5 45h2.5M46.8 45h2.3M60.2 45h3M72 45h9M84 45h6.1M96.2 45h3M111.5 45h3M123.5 45h3M129.5 45h3M143.5 45h2.6M161.2 45h2.4M187.1 45h1M1.1 52h2.7M5.1 52h1.3M9.2 52h2M14.4 52h1.7M34.2 52h4.8M41.5 52h2.6M46.8 52h2.3M52.5 52h2.2M57.4 52h2.8M102.3 52h3.2M111.5 52h3M120.5 52h3M129.5 52h3M135.3 52h2.8M143.5 52h2.6M151.5 52h5.1M158.9 52h2.3M177.7 52h1.8M185.8 52h2.3"/>
<path stroke="#9210a2" d="M11.2 38h1.7M14.4 38h3.5M19.8 38h1.8M23.5 38h2.1M32 38h2.2M49.1 38h3.4M60.2 38h3M75 38h6M96.2 38h3M114.5 38h3M123.5 38h3M161.2 38h2.4M172.2 38h1.8M179.5 38h1.7M182.6 38h1.5M192 38h2.6"/>
<path stroke="#45049e" d="M54.7 38h2.7M108.5 38h3M181.2 38h1.4M188.1 38h1.3"/>
<path stroke="#e97258" d="M57.4 38h2.8M167.9 38h2.3M189.4 38h1.3"/>
<path stroke="#17078b" d="M0 39h1.1M46.8 39h2.3M69 39h3M146.1 39h2.7M2.5 44h1.3M151.5 44h2.5M174 44h1.8M193.3 44h1.3"/>
<path stroke="#5a02a4" d="M2.5 39h1.3M11.2 39h1.7M17.9 39h1.9M41.5 39h2.6M75 39h3M81 39h3M102.3 39h3.2M108.5 39h6M154 39h2.6M163.6 39h2.2M177.7 39h1.8M182.6 39h1.5M189.4 39h1.3M193.3 39h1.3M7.7 44h1.5M11.2 44h1.7M16.1 44h1.8M23.5 44h2.1M36.5 44h2.5M46.8 44h2.3M50.9 44h1.6M69 44h3M78 44h3M120.5 44h3M126.5 44h3M161.2 44h4.6M187.1 44h2.3M192 44h1.3M54.7 51h2.7M194.6 51h1.4"/>
<path stroke="#de6065" d="M3.8 39h1.3M49.1 44h1.8M117.5 44h3"/>
<path stroke="#7604a7" d="M6.4 39h1.3M14.4 39h1.7M44.1 39h2.7M49.1 39h3.4M78 39h3M123.5 39h3M129.5 39h3M170.2 39h2M174 39h1.8M184.1 39h1.7M192 39h1.3M3.8 44h1.3M14.4 44h1.7M19.8 44h1.8M54.7 44h2.7M60.2 44h8.8M75 44h3M81 44h6M99.2 44h3.1M105.5 44h3M129.5 44h8.6M143.5 44h5.3M177.7 44h1.8M181.2 44h1.4"/>
<path stroke="#3c049b" d="M25.6 39h2.1M29.7 39h2.3M34.2 39h2.3M60.2 39h3M87 39h3.1M132.5 39h2.8M175.8 39h1.9M181.2 39h1.4M188.1 39h1.3M194.6 39h1.4M17.9 44h1.9M34.2 44h2.3M90.1 44h3.1M102.3 44h3.2M111.5 44h6M138.1 44h2.8M165.8 44h2.1M175.8 44h1.9M184.1 44h1.7"/>
<path stroke="#380599" d="M0 40h1.1M7.7 40h3.5M21.6 40h1.9M41.5 40h2.6M49.1 40h1.8M99.2 40h3.1M111.5 40h3M132.5 40h2.8M143.5 40h2.6M179.5 40h1.7M185.8 40h1.3M193.3 40h1.3M0 42h1.1M21.6 42h1.9M50.9 42h1.6M69 42h3M75 42h3M105.5 42h3M143.5 42h2.6M172.2 42h1.8M175.8 42h1.9M181.2 42h1.4M187.1 42h1"/>
<path stroke="#130889" d="M1.1 40h1.4M29.7 40h2.3M44.1 40h2.7M50.9 40h1.6M93.2 40h3M120.5 40h3M129.5 40h3M194.6 40h1.4M36.5 43h2.5M156.6 43h2.3M192 43h1.3"/>
<path stroke="#5802a3" d="M2.5 40h1.3M11.2 40h1.7M14.4 40h1.7M23.5 40h4.2M32 40h4.5M46.8 40h2.3M66 40h3M81 40h3M90.1 40h3.1M138.1 40h5.4M146.1 40h7.9M158.9 40h2.3M167.9 40h2.3M189.4 40h2.6M7.7 41h3.5M14.4 41h3.5M44.1 41h5M57.4 41h2.8M63.2 41h2.8M84 41h3M108.5 41h3M114.5 41h3M129.5 41h3M138.1 41h2.8M148.8 41h2.7M172.2 41h1.8M182.6 41h1.5M190.7 41h2.6M2.5 42h1.3M5.1 42h1.3M9.2 42h3.7M27.7 42h2M32 42h2.2M54.7 42h5.5M81 42h3M87 42h6.2M126.5 42h6M140.9 42h2.6M154 42h2.6M158.9 42h2.3M163.6 42h4.3M174 42h1.8M189.4 42h1.3M6.4 43h1.3M14.4 43h1.7M17.9 43h1.9M23.5 43h2.1M39 43h7.8M49.1 43h1.8M52.5 43h2.2M57.4 43h2.8M66 43h3M87 43h6.2M99.2 43h3.1M105.5 43h3M143.5 43h2.6M148.8 43h7.8M177.7 43h3.5M184.1 43h1.7M188.1 43h1.3M190.7 43h1.3M194.6 43h1.4"/>
<path stroke="#900da4" d="M3.8 40h1.3M12.9 40h1.5M17.9 40h1.9M54.7 40h2.7M72 40h6M102.3 40h3.2M117.5 40h3M126.5 40h3M135.3 40h2.8M154 40h2.6M184.1 40h1.7M25.6 41h2.1M49.1 41h5.6M69 41h3M75 41h6M87 41h3.1M123.5 41h3M132.5 41h2.8M143.5 41h2.6M156.6 41h2.3M174 41h1.8M184.1 41h1.7M189.4 41h1.3M1.1 42h1.4M19.8 42h1.8M23.5 42h2.1M34.2 42h2.3M44.1 42h2.7M49.1 42h1.8M63.2 42h5.8M84 42h3M96.2 42h9.3M114.5 42h3M123.5 42h3M132.5 42h2.8M138.1 42h2.8M148.8 42h5.2M177.7 42h3.5M193.3 42h2.7M16.1 43h1.8M21.6 43h1.9M46.8 43h2.3M75 43h6M84 43h3M93.2 43h6M102.3 43h3.2M167.9 43h2.3M182.6 43h1.5M12.9 53h3.2M49.1 53h1.8M57.4 53h2.8M69 53h3M81 53h3M108.5 53h3M148.8 53h2.7M184.1 53h1.7"/>
<path stroke="#be3885" d="M19.8 40h1.8M69 40h3M87 40h3.1M181.2 40h1.4M11.2 43h1.7M111.5 43h3M172.2 43h1.8"/>
<path stroke="#a82395" d="M27.7 40h2M39 40h2.5M96.2 40h3M108.5 40h3M163.6 40h4.3M17.9 42h1.9M25.6 42h2.1M39 42h2.5M108.5 42h6M156.6 42h2.3"/>
<path stroke="#df6264" d="M156.6 40h2.3"/>
<path stroke="#d14d73" d="M1.1 41h1.4M5.1 41h1.3M12.9 42h1.5M185.8 42h1.3M188.1 42h1.3M17.9 51h1.9M21.6 51h1.9M46.8 51h2.3M75 51h3M87 51h3.1M108.5 51h3M135.3 51h2.8M163.6 51h2.2M167.9 51h2.3"/>
<path stroke="#be3884" d="M3.8 41h1.3M39 41h2.5M90.1 41h3.1M117.5 41h3M14.4 42h1.7M170.2 42h2"/>
<path stroke="#370599" d="M12.9 41h1.5M17.9 41h3.7M36.5 41h2.5M41.5 41h2.6M54.7 41h2.7M96.2 41h3M120.5 41h3M135.3 41h2.8M140.9 41h2.6M146.1 41h2.7M161.2 41h2.4M165.8 41h2.1M187.1 41h2.3"/>
<path stroke="#110889" d="M23.5 41h2.1M29.7 41h2.3M81 41h3M93.2 41h3M163.6 41h2.2M36.5 42h2.5M78 42h3M93.2 42h3M182.6 42h1.5M192 42h1.3"/>
<path stroke="#f69242" d="M7.7 42h1.5"/>
<path stroke="#390599" d="M2.5 43h1.3M5.1 43h1.3M12.9 43h1.5M25.6 43h4.1M32 43h2.2M54.7 43h2.7M63.2 43h2.8M138.1 43h5.4M163.6 43h2.2M175.8 43h1.9M187.1 43h1"/>
<path stroke="#ec7953" d="M9.2 43h2"/>
<path stroke="#f58d45" d="M185.8 44h1.3"/>
<path stroke="#dc5e67" d="M2.5 45h1.3M14.4 46h1.7M63.2 46h5.8M120.5 46h3M163.6 46h2.2M170.2 46h2"/>
<path stroke="#43049e" d="M3.8 45h2.6M14.4 45h1.7M49.1 45h1.8M81 45h3M114.5 45h3M151.5 45h2.5M158.9 45h2.3M175.8 45h1.9"/>
<path stroke="#920fa2" d="M11.2 45h1.7M16.1 45h1.8M52.5 45h2.2M57.4 45h2.8M126.5 45h3M146.1 45h2.7M154 45h2.6M163.6 45h4.3M170.2 45h2M185.8 45h1.3M188.1 45h1.3M190.7 45h3.9"/>
<path stroke="#bd3686" d="M12.9 45h1.5M17.9 45h5.6M27.7 45h2M34.2 45h2.3M54.7 45h2.7M105.5 45h3M148.8 45h2.7M167.9 45h2.3M172.2 45h1.8M177.7 45h1.8M194.6 45h1.4"/>
<path stroke="#5f01a5" d="M25.6 45h2.1M50.9 45h1.6M117.5 45h3M181.2 45h1.4M189.4 45h1.3"/>
<path stroke="#f38948" d="M138.1 45h2.8M49.1 50h3.4M93.2 50h3M156.6 50h2.3M163.6 50h2.2M187.1 50h1M193.3 50h1.3"/>
<path stroke="#8209a5" d="M0 46h1.1M21.6 46h1.9M52.5 46h2.2M72 46h3M123.5 46h3M146.1 46h2.7M161.2 46h2.4M167.9 46h2.3M192 46h1.3"/>
<path stroke="#ae2792" d="M1.1 46h1.4M3.8 46h1.3M6.4 46h1.3M11.2 46h1.7M17.9 46h1.9M46.8 46h2.3M50.9 46h1.6M54.7 46h2.7M99.2 46h3.1M126.5 46h6M148.8 46h5.2M172.2 46h1.8M181.2 46h1.4M184.1 46h3M194.6 46h1.4"/>
<path stroke="#bf3983" d="M2.5 46h1.3M7.7 46h1.5M12.9 46h1.5M19.8 46h1.8M23.5 46h4.2M32 46h2.2M39 46h2.5M44.1 46h2.7M49.1 46h1.8M84 46h3M93.2 46h3M105.5 46h6M165.8 46h2.1M177.7 46h1.8M187.1 46h1M158.9 54h2.3"/>
<path stroke="#5202a1" d="M5.1 46h1.3M60.2 46h3M132.5 46h2.8"/>
<path stroke="#99159e" d="M9.2 46h2M16.1 46h1.8M29.7 46h2.3M81 46h3M102.3 46h3.2M114.5 46h3M138.1 46h5.4M158.9 46h2.3M174 46h3.7M179.5 46h1.7M188.1 46h1.3"/>
<path stroke="#f6e523" d="M34.2 46h2.3M57.4 46h2.8"/>
<path stroke="#f2854a" d="M75 46h3M87 46h3.1M111.5 46h3M193.3 46h1.3M41.5 51h2.6M78 51h3M84 51h3M138.1 51h5.4"/>
<path stroke="#6b00a8" d="M78 46h3M96.2 46h3M182.6 46h1.5"/>
<path stroke="#f99a3d" d="M154 46h2.6M190.7 46h1.3"/>
<path stroke="#fcca27" d="M156.6 46h2.3"/>
<path stroke="#c7427d" d="M0 47h1.1M87 47h6.2M96.2 47h3M146.1 47h2.7M165.8 47h2.1"/>
<path stroke="#ea7456" d="M1.1 47h2.7M7.7 47h1.5M32 47h2.2M72 47h6M84 47h3M99.2 47h3.1M111.5 47h6M154 47h2.6M161.2 47h2.4M167.9 47h2.3M177.7 47h1.8M184.1 47h1.7M193.3 47h1.3"/>
<path stroke="#7e07a6" d="M3.8 47h1.3M21.6 47h1.9M129.5 47h3M181.2 47h1.4"/>
<path stroke="#d45270" d="M6.4 47h1.3M9.2 47h2M17.9 47h3.7M39 47h2.5M44.1 47h2.7M52.5 47h2.2M69 47h3M140.9 47h2.6M170.2 47h2M174 47h1.8M182.6 47h1.5M194.6 47h1.4"/>
<path stroke="#fcc529" d="M11.2 47h1.7M143.5 47h2.6M148.8 47h2.7M158.9 47h2.3M175.8 47h1.9M179.5 47h1.7M185.8 47h1.3M123.5 50h3"/>
<path stroke="#a62196" d="M12.9 47h1.5M46.8 47h2.3M57.4 47h5.8M78 47h3M151.5 47h2.5M192 47h1.3"/>
<path stroke="#e06263" d="M14.4 47h3.5M49.1 47h1.8M81 47h3M93.2 47h3M102.3 47h3.2M108.5 47h3M120.5 47h3M132.5 47h2.8M138.1 47h2.8M189.4 47h1.3"/>
<path stroke="#b8318a" d="M23.5 47h2.1M36.5 47h2.5M54.7 47h2.7M66 47h3M105.5 47h3M163.6 47h2.2M187.1 47h1"/>
<path stroke="#f38749" d="M27.7 47h2M34.2 47h2.3M190.7 47h1.3"/>
<path stroke="#9310a2" d="M41.5 47h2.6M117.5 47h3M135.3 47h2.8M172.2 47h1.8M188.1 47h1.3M3.8 52h1.3M11.2 52h3.2M23.5 52h2.1M29.7 52h2.3M49.1 52h3.4M96.2 52h3M105.5 52h3M117.5 52h3M140.9 52h2.6M146.1 52h2.7M156.6 52h2.3M165.8 52h2.1M170.2 52h3.8M184.1 52h1.7M193.3 52h1.3"/>
<path stroke="#e46a5e" d="M0 48h1.1M16.1 48h1.8M41.5 48h2.6M50.9 48h3.8M60.2 48h3M93.2 48h3M99.2 48h3.1M123.5 48h3M148.8 48h2.7M165.8 48h2.1M174 48h3.7M185.8 48h1.3"/>
<path stroke="#b22b8f" d="M1.1 48h1.4M57.4 48h2.8M158.9 48h2.3"/>
<path stroke="#da5a6a" d="M2.5 48h1.3M36.5 48h2.5M54.7 48h2.7M75 48h3M96.2 48h3M120.5 48h3M151.5 48h2.5M170.2 48h2M179.5 48h1.7"/>
<path stroke="#fcb330" d="M3.8 48h1.3M7.7 48h1.5M63.2 48h2.8M132.5 48h2.8M146.1 48h2.7"/>
<path stroke="#f58d46" d="M5.1 48h1.3M14.4 48h1.7M23.5 48h2.1M27.7 48h2M44.1 48h2.7M140.9 48h5.2M167.9 48h2.3M181.2 48h1.4M190.7 48h1.3M193.3 48h1.3"/>
<path stroke="#ce4a75" d="M9.2 48h3.7M46.8 48h4.1M105.5 48h3M126.5 48h3M161.2 48h2.4M172.2 48h1.8M177.7 48h1.8"/>
<path stroke="#ed7b51" d="M12.9 48h1.5M17.9 48h3.7M34.2 48h2.3M39 48h2.5M66 48h3M108.5 48h6M154 48h4.9"/>
<path stroke="#fa9f3a" d="M21.6 48h1.9M78 48h6M102.3 48h3.2M163.6 48h2.2M187.1 48h3.6M194.6 48h1.4"/>
<path stroke="#f1f621" d="M87 48h3.1M117.5 48h3"/>
<path stroke="#f7df23" d="M114.5 48h3"/>
<path stroke="#a11c9a" d="M135.3 48h2.8"/>
<path stroke="#db5c68" d="M0 49h1.1M6.4 49h1.3M11.2 49h1.7M23.5 49h2.1M32 49h2.2M52.5 49h4.9M93.2 49h3M114.5 49h3M167.9 49h2.3M175.8 49h1.9M193.3 49h1.3"/>
<path stroke="#ee7d50" d="M1.1 49h1.4M5.1 49h1.3M9.2 49h2M29.7 49h2.3M49.1 49h1.8M81 49h3M126.5 49h3M146.1 49h2.7M158.9 49h2.3M163.6 49h2.2M172.2 49h1.8M179.5 49h1.7M185.8 49h1.3M190.7 49h1.3"/>
<path stroke="#e56c5c" d="M2.5 49h1.3M12.9 49h3.2M17.9 49h3.7M34.2 49h4.8M44.1 49h2.7M57.4 49h2.8M63.2 49h2.8M102.3 49h3.2M120.5 49h3M138.1 49h2.8M156.6 49h2.3M170.2 49h2M184.1 49h1.7M192 49h1.3"/>
<path stroke="#d04c74" d="M3.8 49h1.3M46.8 49h2.3M69 49h3M99.2 49h3.1M108.5 49h3M129.5 49h5.8M140.9 49h5.2M182.6 49h1.5M2.5 53h1.3M135.3 53h2.8M185.8 53h1.3"/>
<path stroke="#c23d80" d="M7.7 49h1.5M188.1 49h1.3"/>
<path stroke="#f58f44" d="M16.1 49h1.8M41.5 49h2.6M72 49h3M117.5 49h3M135.3 49h2.8M151.5 49h5.1M161.2 49h2.4M165.8 49h2.1M189.4 49h1.3"/>
<path stroke="#b42d8d" d="M21.6 49h1.9M148.8 49h2.7"/>
<path stroke="#fba139" d="M25.6 49h2.1M39 49h2.5M84 49h6.1M96.2 49h3M174 49h1.8M194.6 49h1.4"/>
<path stroke="#fccb26" d="M27.7 49h2M50.9 49h1.6M90.1 49h3.1M181.2 49h1.4"/>
<path stroke="#f7e223" d="M60.2 49h3M123.5 49h3M187.1 49h1"/>
<path stroke="#fcb52f" d="M66 49h3M105.5 49h3M111.5 49h3"/>
<path stroke="#a31e98" d="M78 49h3"/>
<path stroke="#d7566d" d="M2.5 50h2.6M7.7 50h1.5M16.1 50h1.8M25.6 50h2.1M36.5 50h2.5M90.1 50h3.1M117.5 50h3M143.5 50h2.6M161.2 50h2.4M165.8 50h2.1M181.2 50h1.4M189.4 50h1.3"/>
<path stroke="#e26661" d="M14.4 50h1.7M17.9 50h5.6M34.2 50h2.3M39 50h2.5M158.9 50h2.3M174 50h3.7M184.1 50h1.7M190.7 50h1.3"/>
<path stroke="#eb7754" d="M32 50h2.2M41.5 50h2.6M72 50h6M87 50h3.1M108.5 50h3M114.5 50h3M154 50h2.6M179.5 50h1.7M182.6 50h1.5"/>
<path stroke="#ad2792" d="M54.7 50h2.7M60.2 50h3M66 50h6M84 50h3M111.5 50h3M135.3 50h2.8"/>
<path stroke="#f2f322" d="M57.4 50h2.8"/>
<path stroke="#cb4679" d="M78 50h3M120.5 50h3M126.5 50h3M177.7 50h1.8M188.1 50h1.3M194.6 50h1.4"/>
<path stroke="#9d199c" d="M0 51h1.1M39 51h2.5M49.1 51h1.8M66 51h3M93.2 51h3M111.5 51h3M143.5 51h2.6M154 51h2.6M158.9 51h2.3M172.2 51h1.8M177.7 51h1.8"/>
<path stroke="#dd5f66" d="M2.5 51h1.3M29.7 51h2.3M50.9 51h1.6M63.2 51h2.8M99.2 51h6.3M161.2 51h2.4M174 51h1.8M181.2 51h1.4M185.8 51h1.3"/>
<path stroke="#880ba5" d="M5.1 51h1.3M14.4 51h1.7M25.6 51h4.1M34.2 51h2.3M72 51h3M96.2 51h3M114.5 51h3M126.5 51h3M192 51h1.3"/>
<path stroke="#7203a7" d="M16.1 51h1.8M117.5 51h3"/>
<path stroke="#e87258" d="M32 51h2.2M81 51h3M90.1 51h3.1M120.5 51h3M189.4 51h1.3M163.6 52h2.2M175.8 52h1.9"/>
<path stroke="#f7e123" d="M175.8 51h1.9"/>
<path stroke="#6101a6" d="M6.4 52h1.3M32 52h2.2M78 52h3M93.2 52h3M123.5 52h3M182.6 52h1.5"/>
<path stroke="#240691" d="M87 52h3.1"/>
<path stroke="#5902a3" d="M0 53h1.1M6.4 53h2.8M21.6 53h1.9M25.6 53h2.1M36.5 53h2.5M54.7 53h2.7M84 53h6.1M105.5 53h3M114.5 53h6M123.5 53h3M132.5 53h2.8M165.8 53h2.1M175.8 53h1.9M179.5 53h1.7M193.3 53h1.3"/>
<path stroke="#3a059a" d="M34.2 53h2.3M44.1 53h2.7M72 53h3M96.2 53h3M102.3 53h3.2M163.6 53h2.2M170.2 53h2M181.2 53h1.4M187.1 53h1"/>
<path stroke="#15078a" d="M41.5 53h2.6M90.1 53h3.1M129.5 53h3M177.7 53h1.8M188.1 53h1.3"/>
<path stroke="#0f0888" d="M1.1 54h1.4M21.6 54h1.9M41.5 54h2.6M96.2 54h3"/>
<path stroke="#d24f72" d="M108.5 54h3"/>
</g></svg>
<path d="M509.6 48V219.5M565.9 48V219.5M622.3 48V219.5M678.6 48V219.5M489 72.4H685M489 103H685M489 133.4H685M489 164H685M489 194.4H685" stroke="#d0d0e4" stroke-width="0.9" stroke-dasharray="1 1" fill="none" opacity="0.55"/>
<rect x="489.3" y="48.3" width="195.4" height="170.9" fill="none" stroke="#0a0640" stroke-width="0.8"/>
<path d="M489 72.4h3.5M489 103h3.5M489 133.4h3.5M489 164h3.5M489 194.4h3.5" stroke="#111" stroke-width="0.9" fill="none"/>
<text x="37.4" y="75.8" class="tk" text-anchor="end">0.2</text>
<text x="37.4" y="106.4" class="tk" text-anchor="end">0.1</text>
<text x="37.4" y="136.8" class="tk" text-anchor="end">0</text>
<text x="37.4" y="167.4" class="tk" text-anchor="end">−0.1</text>
<text x="37.4" y="197.8" class="tk" text-anchor="end">−0.2</text>
<text transform="translate(10.9 133.6) rotate(-90)" class="lb" text-anchor="middle">Exit angle, <tspan font-style="italic">ξ</tspan> (°)</text>
<path d="M62.5 251.8V337.2M119 251.8V337.2M175.5 251.8V337.2M232 251.8V337.2M42.4 267.6H237.6M42.4 299.4H237.6M42.4 331.3H237.6" stroke="#c4c4c4" stroke-width="0.9" stroke-dasharray="1 1.2" fill="none"/><path d="M42.4 251.8H237.6V337.2" stroke="#bdbdbd" stroke-width="1.3" fill="none"/><path d="M42.4 251.8V337.2" stroke="#8a8a8a" stroke-width="1" fill="none"/><path d="M41.9 337.2H237.6" stroke="#555" stroke-width="1.1" fill="none"/><path d="M42.4 267.6h4.4M42.4 299.4h4.4M42.4 331.3h4.4M62.5 337.2v-2.6M119 337.2v-2.6M175.5 337.2v-2.6M232 337.2v-2.6" stroke="#333" stroke-width="0.9" fill="none"/>
<path d="M288.5 251.8V337.2M344.9 251.8V337.2M401.3 251.8V337.2M457.7 251.8V337.2M268.2 267.6H463.8M268.2 299.4H463.8M268.2 331.3H463.8" stroke="#c4c4c4" stroke-width="0.9" stroke-dasharray="1 1.2" fill="none"/><path d="M268.2 251.8H463.8V337.2" stroke="#bdbdbd" stroke-width="1.3" fill="none"/><path d="M268.2 251.8V337.2" stroke="#8a8a8a" stroke-width="1" fill="none"/><path d="M267.7 337.2H463.8" stroke="#555" stroke-width="1.1" fill="none"/><path d="M268.2 267.6h4.4M268.2 299.4h4.4M268.2 331.3h4.4M288.5 337.2v-2.6M344.9 337.2v-2.6M401.3 337.2v-2.6M457.7 337.2v-2.6" stroke="#333" stroke-width="0.9" fill="none"/>
<path d="M509.6 251.8V337.2M565.9 251.8V337.2M622.3 251.8V337.2M678.6 251.8V337.2M489 267.6H685.5M489 299.4H685.5M489 331.3H685.5" stroke="#c4c4c4" stroke-width="0.9" stroke-dasharray="1 1.2" fill="none"/><path d="M489 251.8H685.5V337.2" stroke="#bdbdbd" stroke-width="1.3" fill="none"/><path d="M489 251.8V337.2" stroke="#8a8a8a" stroke-width="1" fill="none"/><path d="M488.5 337.2H685.5" stroke="#555" stroke-width="1.1" fill="none"/><path d="M489 267.6h4.4M489 299.4h4.4M489 331.3h4.4M509.6 337.2v-2.6M565.9 337.2v-2.6M622.3 337.2v-2.6M678.6 337.2v-2.6" stroke="#333" stroke-width="0.9" fill="none"/>
<text x="62.5" y="348.8" class="tk" text-anchor="middle">−20</text>
<text x="119" y="348.8" class="tk" text-anchor="middle">0</text>
<text x="175.5" y="348.8" class="tk" text-anchor="middle">20</text>
<text x="232" y="348.8" class="tk" text-anchor="middle">40</text>
<text x="140" y="365.6" class="lb" letter-spacing="0.12" text-anchor="middle">Frequency detuning, <tspan font-style="italic">Δ</tspan> (<tspan font-style="italic">Γ</tspan>)</text>
<text x="288.5" y="348.8" class="tk" text-anchor="middle">−20</text>
<text x="344.9" y="348.8" class="tk" text-anchor="middle">0</text>
<text x="401.3" y="348.8" class="tk" text-anchor="middle">20</text>
<text x="457.7" y="348.8" class="tk" text-anchor="middle">40</text>
<text x="366" y="365.6" class="lb" letter-spacing="0.12" text-anchor="middle">Frequency detuning, <tspan font-style="italic">Δ</tspan> (<tspan font-style="italic">Γ</tspan>)</text>
<text x="509.6" y="348.8" class="tk" text-anchor="middle">−20</text>
<text x="565.9" y="348.8" class="tk" text-anchor="middle">0</text>
<text x="622.3" y="348.8" class="tk" text-anchor="middle">20</text>
<text x="678.6" y="348.8" class="tk" text-anchor="middle">40</text>
<text x="587" y="365.6" class="lb" letter-spacing="0.12" text-anchor="middle">Frequency detuning, <tspan font-style="italic">Δ</tspan> (<tspan font-style="italic">Γ</tspan>)</text>
<text x="37.6" y="271" class="tk" text-anchor="end">2</text>
<text x="37.6" y="302.8" class="tk" text-anchor="end">1</text>
<text x="37.6" y="334.7" class="tk" text-anchor="end">0</text>
<text transform="translate(9.6 294.5) rotate(-90)" class="lb" text-anchor="middle">Relative</text>
<text transform="translate(21.4 292.3) rotate(-90)" class="lb" text-anchor="middle">transmission, <tspan font-style="italic">I</tspan>(<tspan font-style="italic">ξ</tspan>)/<tspan font-style="italic">I</tspan><tspan font-size="8" dy="2.4">0</tspan></text>
<text x="50.2" y="295.4" class="lb"><tspan font-style="italic">I</tspan><tspan font-size="7.8" dy="3.5">0</tspan><tspan dy="-3.5"> = 143</tspan></text>
<text x="274.4" y="292.3" class="lb"><tspan font-style="italic">I</tspan><tspan font-size="7.8" dy="3.5">0</tspan><tspan dy="-3.5"> = 665</tspan></text>
<text x="495.5" y="295.3" class="lb"><tspan font-style="italic">I</tspan><tspan font-size="7.8" dy="3.5">0</tspan><tspan dy="-3.5"> = 94</tspan></text>
<defs><clipPath id="cpd"><rect x="42.4" y="251.8" width="195.2" height="85.4"/></clipPath><clipPath id="cpe"><rect x="268.2" y="251.8" width="195.6" height="85.4"/></clipPath><clipPath id="cpf"><rect x="489" y="251.8" width="196.5" height="85.4"/></clipPath></defs>
<g fill="#3b6faf" clip-path="url(#cpd)"><circle cx="42.6" cy="270.5" r="1.9"/><circle cx="43.2" cy="274.5" r="1.9"/><circle cx="43.0" cy="278.5" r="1.9"/><circle cx="44.2" cy="281.0" r="1.9"/><circle cx="45.5" cy="276.5" r="1.9"/><circle cx="46.2" cy="272.0" r="1.9"/><circle cx="47.2" cy="279.5" r="1.9"/><circle cx="48.2" cy="275.0" r="1.9"/><circle cx="44.8" cy="268.8" r="1.9"/><circle cx="46.8" cy="270.0" r="1.9"/><circle cx="49.2" cy="269.4" r="1.9"/><circle cx="52.5" cy="271.0" r="1.9"/><circle cx="54.1" cy="274.3" r="1.9"/><circle cx="56.8" cy="273.2" r="1.9"/><circle cx="59.0" cy="271.6" r="1.9"/><circle cx="61.2" cy="271.6" r="1.9"/><circle cx="62.8" cy="277.6" r="1.9"/><circle cx="65.0" cy="275.4" r="1.9"/><circle cx="66.6" cy="271.6" r="1.9"/><circle cx="68.8" cy="276.5" r="1.9"/><circle cx="71.0" cy="277.6" r="1.9"/><circle cx="73.2" cy="277.6" r="1.9"/><circle cx="75.3" cy="277.9" r="1.9"/><circle cx="77.5" cy="282.8" r="1.9"/><circle cx="79.7" cy="279.7" r="1.9"/><circle cx="82.4" cy="274.8" r="1.9"/><circle cx="84.6" cy="278.1" r="1.9"/><circle cx="87.3" cy="275.4" r="1.9"/><circle cx="90.0" cy="282.5" r="1.9"/><circle cx="93.3" cy="282.5" r="1.9"/><circle cx="96.0" cy="283.5" r="1.9"/><circle cx="98.7" cy="286.8" r="1.9"/><circle cx="101.0" cy="296.4" r="1.9"/><circle cx="104.2" cy="295.5" r="1.9"/><circle cx="106.7" cy="300.4" r="1.9"/><circle cx="109.7" cy="297.4" r="1.9"/><circle cx="112.4" cy="296.1" r="1.9"/><circle cx="115.4" cy="299.1" r="1.9"/><circle cx="118.4" cy="301.5" r="1.9"/><circle cx="121.6" cy="300.2" r="1.9"/><circle cx="124.6" cy="301.0" r="1.9"/><circle cx="127.6" cy="298.5" r="1.9"/><circle cx="130.7" cy="302.8" r="1.9"/><circle cx="133.6" cy="299.1" r="1.9"/><circle cx="136.8" cy="297.4" r="1.9"/><circle cx="139.8" cy="299.3" r="1.9"/><circle cx="142.8" cy="291.5" r="1.9"/><circle cx="146.1" cy="289.0" r="1.9"/><circle cx="149.0" cy="283.9" r="1.9"/><circle cx="152.0" cy="279.8" r="1.9"/><circle cx="155.2" cy="274.3" r="1.9"/><circle cx="158.2" cy="270.2" r="1.9"/><circle cx="161.2" cy="272.2" r="1.9"/><circle cx="164.1" cy="271.5" r="1.9"/><circle cx="167.1" cy="265.1" r="1.9"/><circle cx="170.1" cy="272.1" r="1.9"/><circle cx="172.8" cy="263.7" r="1.9"/><circle cx="175.9" cy="265.1" r="1.9"/><circle cx="178.8" cy="274.3" r="1.9"/><circle cx="181.5" cy="266.6" r="1.9"/><circle cx="184.2" cy="269.1" r="1.9"/><circle cx="187.0" cy="263.7" r="1.9"/><circle cx="189.7" cy="265.3" r="1.9"/><circle cx="192.4" cy="268.6" r="1.9"/><circle cx="195.0" cy="275.1" r="1.9"/><circle cx="197.3" cy="268.6" r="1.9"/><circle cx="199.9" cy="266.8" r="1.9"/><circle cx="202.3" cy="263.1" r="1.9"/><circle cx="204.6" cy="272.1" r="1.9"/><circle cx="206.9" cy="266.8" r="1.9"/><circle cx="209.3" cy="267.2" r="1.9"/><circle cx="211.3" cy="269.7" r="1.9"/><circle cx="213.3" cy="266.8" r="1.9"/><circle cx="215.2" cy="274.0" r="1.9"/><circle cx="217.2" cy="268.9" r="1.9"/><circle cx="219.2" cy="266.4" r="1.9"/><circle cx="220.9" cy="279.3" r="1.9"/><circle cx="222.3" cy="270.9" r="1.9"/><circle cx="223.9" cy="271.7" r="1.9"/><circle cx="225.6" cy="272.9" r="1.9"/><circle cx="227.2" cy="266.8" r="1.9"/><circle cx="228.4" cy="275.8" r="1.9"/><circle cx="230.9" cy="264.8" r="1.9"/><circle cx="231.5" cy="268.5" r="1.9"/><circle cx="232.8" cy="270.5" r="1.9"/><circle cx="233.8" cy="273.0" r="1.9"/><circle cx="234.8" cy="275.5" r="1.9"/><circle cx="236.3" cy="271.0" r="1.9"/><circle cx="237.2" cy="268.0" r="1.9"/><circle cx="235.8" cy="266.5" r="1.9"/><circle cx="237.0" cy="276.0" r="1.9"/><circle cx="235.3" cy="263.1" r="1.9"/><circle cx="236.5" cy="273.5" r="1.9"/></g>
<g fill="#3b6faf" clip-path="url(#cpe)"><circle cx="268.5" cy="301.0" r="1.9"/><circle cx="269.8" cy="301.4" r="1.9"/><circle cx="271.1" cy="301.5" r="1.9"/><circle cx="272.4" cy="302.0" r="1.9"/><circle cx="273.7" cy="301.4" r="1.9"/><circle cx="275.0" cy="302.0" r="1.9"/><circle cx="276.3" cy="299.1" r="1.9"/><circle cx="277.6" cy="300.5" r="1.9"/><circle cx="278.9" cy="302.0" r="1.9"/><circle cx="280.2" cy="301.1" r="1.9"/><circle cx="281.5" cy="301.9" r="1.9"/><circle cx="282.8" cy="299.4" r="1.9"/><circle cx="284.1" cy="300.5" r="1.9"/><circle cx="285.4" cy="299.8" r="1.9"/><circle cx="286.7" cy="303.4" r="1.9"/><circle cx="288.4" cy="302.3" r="1.9"/><circle cx="290.5" cy="300.6" r="1.9"/><circle cx="292.7" cy="299.0" r="1.9"/><circle cx="294.3" cy="305.0" r="1.9"/><circle cx="296.5" cy="302.8" r="1.9"/><circle cx="298.7" cy="301.2" r="1.9"/><circle cx="300.9" cy="304.5" r="1.9"/><circle cx="303.0" cy="302.8" r="1.9"/><circle cx="305.8" cy="302.3" r="1.9"/><circle cx="308.5" cy="303.4" r="1.9"/><circle cx="310.7" cy="305.0" r="1.9"/><circle cx="312.8" cy="306.1" r="1.9"/><circle cx="315.0" cy="306.6" r="1.9"/><circle cx="317.2" cy="308.3" r="1.9"/><circle cx="319.3" cy="310.4" r="1.9"/><circle cx="321.5" cy="313.3" r="1.9"/><circle cx="324.2" cy="317.6" r="1.9"/><circle cx="327.2" cy="321.5" r="1.9"/><circle cx="330.0" cy="326.3" r="1.9"/><circle cx="332.6" cy="329.1" r="1.9"/><circle cx="335.7" cy="328.0" r="1.9"/><circle cx="338.4" cy="330.4" r="1.9"/><circle cx="341.3" cy="331.0" r="1.9"/><circle cx="344.3" cy="331.3" r="1.9"/><circle cx="347.4" cy="330.7" r="1.9"/><circle cx="350.3" cy="331.0" r="1.9"/><circle cx="353.3" cy="331.2" r="1.9"/><circle cx="356.5" cy="329.1" r="1.9"/><circle cx="359.6" cy="329.3" r="1.9"/><circle cx="362.6" cy="329.9" r="1.9"/><circle cx="365.5" cy="328.0" r="1.9"/><circle cx="368.8" cy="324.5" r="1.9"/><circle cx="371.8" cy="319.8" r="1.9"/><circle cx="374.6" cy="316.0" r="1.9"/><circle cx="377.8" cy="309.9" r="1.9"/><circle cx="380.9" cy="309.1" r="1.9"/><circle cx="384.1" cy="305.2" r="1.9"/><circle cx="387.2" cy="305.9" r="1.9"/><circle cx="390.1" cy="301.5" r="1.9"/><circle cx="393.0" cy="303.0" r="1.9"/><circle cx="396.1" cy="300.4" r="1.9"/><circle cx="398.8" cy="303.0" r="1.9"/><circle cx="401.7" cy="299.9" r="1.9"/><circle cx="404.8" cy="304.1" r="1.9"/><circle cx="407.5" cy="300.7" r="1.9"/><circle cx="410.2" cy="299.6" r="1.9"/><circle cx="412.9" cy="299.8" r="1.9"/><circle cx="415.7" cy="299.0" r="1.9"/><circle cx="418.4" cy="298.7" r="1.9"/><circle cx="420.9" cy="297.2" r="1.9"/><circle cx="423.3" cy="301.2" r="1.9"/><circle cx="426.0" cy="299.6" r="1.9"/><circle cx="428.7" cy="301.2" r="1.9"/><circle cx="429.5" cy="299.3" r="1.9"/><circle cx="430.8" cy="299.4" r="1.9"/><circle cx="432.0" cy="297.6" r="1.9"/><circle cx="433.2" cy="298.3" r="1.9"/><circle cx="434.5" cy="298.5" r="1.9"/><circle cx="435.8" cy="300.5" r="1.9"/><circle cx="437.0" cy="300.1" r="1.9"/><circle cx="438.2" cy="298.1" r="1.9"/><circle cx="439.5" cy="300.2" r="1.9"/><circle cx="440.8" cy="298.0" r="1.9"/><circle cx="442.0" cy="299.6" r="1.9"/><circle cx="443.2" cy="298.0" r="1.9"/><circle cx="444.5" cy="297.6" r="1.9"/><circle cx="445.8" cy="300.4" r="1.9"/><circle cx="447.0" cy="298.3" r="1.9"/><circle cx="448.2" cy="298.3" r="1.9"/><circle cx="449.5" cy="300.7" r="1.9"/><circle cx="450.8" cy="300.4" r="1.9"/><circle cx="452.0" cy="298.5" r="1.9"/><circle cx="453.2" cy="300.7" r="1.9"/><circle cx="454.5" cy="299.3" r="1.9"/><circle cx="455.8" cy="299.8" r="1.9"/><circle cx="457.0" cy="298.3" r="1.9"/><circle cx="458.2" cy="300.6" r="1.9"/><circle cx="459.5" cy="299.8" r="1.9"/><circle cx="460.8" cy="300.7" r="1.9"/><circle cx="462.0" cy="300.5" r="1.9"/><circle cx="463.2" cy="298.6" r="1.9"/></g>
<g fill="#3b6faf" clip-path="url(#cpf)"><circle cx="489.6" cy="260.0" r="1.9"/><circle cx="490.0" cy="265.0" r="1.9"/><circle cx="490.5" cy="268.0" r="1.9"/><circle cx="491.0" cy="271.0" r="1.9"/><circle cx="492.0" cy="273.4" r="1.9"/><circle cx="493.0" cy="266.0" r="1.9"/><circle cx="494.0" cy="269.0" r="1.9"/><circle cx="495.9" cy="265.2" r="1.9"/><circle cx="497.0" cy="270.0" r="1.9"/><circle cx="489.5" cy="272.0" r="1.9"/><circle cx="499.1" cy="268.0" r="1.9"/><circle cx="501.3" cy="269.6" r="1.9"/><circle cx="502.4" cy="266.8" r="1.9"/><circle cx="504.3" cy="260.7" r="1.9"/><circle cx="505.9" cy="271.7" r="1.9"/><circle cx="507.8" cy="269.0" r="1.9"/><circle cx="509.8" cy="267.9" r="1.9"/><circle cx="511.4" cy="257.8" r="1.9"/><circle cx="513.5" cy="270.1" r="1.9"/><circle cx="515.7" cy="271.2" r="1.9"/><circle cx="517.6" cy="269.8" r="1.9"/><circle cx="519.8" cy="261.7" r="1.9"/><circle cx="522.2" cy="258.5" r="1.9"/><circle cx="524.3" cy="274.1" r="1.9"/><circle cx="526.8" cy="275.2" r="1.9"/><circle cx="529.3" cy="257.8" r="1.9"/><circle cx="531.7" cy="276.1" r="1.9"/><circle cx="534.5" cy="266.1" r="1.9"/><circle cx="537.0" cy="266.8" r="1.9"/><circle cx="539.3" cy="268.3" r="1.9"/><circle cx="540.5" cy="267.9" r="1.9"/><circle cx="542.4" cy="273.0" r="1.9"/><circle cx="545.0" cy="267.9" r="1.9"/><circle cx="547.8" cy="269.0" r="1.9"/><circle cx="550.7" cy="270.9" r="1.9"/><circle cx="553.6" cy="270.1" r="1.9"/><circle cx="556.5" cy="258.9" r="1.9"/><circle cx="559.6" cy="271.5" r="1.9"/><circle cx="562.5" cy="267.2" r="1.9"/><circle cx="565.5" cy="277.0" r="1.9"/><circle cx="568.5" cy="266.8" r="1.9"/><circle cx="571.5" cy="265.8" r="1.9"/><circle cx="574.6" cy="273.9" r="1.9"/><circle cx="577.5" cy="269.0" r="1.9"/><circle cx="580.8" cy="269.0" r="1.9"/><circle cx="583.7" cy="267.1" r="1.9"/><circle cx="586.7" cy="272.8" r="1.9"/><circle cx="589.8" cy="266.5" r="1.9"/><circle cx="592.9" cy="272.6" r="1.9"/><circle cx="596.0" cy="270.4" r="1.9"/><circle cx="598.9" cy="265.8" r="1.9"/><circle cx="602.1" cy="263.3" r="1.9"/><circle cx="605.0" cy="267.4" r="1.9"/><circle cx="608.0" cy="260.9" r="1.9"/><circle cx="611.1" cy="260.9" r="1.9"/><circle cx="614.0" cy="273.0" r="1.9"/><circle cx="617.0" cy="260.0" r="1.9"/><circle cx="620.0" cy="262.8" r="1.9"/><circle cx="622.9" cy="269.8" r="1.9"/><circle cx="625.8" cy="274.8" r="1.9"/><circle cx="628.5" cy="260.3" r="1.9"/><circle cx="631.2" cy="264.3" r="1.9"/><circle cx="633.9" cy="271.5" r="1.9"/><circle cx="636.3" cy="263.0" r="1.9"/><circle cx="639.2" cy="263.0" r="1.9"/><circle cx="641.7" cy="274.8" r="1.9"/><circle cx="644.4" cy="264.0" r="1.9"/><circle cx="646.8" cy="267.5" r="1.9"/><circle cx="649.0" cy="261.5" r="1.9"/><circle cx="651.4" cy="266.9" r="1.9"/><circle cx="653.8" cy="270.5" r="1.9"/><circle cx="655.7" cy="272.4" r="1.9"/><circle cx="658.1" cy="271.9" r="1.9"/><circle cx="660.2" cy="270.2" r="1.9"/><circle cx="662.1" cy="266.4" r="1.9"/><circle cx="663.8" cy="262.8" r="1.9"/><circle cx="665.7" cy="259.7" r="1.9"/><circle cx="667.6" cy="274.7" r="1.9"/><circle cx="669.5" cy="262.8" r="1.9"/><circle cx="670.9" cy="262.8" r="1.9"/><circle cx="672.4" cy="273.0" r="1.9"/><circle cx="673.8" cy="267.6" r="1.9"/><circle cx="675.7" cy="268.8" r="1.9"/><circle cx="677.6" cy="264.5" r="1.9"/><circle cx="678.5" cy="269.5" r="1.9"/><circle cx="680.0" cy="263.8" r="1.9"/><circle cx="681.4" cy="274.7" r="1.9"/><circle cx="682.3" cy="269.0" r="1.9"/><circle cx="683.8" cy="280.4" r="1.9"/><circle cx="678.0" cy="267.0" r="1.9"/><circle cx="681.0" cy="266.5" r="1.9"/><circle cx="682.5" cy="272.0" r="1.9"/><circle cx="684.5" cy="275.0" r="1.9"/><circle cx="683.0" cy="264.5" r="1.9"/></g>
</svg>
</body></html>
